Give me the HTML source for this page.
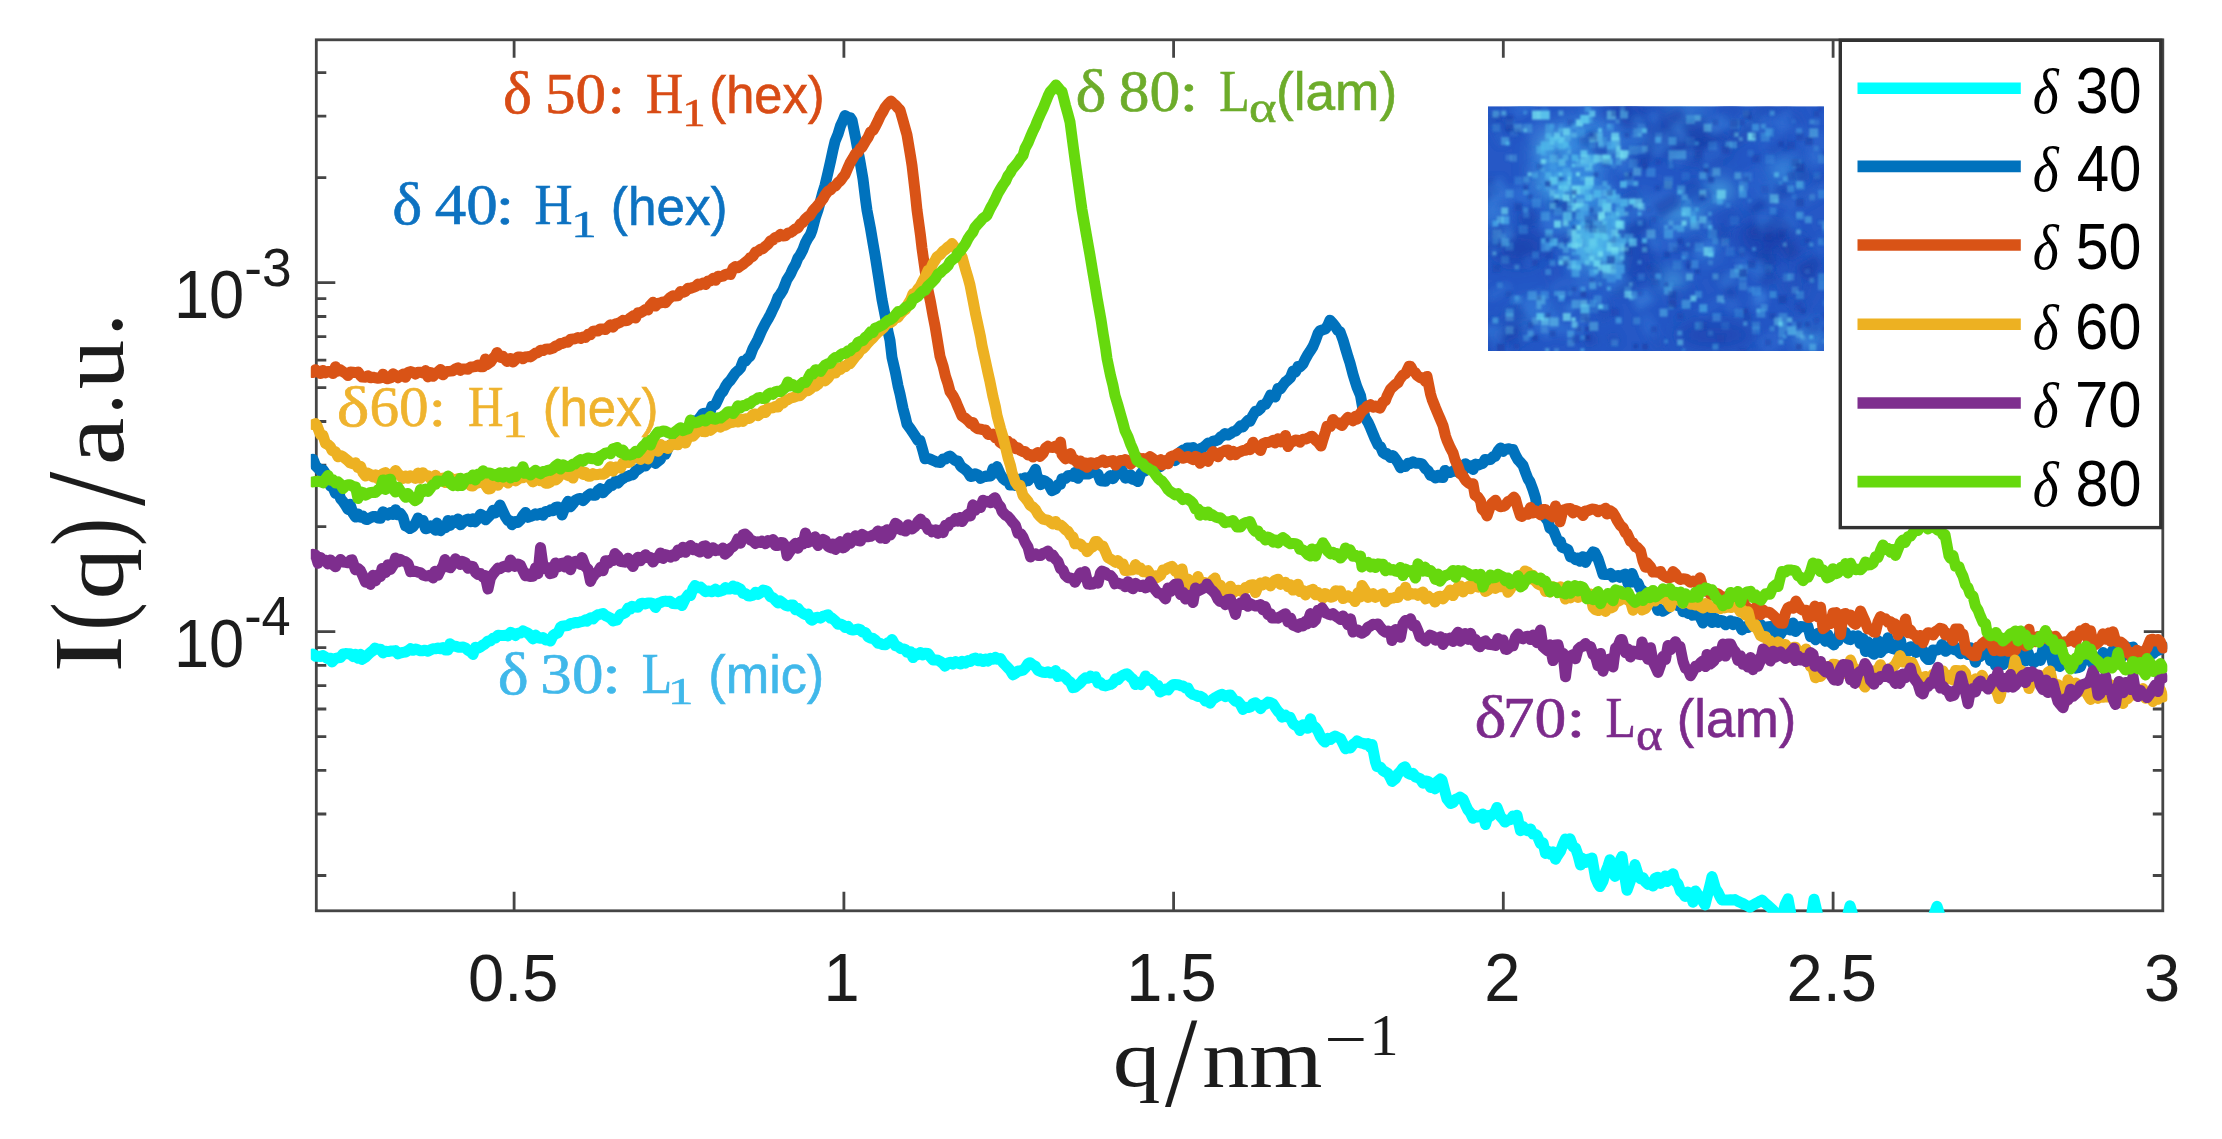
<!DOCTYPE html>
<html lang="en"><head><meta charset="utf-8"><title>SAXS I(q) plot</title>
<style>html,body{margin:0;padding:0;background:#fff;}body{width:2222px;height:1139px;overflow:hidden;}svg{display:block;}.sans{font-family:"Liberation Sans",sans-serif;}.serif{font-family:"Liberation Serif",serif;}</style>
</head><body>
<svg width="2222" height="1139" viewBox="0 0 2222 1139">
<defs>
<clipPath id="axclip"><rect x="310.8" y="38.8" width="1856.5000000000002" height="874.0"/></clipPath>
<filter id="soft" x="-2%" y="-2%" width="104%" height="104%"><feGaussianBlur stdDeviation="0.7"/></filter>
<filter id="blob" x="-50%" y="-50%" width="200%" height="200%"><feGaussianBlur stdDeviation="9"/></filter>
<filter id="spk" x="-5%" y="-5%" width="110%" height="110%"><feGaussianBlur stdDeviation="1.3"/></filter>
<filter id="mot" x="-5%" y="-5%" width="110%" height="110%"><feGaussianBlur stdDeviation="3"/></filter>
<clipPath id="insclip"><rect x="1488" y="106.2" width="336" height="244.8"/></clipPath>
</defs>
<rect width="2222" height="1139" fill="#fff"/>
<g id="all" filter="url(#soft)">
<g stroke="#454545" stroke-width="2.8" fill="none">
<rect x="316.3" y="39.8" width="1846.5000000000002" height="871.0"/>
<path d="M514.1,910.8 v-19 M514.1,39.8 v18 M843.9,910.8 v-19 M843.9,39.8 v18 M1173.6,910.8 v-19 M1173.6,39.8 v18 M1503.3,910.8 v-19 M1503.3,39.8 v18 M1833.1,910.8 v-19 M1833.1,39.8 v18 M316.3,875.5 h10 M2162.8,875.5 h-10 M316.3,814.0 h10 M2162.8,814.0 h-10 M316.3,770.4 h10 M2162.8,770.4 h-10 M316.3,736.6 h10 M2162.8,736.6 h-10 M316.3,709.0 h10 M2162.8,709.0 h-10 M316.3,685.6 h10 M2162.8,685.6 h-10 M316.3,665.4 h10 M2162.8,665.4 h-10 M316.3,647.6 h10 M2162.8,647.6 h-10 M316.3,631.6 h19 M2162.8,631.6 h-19 M316.3,526.6 h10 M2162.8,526.6 h-10 M316.3,465.1 h10 M2162.8,465.1 h-10 M316.3,421.5 h10 M2162.8,421.5 h-10 M316.3,387.7 h10 M2162.8,387.7 h-10 M316.3,360.1 h10 M2162.8,360.1 h-10 M316.3,336.7 h10 M2162.8,336.7 h-10 M316.3,316.5 h10 M2162.8,316.5 h-10 M316.3,298.7 h10 M2162.8,298.7 h-10 M316.3,282.7 h19 M2162.8,282.7 h-19 M316.3,177.7 h10 M2162.8,177.7 h-10 M316.3,116.2 h10 M2162.8,116.2 h-10 M316.3,72.6 h10 M2162.8,72.6 h-10"/>
</g>
<g clip-path="url(#axclip)" fill="none" stroke-linejoin="round" stroke-linecap="round">
<path d="M313.0,653.9 L315.5,656.3 L318.0,656.2 L320.5,656.4 L323.0,655.6 L325.5,657.2 L328.0,658.7 L330.5,658.2 L332.0,662.0 L335.5,658.3 L338.0,657.8 L340.5,657.5 L343.0,654.0 L345.5,653.6 L348.0,653.8 L350.0,653.7 L353.0,656.4 L355.5,654.2 L358.0,658.3 L360.5,654.3 L362.0,659.4 L365.5,657.2 L368.0,654.6 L370.5,652.4 L373.0,650.5 L375.0,648.1 L378.0,649.3 L380.5,649.2 L383.0,652.9 L385.5,651.2 L388.0,651.6 L390.5,651.1 L393.0,650.9 L395.5,650.6 L398.0,653.8 L400.0,653.0 L403.0,652.4 L405.5,652.0 L408.0,650.7 L410.5,648.7 L413.0,650.3 L415.5,649.0 L418.0,649.8 L420.5,650.8 L423.0,650.7 L425.0,650.2 L428.0,651.3 L430.5,649.9 L433.0,648.8 L435.5,648.7 L438.0,647.9 L440.5,648.7 L443.0,647.5 L445.5,650.1 L448.0,649.9 L450.0,643.7 L453.0,646.1 L455.5,646.2 L458.0,647.2 L460.5,647.2 L463.0,647.1 L465.5,647.9 L468.0,650.4 L470.0,651.0 L473.0,654.5 L475.5,647.3 L478.0,648.3 L480.5,646.9 L483.0,645.0 L485.0,644.0 L488.0,640.9 L490.5,640.9 L493.0,638.3 L495.5,638.0 L498.0,635.2 L500.0,635.5 L503.0,635.4 L505.5,635.3 L508.0,635.9 L510.5,632.3 L513.0,633.5 L515.5,635.5 L518.0,633.2 L520.5,633.0 L523.0,630.9 L525.0,632.0 L528.0,633.1 L530.5,636.0 L533.0,638.9 L535.5,635.1 L538.0,637.8 L540.5,638.2 L543.0,637.5 L545.5,639.9 L547.0,639.2 L550.5,641.0 L553.0,635.6 L555.5,633.9 L558.0,632.9 L560.5,627.1 L562.0,626.2 L565.5,625.8 L568.0,625.5 L570.5,623.4 L573.0,623.2 L575.5,622.4 L578.0,622.7 L580.5,621.8 L583.0,621.4 L585.5,619.8 L587.0,621.1 L590.5,617.9 L593.0,618.9 L595.5,616.2 L598.0,614.7 L600.0,614.3 L603.0,613.5 L605.5,615.7 L608.0,616.8 L610.5,618.1 L613.0,621.0 L615.5,620.3 L617.0,620.1 L620.5,614.4 L623.0,613.8 L625.5,612.6 L628.0,608.1 L630.5,608.9 L632.0,606.3 L635.5,607.1 L638.0,607.2 L640.5,603.7 L643.0,603.2 L645.5,603.9 L648.0,602.9 L650.0,602.9 L653.0,603.6 L655.5,607.5 L658.0,603.3 L660.5,602.7 L663.0,601.4 L665.5,601.1 L668.0,601.5 L670.0,601.2 L673.0,603.6 L675.5,603.8 L678.0,603.7 L680.5,601.0 L682.0,605.5 L685.5,598.4 L688.0,594.9 L690.5,595.6 L693.0,588.5 L695.0,585.5 L698.0,587.7 L700.5,587.1 L703.0,589.4 L705.5,591.7 L708.0,591.1 L710.5,591.2 L712.0,591.8 L715.5,589.2 L718.0,591.7 L720.5,591.1 L723.0,590.3 L725.5,587.6 L728.0,589.0 L730.5,588.9 L733.0,586.1 L735.5,589.3 L737.0,587.3 L740.5,589.2 L743.0,593.5 L745.5,593.4 L748.0,595.8 L750.0,596.1 L753.0,595.2 L755.5,592.3 L758.0,594.4 L760.5,592.9 L763.0,590.1 L765.5,590.7 L767.0,591.2 L770.5,596.9 L773.0,597.5 L775.5,600.4 L778.0,603.0 L780.0,600.9 L783.0,603.2 L785.5,605.2 L788.0,606.0 L790.5,605.1 L793.0,604.9 L795.5,609.7 L798.0,608.3 L800.0,611.2 L803.0,613.3 L805.5,614.6 L808.0,614.1 L810.5,619.2 L812.0,620.2 L815.5,617.7 L818.0,617.3 L820.5,618.2 L823.0,616.3 L825.5,615.6 L828.0,614.8 L830.5,618.3 L832.0,618.1 L835.5,621.1 L838.0,624.2 L840.5,624.0 L843.0,625.2 L845.0,627.5 L848.0,626.4 L850.5,629.6 L853.0,630.0 L855.5,629.6 L858.0,629.0 L860.5,629.8 L862.0,631.8 L865.5,632.6 L868.0,636.8 L870.5,638.0 L873.0,638.5 L875.5,640.3 L878.0,643.3 L880.5,643.5 L882.0,644.5 L885.5,644.8 L888.0,642.7 L890.5,642.2 L892.0,639.5 L895.5,645.8 L898.0,646.5 L900.5,648.5 L903.0,648.9 L905.5,649.6 L907.0,652.3 L910.5,651.7 L913.0,657.6 L915.5,653.9 L918.0,654.6 L920.5,652.5 L923.0,655.0 L925.0,653.2 L928.0,653.5 L930.5,657.0 L933.0,660.0 L935.5,659.9 L938.0,660.3 L940.5,661.6 L943.0,663.6 L945.0,666.2 L948.0,663.0 L950.5,662.2 L953.0,664.1 L955.5,661.6 L958.0,663.3 L960.5,664.0 L962.0,661.2 L965.5,663.1 L968.0,660.6 L970.5,661.5 L973.0,658.8 L975.5,658.1 L978.0,660.7 L980.0,659.0 L983.0,661.5 L985.5,659.0 L988.0,661.2 L990.5,658.3 L993.0,659.3 L995.5,657.3 L997.0,659.3 L1000.5,658.5 L1003.0,662.7 L1005.5,665.3 L1008.0,667.9 L1010.0,670.0 L1013.0,674.9 L1015.5,673.4 L1018.0,671.0 L1020.0,670.9 L1023.0,670.2 L1025.5,667.6 L1028.0,663.5 L1030.0,662.7 L1033.0,665.0 L1035.5,666.4 L1038.0,670.4 L1040.5,671.4 L1043.0,672.2 L1045.5,672.5 L1048.0,671.8 L1050.0,672.9 L1053.0,673.0 L1055.5,670.6 L1058.0,676.5 L1060.5,675.9 L1062.0,674.9 L1065.5,677.4 L1068.0,680.4 L1070.5,682.2 L1073.0,687.6 L1075.0,687.3 L1078.0,684.8 L1080.5,682.9 L1083.0,679.8 L1085.5,677.8 L1088.0,678.3 L1090.5,676.1 L1092.0,677.6 L1095.5,676.9 L1098.0,683.0 L1100.5,682.5 L1103.0,685.4 L1105.5,685.9 L1107.0,685.3 L1110.5,684.5 L1113.0,683.0 L1115.5,678.9 L1118.0,679.7 L1120.5,676.7 L1123.0,675.3 L1125.5,674.1 L1127.0,673.7 L1130.5,677.2 L1133.0,679.2 L1135.5,684.6 L1137.0,682.0 L1140.5,684.7 L1143.0,681.6 L1145.5,675.9 L1148.0,680.2 L1150.0,679.4 L1153.0,682.0 L1155.5,685.7 L1158.0,685.5 L1160.0,692.0 L1163.0,690.6 L1165.5,689.0 L1168.0,690.0 L1170.5,686.8 L1173.0,684.8 L1175.0,684.5 L1178.0,684.7 L1180.5,685.7 L1183.0,686.0 L1185.5,688.1 L1188.0,688.1 L1190.0,692.1 L1193.0,694.5 L1195.5,695.1 L1198.0,696.5 L1200.5,696.3 L1203.0,697.9 L1205.5,701.1 L1208.0,701.4 L1210.0,703.2 L1213.0,699.1 L1215.5,697.5 L1218.0,696.1 L1220.5,694.7 L1222.0,694.3 L1225.5,696.6 L1228.0,695.3 L1230.5,695.1 L1233.0,698.7 L1235.5,701.3 L1238.0,701.4 L1240.5,704.5 L1243.0,709.4 L1245.0,707.2 L1248.0,707.6 L1250.5,707.0 L1253.0,703.6 L1255.5,702.7 L1258.0,704.7 L1260.5,708.7 L1263.0,705.3 L1265.5,704.2 L1268.0,702.1 L1270.0,702.4 L1273.0,703.9 L1275.5,707.8 L1278.0,711.4 L1280.5,713.7 L1282.0,717.2 L1285.5,715.2 L1288.0,717.2 L1290.0,717.2 L1293.0,723.5 L1295.5,725.4 L1298.0,726.6 L1300.0,730.5 L1303.0,724.8 L1305.5,727.7 L1308.0,728.3 L1310.5,718.7 L1312.0,724.5 L1315.5,727.4 L1318.0,731.1 L1320.5,736.6 L1323.0,740.2 L1325.0,742.1 L1328.0,738.3 L1330.5,739.5 L1333.0,737.1 L1335.0,736.1 L1338.0,737.5 L1340.5,738.5 L1343.0,743.5 L1345.5,748.7 L1347.0,747.3 L1350.5,748.0 L1353.0,744.3 L1355.5,742.7 L1357.0,740.9 L1360.5,742.8 L1363.0,743.3 L1365.5,744.3 L1368.0,743.6 L1370.5,747.5 L1372.0,744.4 L1375.5,762.1 L1377.0,766.6 L1380.5,767.1 L1383.0,770.7 L1385.5,772.0 L1388.0,773.5 L1390.5,778.2 L1392.0,781.4 L1395.5,778.6 L1398.0,773.8 L1400.5,771.2 L1403.0,767.8 L1405.0,766.7 L1408.0,773.1 L1410.5,774.5 L1413.0,773.4 L1415.5,777.0 L1418.0,777.8 L1420.0,778.6 L1423.0,783.2 L1425.5,780.9 L1428.0,781.4 L1430.5,787.5 L1433.0,783.3 L1435.0,788.9 L1438.0,781.0 L1440.5,778.9 L1442.0,780.2 L1445.5,793.6 L1447.0,798.9 L1450.5,803.5 L1453.0,802.6 L1455.5,799.3 L1458.0,798.3 L1460.0,797.0 L1463.0,799.0 L1465.5,804.8 L1468.0,810.1 L1470.5,813.1 L1473.0,818.3 L1475.0,815.4 L1478.0,817.0 L1480.5,815.9 L1483.0,813.9 L1485.5,824.6 L1488.0,815.4 L1490.0,816.4 L1493.0,814.0 L1495.5,811.1 L1497.0,807.4 L1500.5,816.5 L1503.0,819.2 L1505.0,822.1 L1508.0,820.1 L1510.5,819.6 L1513.0,816.0 L1515.5,816.7 L1517.0,815.3 L1520.5,830.7 L1523.0,826.4 L1525.0,829.6 L1528.0,830.8 L1530.5,828.9 L1533.0,834.1 L1535.5,834.4 L1537.0,835.4 L1540.5,843.7 L1543.0,842.7 L1545.5,853.4 L1547.0,850.8 L1550.5,854.2 L1553.0,851.7 L1555.5,859.2 L1557.0,856.3 L1560.5,851.2 L1563.0,844.4 L1565.5,838.9 L1568.0,843.2 L1570.0,838.7 L1573.0,846.7 L1575.5,847.9 L1578.0,855.1 L1580.5,865.0 L1582.0,858.1 L1585.5,862.6 L1588.0,859.2 L1590.5,861.1 L1592.0,858.0 L1595.5,877.8 L1598.0,883.6 L1600.0,886.6 L1603.0,881.1 L1605.5,872.2 L1608.0,866.0 L1610.0,859.7 L1613.0,870.5 L1615.0,876.4 L1618.0,873.3 L1620.5,859.7 L1622.0,856.5 L1625.5,881.2 L1627.0,890.3 L1630.5,880.6 L1633.0,874.2 L1635.0,864.6 L1638.0,874.2 L1640.5,878.8 L1643.0,877.6 L1645.0,881.5 L1648.0,884.3 L1650.5,882.6 L1653.0,886.1 L1655.0,878.4 L1658.0,877.2 L1660.5,883.4 L1663.0,879.9 L1665.5,875.9 L1667.0,881.6 L1670.5,875.8 L1673.0,873.8 L1675.0,880.9 L1678.0,884.0 L1680.5,891.2 L1683.0,893.5 L1685.0,896.4 L1688.0,892.2 L1690.5,893.4 L1693.0,902.3 L1695.5,890.9 L1697.0,893.5 L1700.5,897.7 L1703.0,901.7 L1705.0,904.9 L1708.0,893.1 L1710.5,883.1 L1712.0,876.6 L1715.5,888.6 L1718.0,892.3 L1720.5,897.6 L1722.0,899.9 L1725.5,900.1 L1728.0,899.9 L1730.5,899.8 L1733.0,900.1 L1735.0,899.6 L1738.0,901.4 L1740.5,902.5 L1743.0,903.6 L1745.5,905.0 L1748.0,906.0 L1750.0,907.2 L1753.0,905.2 L1755.5,903.6 L1758.0,902.3 L1760.5,901.0 L1762.0,900.1 L1765.5,903.4 L1768.0,905.5 L1770.5,907.8 L1773.0,910.1 L1775.0,912.1 L1778.0,919.9 L1780.0,925.2 L1783.0,912.9 L1785.0,905.0 L1788.0,898.8 L1790.5,912.0 L1793.0,925.0 L1795.5,925.3 L1798.0,925.0 L1800.5,924.9 L1803.0,925.1 L1805.5,925.4 L1808.0,925.0 L1810.0,924.9 L1814.0,899.2 L1815.5,905.5 L1818.0,916.3 L1820.0,925.1 L1823.0,925.0 L1825.5,925.2 L1828.0,925.0 L1830.5,925.0 L1833.0,924.9 L1835.5,925.1 L1838.0,924.8 L1840.5,925.0 L1843.0,925.0 L1845.0,925.3 L1848.0,913.7 L1850.0,905.8 L1853.0,915.6 L1856.0,925.0 L1858.0,924.9 L1860.5,925.1 L1863.0,925.1 L1865.5,925.1 L1868.0,924.6 L1870.5,925.1 L1873.0,924.9 L1875.5,925.2 L1878.0,925.0 L1880.5,924.7 L1883.0,924.9 L1885.5,924.8 L1888.0,925.0 L1890.5,924.9 L1893.0,925.0 L1895.5,925.0 L1898.0,925.1 L1900.5,924.9 L1903.0,924.9 L1905.5,924.9 L1908.0,924.7 L1910.5,925.1 L1913.0,925.0 L1915.5,925.0 L1918.0,925.0 L1920.5,925.0 L1923.0,924.8 L1925.5,924.9 L1928.0,924.9 L1930.0,925.1 L1933.0,916.8 L1935.5,910.1 L1937.0,906.3 L1940.5,917.0 L1943.0,924.9" stroke="#00ffff" stroke-width="11.0"/>
<path d="M313.0,459.2 L315.5,465.6 L319.0,469.3 L320.5,470.9 L323.0,469.8 L325.5,473.6 L328.0,479.9 L330.5,486.1 L332.0,484.8 L335.5,493.3 L338.0,489.8 L340.5,498.6 L343.0,501.5 L345.5,505.3 L348.0,509.5 L350.0,504.2 L353.0,513.2 L355.5,517.1 L358.0,513.9 L360.5,517.1 L363.0,516.2 L365.5,519.3 L367.0,519.5 L370.5,517.7 L373.0,516.6 L375.5,516.5 L378.0,518.0 L380.5,518.3 L383.0,511.8 L385.5,513.6 L388.0,515.0 L390.5,512.4 L393.0,514.5 L395.5,509.7 L397.0,514.7 L400.5,513.4 L403.0,517.2 L405.5,526.0 L408.0,527.0 L410.0,528.5 L413.0,526.7 L415.5,523.3 L418.0,518.0 L420.0,520.7 L423.0,520.4 L425.5,528.8 L428.0,528.2 L430.5,526.0 L433.0,527.6 L435.5,530.2 L437.0,523.1 L440.5,530.7 L443.0,527.2 L445.5,527.8 L448.0,520.5 L450.0,525.5 L453.0,520.7 L455.5,522.4 L458.0,518.9 L460.5,524.8 L463.0,522.3 L465.5,520.1 L468.0,519.1 L470.5,521.7 L473.0,518.8 L475.0,521.9 L478.0,518.6 L480.5,514.3 L483.0,515.8 L485.5,519.8 L488.0,517.3 L490.5,514.9 L493.0,510.3 L495.5,512.9 L498.0,508.7 L500.0,505.1 L503.0,511.6 L505.5,516.9 L508.0,520.5 L510.5,521.0 L512.0,524.8 L515.5,521.6 L518.0,522.4 L520.5,519.9 L523.0,515.4 L525.5,512.4 L528.0,517.3 L530.5,516.4 L533.0,515.6 L535.5,513.8 L537.0,515.1 L540.5,513.3 L543.0,515.3 L545.5,511.4 L548.0,511.7 L550.5,509.9 L553.0,510.7 L555.5,507.5 L558.0,507.0 L560.5,509.0 L562.0,515.0 L565.5,505.9 L568.0,501.3 L570.5,506.8 L573.0,503.8 L575.5,500.2 L578.0,499.0 L580.5,498.5 L583.0,500.8 L585.5,498.2 L587.0,496.3 L590.5,493.8 L593.0,495.3 L595.5,495.2 L598.0,490.5 L600.5,488.6 L603.0,492.8 L605.5,490.1 L608.0,487.9 L610.5,484.1 L612.0,485.6 L615.5,481.0 L618.0,482.9 L620.5,480.2 L623.0,478.5 L625.5,476.9 L628.0,476.2 L630.5,475.1 L633.0,474.7 L635.5,471.0 L637.0,470.1 L640.5,467.5 L643.0,464.8 L645.5,465.9 L648.0,462.5 L650.5,460.8 L653.0,459.2 L655.5,463.4 L658.0,461.3 L660.5,459.2 L662.0,454.9 L665.5,454.3 L668.0,448.0 L670.5,444.7 L673.0,444.0 L675.5,443.5 L678.0,440.0 L680.5,434.8 L683.0,435.5 L685.5,431.4 L687.0,429.7 L690.5,426.1 L693.0,420.7 L695.5,423.4 L698.0,420.0 L700.5,416.7 L703.0,413.4 L705.5,413.2 L708.0,414.9 L710.5,410.9 L712.0,406.1 L715.5,404.6 L718.0,399.3 L720.5,394.0 L723.0,391.4 L725.5,386.4 L728.0,382.7 L730.0,380.8 L733.0,376.5 L735.5,372.8 L738.0,370.6 L740.5,368.0 L743.0,361.3 L745.5,361.0 L748.0,357.8 L750.0,356.3 L753.0,348.4 L755.5,344.0 L758.0,339.2 L760.5,333.3 L762.0,330.0 L765.5,323.3 L768.0,319.0 L770.5,314.4 L773.0,309.0 L775.0,305.1 L778.0,297.3 L780.5,293.9 L783.0,289.8 L785.5,283.4 L787.0,279.6 L790.5,274.1 L793.0,268.5 L795.5,264.2 L798.0,257.9 L800.0,255.3 L803.0,249.4 L805.5,242.8 L808.0,238.2 L810.5,234.4 L812.0,230.3 L815.5,217.2 L818.0,209.9 L820.5,201.1 L823.0,191.8 L825.0,185.3 L828.0,172.5 L830.5,161.6 L833.0,149.9 L835.0,141.4 L838.0,134.2 L840.5,125.9 L843.0,120.5 L845.0,115.5 L848.0,117.2 L850.5,117.9 L852.0,120.2 L855.5,137.3 L858.0,151.1 L860.0,161.3 L863.0,179.0 L865.5,199.3 L867.0,210.3 L870.5,228.5 L873.0,243.3 L875.0,254.8 L878.0,273.9 L880.5,289.8 L882.0,299.6 L885.5,317.5 L888.0,331.6 L890.0,340.4 L892.0,357.6 L895.5,372.7 L898.0,385.8 L900.0,393.8 L903.0,408.4 L905.5,417.7 L907.0,424.2 L910.5,429.0 L913.0,432.8 L915.5,436.6 L918.0,440.5 L920.0,440.4 L923.0,451.0 L925.0,458.7 L928.0,458.3 L930.5,459.2 L933.0,460.4 L935.5,461.3 L937.0,462.1 L940.5,462.5 L943.0,459.1 L945.5,459.0 L948.0,456.8 L950.0,456.0 L953.0,458.8 L955.5,460.8 L958.0,460.9 L960.5,465.8 L962.0,467.3 L965.5,469.8 L968.0,472.2 L970.5,476.5 L973.0,476.0 L975.0,473.7 L978.0,474.8 L980.5,478.4 L983.0,477.1 L985.5,476.1 L987.0,476.4 L990.5,476.0 L993.0,468.7 L995.5,473.1 L997.0,466.6 L1000.5,474.7 L1003.0,478.4 L1005.5,480.4 L1008.0,479.9 L1010.0,485.1 L1013.0,484.8 L1015.5,485.6 L1018.0,484.2 L1020.5,478.8 L1023.0,482.8 L1025.0,477.7 L1028.0,480.8 L1030.5,477.1 L1033.0,473.9 L1035.5,469.3 L1037.0,475.9 L1040.5,484.7 L1043.0,480.3 L1045.5,481.4 L1048.0,483.2 L1050.5,487.8 L1052.0,490.7 L1055.5,488.8 L1058.0,484.7 L1060.5,484.3 L1062.0,478.8 L1065.5,478.5 L1068.0,475.8 L1070.5,475.4 L1073.0,476.5 L1075.0,472.4 L1078.0,478.3 L1080.5,469.7 L1083.0,474.1 L1085.5,473.8 L1088.0,474.1 L1090.5,473.0 L1093.0,469.1 L1095.0,472.2 L1098.0,474.3 L1100.5,480.8 L1103.0,481.1 L1105.5,481.3 L1107.0,478.9 L1110.5,475.4 L1113.0,478.7 L1115.5,475.3 L1118.0,470.4 L1120.5,468.1 L1122.0,470.3 L1125.5,478.2 L1128.0,476.8 L1130.5,474.7 L1132.0,479.2 L1135.5,480.0 L1138.0,481.6 L1140.5,474.0 L1143.0,471.1 L1145.5,470.9 L1148.0,468.5 L1150.0,468.0 L1153.0,463.8 L1155.5,467.7 L1158.0,464.6 L1160.5,466.7 L1163.0,463.9 L1165.5,461.5 L1168.0,462.0 L1170.5,459.7 L1173.0,458.4 L1175.0,460.7 L1178.0,456.0 L1180.5,451.8 L1183.0,450.1 L1185.5,450.0 L1187.0,448.0 L1190.5,448.1 L1193.0,447.5 L1195.5,452.5 L1198.0,450.6 L1200.5,448.6 L1203.0,447.5 L1205.0,446.1 L1208.0,443.1 L1210.5,444.7 L1213.0,441.2 L1215.5,440.8 L1218.0,439.9 L1220.5,437.0 L1223.0,435.5 L1225.0,433.6 L1228.0,435.0 L1230.5,433.7 L1233.0,431.6 L1235.5,431.1 L1238.0,428.8 L1240.5,425.9 L1243.0,426.8 L1245.5,423.2 L1248.0,420.4 L1250.0,421.3 L1253.0,415.3 L1255.5,411.2 L1258.0,410.9 L1260.5,408.5 L1262.0,405.1 L1265.5,404.4 L1268.0,400.2 L1270.5,395.2 L1273.0,395.9 L1275.0,397.1 L1278.0,388.5 L1280.5,388.9 L1283.0,385.2 L1285.5,381.9 L1287.0,380.9 L1290.5,377.5 L1293.0,370.9 L1295.5,372.0 L1298.0,366.5 L1300.0,367.0 L1303.0,363.9 L1305.5,358.7 L1308.0,354.3 L1310.0,351.3 L1313.0,346.5 L1315.5,340.5 L1318.0,333.5 L1320.0,330.7 L1323.0,329.7 L1325.5,329.0 L1328.0,324.9 L1330.0,320.2 L1333.0,323.4 L1335.5,326.8 L1338.0,330.7 L1340.0,331.7 L1343.0,339.8 L1345.5,348.4 L1348.0,356.8 L1350.0,362.9 L1353.0,374.4 L1355.5,382.5 L1357.0,387.1 L1360.5,395.5 L1363.0,409.7 L1365.0,417.4 L1368.0,422.3 L1370.5,427.8 L1373.0,433.8 L1375.0,438.7 L1378.0,444.9 L1380.5,446.7 L1383.0,452.6 L1385.5,454.4 L1387.0,453.6 L1390.5,457.5 L1393.0,455.6 L1395.5,458.9 L1398.0,462.6 L1400.5,467.7 L1402.0,466.2 L1405.5,466.6 L1408.0,463.2 L1410.0,463.6 L1413.0,461.9 L1415.5,463.3 L1418.0,463.2 L1420.5,463.4 L1422.0,463.9 L1425.5,468.8 L1428.0,470.6 L1430.5,475.4 L1432.0,475.1 L1435.5,477.9 L1438.0,475.2 L1440.0,477.3 L1443.0,477.6 L1445.0,470.4 L1448.0,472.5 L1450.5,472.4 L1453.0,471.2 L1455.0,469.8 L1458.0,472.1 L1460.5,473.3 L1463.0,471.6 L1465.5,463.7 L1468.0,467.1 L1470.0,466.0 L1473.0,469.6 L1475.5,464.1 L1478.0,465.2 L1480.5,464.2 L1483.0,463.3 L1485.0,459.5 L1488.0,459.7 L1490.5,459.5 L1493.0,456.8 L1495.0,456.6 L1498.0,451.0 L1500.5,447.9 L1503.0,451.4 L1505.5,449.3 L1509.0,448.7 L1510.5,449.6 L1513.0,449.6 L1515.5,455.3 L1518.0,459.7 L1520.0,461.9 L1523.0,465.4 L1525.5,472.4 L1528.0,478.9 L1530.0,481.9 L1533.0,489.9 L1535.5,497.8 L1537.0,507.7 L1540.5,511.8 L1543.0,511.5 L1545.5,517.7 L1548.0,521.2 L1550.0,528.5 L1553.0,529.4 L1555.5,535.4 L1558.0,541.6 L1560.5,541.7 L1562.0,547.3 L1565.5,548.5 L1568.0,549.7 L1570.5,556.9 L1573.0,557.1 L1575.5,559.6 L1578.0,558.0 L1580.0,561.3 L1583.0,556.7 L1585.5,562.4 L1588.0,557.1 L1590.5,556.3 L1593.0,551.9 L1595.0,552.7 L1598.0,558.7 L1600.5,566.4 L1603.0,574.3 L1605.0,574.5 L1608.0,574.6 L1610.5,573.4 L1613.0,577.1 L1615.5,576.2 L1618.0,575.6 L1620.0,577.3 L1623.0,574.9 L1625.5,574.1 L1628.0,583.5 L1630.5,575.2 L1632.0,573.4 L1635.5,582.5 L1638.0,583.1 L1640.0,588.3 L1643.0,590.9 L1645.5,595.5 L1648.0,594.4 L1650.5,596.8 L1653.0,602.0 L1655.5,604.2 L1658.0,610.5 L1660.0,609.4 L1663.0,611.2 L1665.5,609.6 L1668.0,608.1 L1670.5,604.4 L1673.0,600.4 L1675.0,603.5 L1678.0,605.7 L1680.5,602.7 L1683.0,611.7 L1685.5,610.6 L1688.0,613.5 L1690.0,605.9 L1693.0,615.2 L1695.5,614.7 L1698.0,615.5 L1700.0,616.9 L1703.0,623.0 L1705.5,614.8 L1708.0,615.0 L1710.5,612.9 L1712.0,622.5 L1715.5,618.6 L1718.0,622.4 L1720.5,620.5 L1723.0,621.0 L1725.5,624.8 L1728.0,622.8 L1730.5,620.7 L1733.0,624.7 L1735.0,621.9 L1738.0,622.8 L1740.5,626.8 L1742.0,629.9 L1745.5,626.8 L1748.0,627.5 L1750.5,621.5 L1754.0,617.5 L1755.5,624.0 L1758.0,622.7 L1760.5,624.3 L1763.0,627.4 L1765.5,628.8 L1768.0,626.7 L1770.5,626.6 L1773.0,626.2 L1775.5,633.3 L1778.0,632.9 L1780.5,634.4 L1782.0,631.7 L1785.5,628.6 L1788.0,629.2 L1790.5,630.1 L1793.0,622.9 L1795.5,631.5 L1799.0,627.7 L1800.5,626.5 L1803.0,626.7 L1805.5,626.9 L1808.0,626.8 L1810.5,636.7 L1813.0,634.4 L1815.5,639.7 L1818.0,633.2 L1820.5,637.1 L1822.0,635.5 L1825.5,641.3 L1828.0,634.7 L1830.5,642.1 L1834.0,644.9 L1835.5,639.2 L1838.0,640.9 L1840.5,628.9 L1843.0,631.6 L1845.5,632.5 L1848.0,639.1 L1850.5,639.6 L1853.0,635.8 L1855.5,638.1 L1858.0,635.7 L1860.0,643.5 L1863.0,638.4 L1865.5,651.5 L1868.0,641.9 L1870.5,651.7 L1874.0,654.2 L1875.5,646.6 L1878.0,640.6 L1880.5,652.5 L1883.0,649.3 L1885.5,648.4 L1888.0,637.8 L1890.5,647.6 L1893.0,648.7 L1895.5,649.3 L1898.0,643.6 L1900.5,640.3 L1902.0,648.3 L1905.5,651.7 L1908.0,651.4 L1910.5,646.7 L1913.0,647.2 L1916.0,652.4 L1918.0,644.9 L1920.5,647.6 L1923.0,650.2 L1925.5,657.0 L1928.0,659.5 L1930.0,659.4 L1933.0,650.1 L1935.5,650.2 L1938.0,649.8 L1940.5,648.6 L1942.0,644.5 L1945.5,651.3 L1948.0,649.7 L1950.5,645.8 L1954.0,649.7 L1955.5,647.2 L1958.0,651.1 L1960.5,653.7 L1963.0,648.6 L1966.0,649.9 L1968.0,654.6 L1970.5,647.7 L1973.0,653.4 L1975.5,662.2 L1978.0,648.7 L1980.5,656.4 L1983.0,648.9 L1985.5,649.4 L1989.0,652.8 L1990.5,660.7 L1993.0,656.2 L1995.5,665.6 L1998.0,660.9 L2000.5,659.0 L2003.0,664.7 L2005.5,659.1 L2008.0,652.8 L2010.5,658.7 L2013.0,665.6 L2015.5,656.9 L2017.0,657.2 L2020.5,651.3 L2023.0,655.4 L2025.5,661.0 L2028.0,652.5 L2030.5,660.0 L2034.0,662.5 L2035.5,661.6 L2038.0,657.7 L2040.5,660.4 L2043.0,648.7 L2045.5,645.6 L2048.0,654.2 L2050.5,653.8 L2053.0,663.4 L2055.5,665.4 L2058.0,654.0 L2060.0,666.5 L2063.0,662.1 L2065.5,660.2 L2068.0,664.6 L2071.0,667.2 L2073.0,663.9 L2075.5,668.2 L2078.0,667.7 L2080.5,666.6 L2083.0,659.8 L2086.0,659.9 L2088.0,649.9 L2090.5,660.0 L2093.0,664.2 L2095.5,659.1 L2098.0,657.2 L2100.0,663.6 L2103.0,652.6 L2105.5,655.3 L2108.0,657.5 L2110.5,654.1 L2113.0,650.0 L2115.5,662.1 L2119.0,657.5 L2120.5,655.8 L2123.0,655.9 L2125.5,646.1 L2128.0,647.9 L2130.5,647.6 L2133.0,647.1 L2135.5,653.4 L2138.0,653.0 L2140.5,652.0 L2142.0,654.8 L2145.5,652.4 L2148.0,655.4 L2150.5,648.0 L2153.0,653.8 L2155.5,651.5 L2158.0,650.5 L2160.5,649.5 L2163.0,646.1" stroke="#0072bd" stroke-width="11.0"/>
<path d="M313.0,372.6 L315.5,369.7 L318.0,371.5 L320.5,373.6 L323.0,370.6 L325.5,372.8 L328.0,371.6 L330.5,371.4 L333.0,373.6 L335.5,366.7 L337.0,371.3 L340.5,369.9 L343.0,371.7 L345.5,373.1 L348.0,375.6 L350.5,372.0 L353.0,372.2 L355.5,372.6 L358.0,372.0 L360.5,375.6 L362.0,377.1 L365.5,377.3 L368.0,375.9 L370.5,377.8 L373.0,377.2 L375.5,377.8 L378.0,378.2 L380.5,378.1 L383.0,374.2 L385.5,377.9 L387.0,378.8 L390.5,378.0 L393.0,373.7 L395.5,375.5 L398.0,377.7 L400.5,375.7 L403.0,374.2 L405.5,377.3 L408.0,372.5 L410.5,371.6 L412.0,372.0 L415.5,374.1 L418.0,372.3 L420.5,372.3 L423.0,373.0 L425.5,370.6 L428.0,376.9 L430.5,372.4 L433.0,376.3 L435.5,373.8 L437.0,372.6 L440.5,369.5 L443.0,374.8 L445.5,371.9 L448.0,371.4 L450.5,371.1 L453.0,370.7 L455.5,368.8 L458.0,367.8 L460.5,370.4 L462.0,368.9 L465.5,369.1 L468.0,369.2 L470.5,367.1 L473.0,366.9 L475.5,366.5 L478.0,365.0 L480.5,366.8 L483.0,366.8 L485.5,359.0 L487.0,364.6 L490.5,362.1 L493.0,358.4 L495.5,355.8 L497.0,352.6 L500.5,357.3 L503.0,356.4 L505.5,359.7 L507.0,361.5 L510.5,358.5 L513.0,362.0 L515.5,359.5 L518.0,357.0 L520.5,356.9 L523.0,358.7 L525.0,357.0 L528.0,356.6 L530.5,356.9 L533.0,355.0 L535.5,353.2 L538.0,352.6 L540.5,350.2 L543.0,350.6 L545.5,349.2 L548.0,348.9 L550.0,349.2 L553.0,348.1 L555.5,346.1 L558.0,345.4 L560.5,343.5 L563.0,343.4 L565.5,341.9 L568.0,342.2 L570.5,339.2 L573.0,339.1 L575.0,338.8 L578.0,337.5 L580.5,338.5 L583.0,336.9 L585.5,337.5 L588.0,334.2 L590.5,334.7 L593.0,331.3 L595.5,331.0 L598.0,331.0 L600.0,329.1 L603.0,329.0 L605.5,329.5 L608.0,327.1 L610.5,324.7 L613.0,327.2 L615.5,323.9 L618.0,323.3 L620.5,322.2 L623.0,320.3 L625.0,320.7 L628.0,320.2 L630.5,317.7 L633.0,316.0 L635.5,318.0 L638.0,312.8 L640.5,312.8 L643.0,311.3 L645.5,309.5 L648.0,309.9 L650.0,305.7 L653.0,302.3 L655.5,306.1 L658.0,303.4 L660.5,302.9 L663.0,301.9 L665.5,302.7 L668.0,299.6 L670.5,297.2 L673.0,295.8 L675.0,295.9 L678.0,295.7 L680.5,291.5 L683.0,292.3 L685.5,291.3 L688.0,288.2 L690.5,288.4 L693.0,287.4 L695.5,286.6 L698.0,284.1 L700.0,285.0 L703.0,283.0 L705.5,284.5 L708.0,280.9 L710.5,280.9 L713.0,278.4 L715.5,280.3 L718.0,276.2 L720.5,276.7 L723.0,276.2 L725.0,274.6 L728.0,273.9 L730.5,274.5 L733.0,268.3 L735.5,266.5 L738.0,267.7 L740.5,265.9 L743.0,264.2 L745.5,262.1 L748.0,260.3 L750.0,257.9 L753.0,256.2 L755.5,252.0 L758.0,251.2 L760.5,249.1 L763.0,248.7 L765.5,246.2 L768.0,244.2 L770.5,240.9 L773.0,239.9 L775.0,237.6 L778.0,236.9 L780.5,234.3 L783.0,235.9 L785.5,235.7 L788.0,233.1 L790.5,232.5 L792.0,231.6 L795.5,228.8 L798.0,227.8 L800.5,223.9 L803.0,222.3 L805.5,218.8 L808.0,216.5 L810.0,215.5 L813.0,210.5 L815.5,207.9 L818.0,204.9 L820.5,202.0 L823.0,198.9 L825.0,195.1 L828.0,191.2 L830.5,189.9 L833.0,187.0 L835.5,185.9 L838.0,182.6 L840.5,180.6 L843.0,177.0 L845.0,174.7 L848.0,167.7 L850.0,163.1 L853.0,158.1 L855.5,153.7 L858.0,152.4 L860.5,148.1 L862.0,147.3 L865.5,141.2 L868.0,137.5 L870.5,131.9 L873.0,130.4 L875.0,127.0 L878.0,121.0 L880.5,115.5 L883.0,111.6 L885.0,107.6 L888.0,103.9 L891.0,101.0 L893.0,103.1 L895.5,105.2 L898.0,108.0 L900.0,109.9 L903.0,120.5 L905.5,129.5 L907.0,134.9 L910.5,155.9 L912.0,165.4 L915.5,195.4 L917.0,210.0 L920.5,235.5 L922.0,248.5 L925.5,273.2 L927.0,285.2 L930.5,301.9 L933.0,315.9 L935.0,325.9 L938.0,344.2 L940.0,356.4 L943.0,365.8 L945.5,376.2 L948.0,383.8 L950.0,391.5 L953.0,395.8 L955.5,400.7 L958.0,406.8 L960.5,412.5 L962.0,416.0 L965.5,418.4 L968.0,420.6 L970.5,423.6 L973.0,422.6 L975.0,426.9 L978.0,428.8 L980.5,429.1 L983.0,429.8 L985.5,430.0 L988.0,434.4 L990.0,434.5 L993.0,434.1 L995.5,438.0 L998.0,438.1 L1000.0,442.4 L1003.0,444.2 L1005.5,441.1 L1008.0,441.3 L1010.5,444.5 L1012.0,443.8 L1015.5,448.6 L1018.0,447.7 L1020.5,450.4 L1023.0,451.7 L1025.0,451.5 L1028.0,454.9 L1030.5,454.6 L1033.0,457.1 L1035.5,454.0 L1038.0,452.5 L1040.0,456.4 L1043.0,453.4 L1045.5,448.0 L1048.0,446.2 L1050.0,447.3 L1053.0,447.4 L1055.5,446.1 L1058.0,448.7 L1060.5,442.1 L1062.0,454.5 L1065.5,458.8 L1068.0,457.6 L1070.5,453.6 L1073.0,459.6 L1075.0,459.8 L1078.0,463.3 L1080.5,461.1 L1083.0,465.2 L1085.5,463.1 L1087.0,467.3 L1090.5,462.7 L1093.0,463.1 L1095.5,464.4 L1098.0,462.4 L1100.0,462.2 L1103.0,459.9 L1105.5,462.7 L1108.0,461.7 L1110.5,461.2 L1113.0,460.6 L1115.5,465.1 L1118.0,462.3 L1120.5,460.4 L1123.0,460.6 L1125.0,459.6 L1128.0,460.5 L1130.5,464.2 L1133.0,461.8 L1135.5,458.6 L1138.0,457.5 L1140.5,460.0 L1143.0,458.6 L1145.5,460.3 L1148.0,458.1 L1150.0,456.7 L1153.0,458.6 L1155.5,462.1 L1158.0,462.9 L1160.5,459.6 L1162.0,465.0 L1165.5,460.5 L1168.0,463.8 L1170.5,456.8 L1173.0,455.8 L1175.0,455.4 L1178.0,453.5 L1180.5,455.8 L1183.0,458.2 L1185.5,457.4 L1188.0,456.5 L1190.5,458.3 L1193.0,459.5 L1195.5,456.4 L1198.0,457.4 L1200.0,463.3 L1203.0,459.5 L1205.5,457.4 L1208.0,461.4 L1210.5,455.6 L1213.0,451.5 L1215.5,454.9 L1218.0,456.7 L1220.5,452.5 L1223.0,451.8 L1225.0,450.4 L1228.0,450.0 L1230.5,454.9 L1233.0,451.3 L1235.5,454.7 L1238.0,452.6 L1240.5,451.6 L1243.0,450.5 L1245.5,450.3 L1248.0,448.4 L1250.0,449.7 L1253.0,442.2 L1255.5,447.0 L1258.0,447.8 L1260.5,450.6 L1263.0,443.8 L1265.5,442.6 L1268.0,442.5 L1270.5,441.8 L1273.0,440.5 L1275.0,442.9 L1278.0,438.7 L1280.5,441.9 L1283.0,440.3 L1285.5,435.5 L1288.0,446.6 L1290.5,441.9 L1293.0,441.5 L1295.5,440.1 L1298.0,440.2 L1300.0,442.3 L1303.0,439.2 L1305.5,439.1 L1308.0,438.1 L1310.5,436.6 L1312.0,436.2 L1315.5,440.2 L1318.0,442.2 L1321.0,446.1 L1323.0,439.4 L1325.5,431.6 L1327.0,426.3 L1330.5,426.3 L1333.0,419.5 L1335.5,422.2 L1338.0,422.9 L1340.5,424.5 L1342.0,425.6 L1345.5,420.0 L1348.0,417.4 L1350.5,418.7 L1353.0,420.9 L1355.5,416.2 L1357.0,419.2 L1360.5,413.2 L1363.0,410.0 L1365.5,408.4 L1367.0,406.3 L1370.5,404.7 L1373.0,407.1 L1375.5,406.0 L1378.0,407.4 L1380.0,408.2 L1383.0,402.0 L1385.5,400.5 L1387.0,396.2 L1390.5,389.1 L1393.0,386.7 L1395.5,384.4 L1398.0,382.7 L1400.0,378.8 L1403.0,375.0 L1405.5,373.6 L1409.0,366.3 L1410.5,366.3 L1413.0,370.9 L1415.5,372.9 L1417.0,375.3 L1420.5,377.9 L1423.0,377.7 L1425.5,381.7 L1427.0,376.4 L1430.5,393.9 L1432.0,399.1 L1435.5,407.9 L1438.0,413.8 L1440.0,418.5 L1443.0,425.6 L1445.5,435.9 L1447.0,440.3 L1450.5,448.2 L1453.0,452.8 L1455.0,459.7 L1458.0,466.5 L1460.5,474.0 L1462.0,474.5 L1465.5,480.2 L1468.0,482.6 L1470.5,484.2 L1473.0,483.8 L1475.0,495.2 L1478.0,497.2 L1480.5,500.8 L1482.0,508.8 L1485.5,512.3 L1487.0,515.9 L1490.5,505.7 L1492.0,503.2 L1495.5,500.3 L1498.0,505.2 L1500.5,506.7 L1503.0,506.4 L1505.0,505.5 L1508.0,501.5 L1510.5,500.7 L1514.0,497.1 L1515.5,499.2 L1518.0,508.4 L1520.5,516.0 L1522.0,516.4 L1525.5,512.7 L1528.0,514.3 L1530.5,507.5 L1533.0,513.1 L1535.0,510.6 L1538.0,512.1 L1540.5,514.9 L1543.0,509.5 L1545.5,509.5 L1548.0,513.8 L1550.0,514.8 L1553.0,516.9 L1555.5,505.9 L1558.0,515.7 L1560.0,521.8 L1563.0,510.0 L1565.5,509.4 L1567.0,508.7 L1570.5,508.6 L1573.0,512.9 L1575.0,510.3 L1578.0,511.6 L1580.5,512.5 L1583.0,515.5 L1585.5,511.0 L1588.0,510.7 L1590.5,509.7 L1592.0,509.1 L1595.5,509.4 L1598.0,511.7 L1600.5,510.2 L1603.0,509.9 L1605.5,508.2 L1607.0,514.0 L1610.5,511.0 L1613.0,512.8 L1615.5,516.9 L1617.0,520.0 L1620.5,525.7 L1623.0,527.6 L1625.5,533.0 L1627.0,533.5 L1630.5,541.3 L1633.0,542.8 L1635.5,546.9 L1637.0,547.2 L1640.5,550.8 L1643.0,561.2 L1645.5,567.3 L1647.0,562.8 L1650.5,566.8 L1653.0,572.1 L1655.5,572.0 L1658.0,572.3 L1660.5,571.4 L1662.0,574.6 L1665.5,576.8 L1668.0,577.9 L1670.5,577.6 L1673.0,571.5 L1675.5,573.8 L1678.0,577.7 L1680.5,579.5 L1683.0,578.8 L1685.5,578.9 L1687.0,579.7 L1690.5,582.3 L1693.0,581.1 L1695.5,581.9 L1698.0,584.6 L1700.0,577.7 L1703.0,588.6 L1705.5,591.0 L1708.0,589.2 L1710.5,594.6 L1713.0,595.1 L1715.5,593.2 L1718.0,593.8 L1720.5,595.8 L1723.0,602.6 L1725.5,596.8 L1728.0,600.5 L1730.5,594.7 L1733.0,598.8 L1735.5,603.8 L1738.0,605.6 L1740.5,598.0 L1743.0,599.7 L1745.5,607.5 L1747.0,607.6 L1750.5,610.5 L1754.0,616.0 L1755.5,607.6 L1758.0,610.8 L1760.5,614.7 L1763.0,609.8 L1765.5,612.2 L1768.0,612.2 L1770.0,612.7 L1773.0,615.2 L1775.5,617.6 L1778.0,621.3 L1780.0,623.0 L1783.0,623.2 L1785.5,612.8 L1788.0,607.7 L1790.5,606.6 L1793.0,608.3 L1796.0,601.1 L1798.0,604.8 L1800.5,608.7 L1803.0,610.2 L1806.0,610.3 L1808.0,617.5 L1810.5,617.0 L1813.0,611.2 L1815.0,606.1 L1818.0,617.0 L1820.5,607.2 L1823.0,628.7 L1825.0,627.2 L1828.0,622.7 L1830.5,623.5 L1833.0,612.9 L1836.0,612.6 L1838.0,618.4 L1840.5,634.5 L1843.0,614.4 L1845.5,613.4 L1848.0,619.1 L1850.5,614.9 L1853.0,622.6 L1855.5,624.4 L1858.0,621.4 L1860.5,611.0 L1863.0,616.7 L1865.0,621.1 L1868.0,629.1 L1870.5,628.9 L1874.0,632.1 L1875.5,632.2 L1878.0,621.8 L1880.5,616.6 L1883.0,619.5 L1885.5,618.8 L1888.0,622.3 L1890.5,621.9 L1893.0,628.7 L1895.0,623.8 L1898.0,635.0 L1900.5,626.5 L1903.0,629.2 L1905.5,619.1 L1908.0,632.8 L1910.5,630.0 L1912.0,633.5 L1915.5,635.3 L1918.0,639.3 L1920.5,635.4 L1923.0,642.7 L1925.5,635.9 L1928.0,632.7 L1930.5,633.2 L1933.0,635.1 L1935.5,631.5 L1938.0,630.1 L1940.0,628.3 L1943.0,629.1 L1945.5,635.0 L1949.0,633.7 L1950.5,637.0 L1953.0,640.6 L1955.5,628.9 L1959.0,629.1 L1960.5,633.1 L1963.0,634.1 L1966.0,650.4 L1968.0,650.8 L1970.5,653.2 L1973.0,655.7 L1976.0,655.8 L1978.0,646.9 L1980.5,646.5 L1982.0,643.8 L1985.5,641.1 L1988.0,643.0 L1990.5,642.4 L1994.0,650.6 L1995.5,646.4 L1998.0,642.6 L2000.5,650.9 L2003.0,650.7 L2005.5,644.7 L2008.0,651.3 L2010.5,643.5 L2013.0,652.2 L2015.5,649.9 L2017.0,643.4 L2020.5,642.3 L2023.0,642.3 L2025.5,646.0 L2029.0,629.3 L2030.5,641.5 L2033.0,639.7 L2035.5,641.8 L2038.0,636.5 L2040.5,638.3 L2043.0,635.3 L2046.0,638.8 L2048.0,634.6 L2050.5,638.4 L2053.0,638.1 L2055.5,636.3 L2058.0,640.2 L2060.0,647.8 L2063.0,642.2 L2065.5,641.8 L2069.0,641.0 L2070.5,639.1 L2073.0,636.0 L2075.5,642.5 L2078.0,635.9 L2080.5,630.7 L2083.0,633.8 L2085.5,628.3 L2088.0,639.5 L2090.5,630.7 L2093.0,643.5 L2095.0,644.9 L2098.0,642.7 L2100.5,640.2 L2103.0,633.8 L2105.5,639.2 L2109.0,632.9 L2110.5,641.3 L2113.0,631.8 L2115.5,640.8 L2118.0,642.3 L2120.5,641.9 L2123.0,643.8 L2125.5,647.4 L2128.0,653.0 L2130.5,652.3 L2133.0,661.8 L2135.5,652.3 L2137.0,650.2 L2140.5,653.5 L2143.0,657.7 L2145.5,650.1 L2147.0,648.2 L2150.5,639.7 L2153.0,639.2 L2156.0,641.0 L2158.0,639.4 L2160.5,642.1 L2163.0,648.1" stroke="#d95319" stroke-width="11.0"/>
<path d="M313.0,424.6 L315.5,423.7 L317.0,425.7 L320.5,434.7 L323.0,435.4 L325.5,443.4 L328.0,444.7 L330.5,446.9 L332.0,450.4 L335.5,451.9 L338.0,456.7 L340.5,455.5 L343.0,456.7 L345.5,458.7 L348.0,460.7 L350.0,462.9 L353.0,463.9 L355.5,462.8 L358.0,467.6 L360.5,466.2 L363.0,472.7 L365.5,476.1 L368.0,473.2 L370.0,474.3 L373.0,477.1 L375.5,474.7 L378.0,478.8 L380.5,475.8 L383.0,473.5 L385.5,472.5 L388.0,475.1 L390.5,474.8 L393.0,474.8 L395.5,470.5 L398.0,473.7 L400.0,475.6 L403.0,478.5 L405.5,475.9 L408.0,478.0 L410.5,475.8 L413.0,477.3 L415.5,478.4 L418.0,473.1 L420.5,478.2 L423.0,472.7 L425.0,475.4 L428.0,475.7 L430.5,478.5 L433.0,477.9 L435.5,475.3 L438.0,480.7 L440.5,478.6 L443.0,478.1 L445.5,482.6 L448.0,479.3 L450.0,477.3 L453.0,480.3 L455.5,479.6 L458.0,478.7 L460.5,480.8 L463.0,481.2 L465.5,478.9 L468.0,481.7 L470.5,485.7 L473.0,486.0 L475.0,483.7 L478.0,482.9 L480.5,482.4 L483.0,480.4 L485.5,485.1 L488.0,488.9 L490.5,488.7 L493.0,481.6 L495.5,481.7 L498.0,485.3 L500.0,479.6 L503.0,481.3 L505.5,477.6 L508.0,483.0 L510.5,478.3 L513.0,478.8 L515.5,480.9 L518.0,479.2 L520.5,477.2 L523.0,477.7 L525.0,476.1 L528.0,476.6 L530.5,478.5 L533.0,481.9 L535.5,478.5 L538.0,476.4 L540.5,480.6 L543.0,479.9 L545.5,483.2 L548.0,483.3 L550.0,482.2 L553.0,477.0 L555.5,480.1 L558.0,478.2 L560.5,474.2 L563.0,472.4 L565.5,474.1 L568.0,475.6 L570.5,474.4 L573.0,478.1 L575.0,470.3 L578.0,471.3 L580.5,470.8 L583.0,474.4 L585.5,472.5 L588.0,476.3 L590.5,476.2 L593.0,473.7 L595.5,474.8 L598.0,474.5 L600.0,474.0 L603.0,474.3 L605.5,473.0 L608.0,470.1 L610.5,466.7 L613.0,471.2 L615.5,467.1 L618.0,467.3 L620.5,468.2 L623.0,462.9 L625.0,461.8 L628.0,462.6 L630.5,461.5 L633.0,457.9 L635.5,457.5 L638.0,455.7 L640.5,459.4 L643.0,454.5 L645.5,455.2 L648.0,458.9 L650.0,452.5 L653.0,449.9 L655.5,449.4 L658.0,451.2 L660.5,444.4 L663.0,447.7 L665.5,446.4 L668.0,448.6 L670.5,444.7 L673.0,443.6 L675.0,444.4 L678.0,444.8 L680.5,440.8 L683.0,438.9 L685.5,443.1 L688.0,437.1 L690.5,436.0 L693.0,436.3 L695.5,433.6 L698.0,430.5 L700.0,430.1 L703.0,431.6 L705.5,431.8 L708.0,428.3 L710.5,430.3 L713.0,428.3 L715.5,425.6 L718.0,424.2 L720.5,427.1 L723.0,425.6 L725.0,425.4 L728.0,423.5 L730.5,422.6 L733.0,422.2 L735.5,418.9 L738.0,422.0 L740.5,418.9 L743.0,421.4 L745.5,418.7 L748.0,418.6 L750.0,418.1 L753.0,414.6 L755.5,413.9 L758.0,415.6 L760.5,413.7 L763.0,410.6 L765.5,412.5 L768.0,408.0 L770.5,408.0 L773.0,407.7 L775.0,406.6 L778.0,407.0 L780.5,403.0 L783.0,403.3 L785.5,400.6 L788.0,399.6 L790.5,398.1 L793.0,397.5 L795.5,396.6 L798.0,395.6 L800.0,395.7 L803.0,392.6 L805.5,388.9 L808.0,390.7 L810.5,389.0 L813.0,384.7 L815.5,386.2 L818.0,384.4 L820.5,380.1 L823.0,380.1 L825.0,380.9 L828.0,378.2 L830.5,374.5 L833.0,373.0 L835.5,373.0 L838.0,368.0 L840.5,369.4 L843.0,366.5 L845.5,366.7 L848.0,363.8 L850.0,363.8 L853.0,359.8 L855.5,356.5 L858.0,353.9 L860.5,349.8 L863.0,348.6 L865.5,345.9 L868.0,342.8 L870.5,340.0 L873.0,337.8 L875.0,335.3 L878.0,332.3 L880.5,330.4 L883.0,328.2 L885.5,325.1 L888.0,321.3 L890.5,322.7 L893.0,320.8 L895.5,316.6 L898.0,317.4 L900.0,314.5 L903.0,311.2 L905.5,309.5 L908.0,303.9 L910.5,300.1 L913.0,293.6 L915.5,293.1 L918.0,288.9 L920.0,286.6 L923.0,280.6 L925.5,276.2 L928.0,270.5 L930.5,269.2 L933.0,263.5 L935.5,259.7 L937.0,256.9 L940.5,254.3 L943.0,251.3 L945.5,249.5 L948.0,247.0 L950.5,245.3 L952.0,243.6 L955.5,248.4 L958.0,251.6 L960.5,256.1 L962.0,256.7 L965.5,269.4 L968.0,277.6 L970.0,285.0 L973.0,300.4 L975.5,313.5 L977.0,320.5 L980.5,336.7 L982.0,345.5 L985.5,361.4 L988.0,373.0 L990.0,381.8 L993.0,396.8 L995.5,407.1 L997.0,415.5 L1000.5,428.5 L1003.0,436.9 L1005.0,445.0 L1008.0,457.6 L1010.5,465.6 L1012.0,472.7 L1015.5,482.3 L1018.0,485.8 L1020.0,485.3 L1023.0,495.5 L1025.5,498.3 L1028.0,501.5 L1030.0,505.1 L1033.0,507.1 L1035.5,509.6 L1038.0,514.1 L1040.0,516.4 L1043.0,519.1 L1045.5,519.7 L1048.0,520.1 L1050.0,521.8 L1053.0,524.1 L1055.5,521.4 L1058.0,525.0 L1060.5,525.0 L1062.0,526.1 L1065.5,529.7 L1068.0,531.4 L1070.5,535.4 L1073.0,537.1 L1075.0,543.8 L1078.0,543.3 L1080.5,544.2 L1083.0,547.1 L1085.5,548.0 L1087.0,551.7 L1090.5,547.9 L1093.0,546.7 L1095.5,541.4 L1097.0,541.5 L1100.5,545.6 L1103.0,546.2 L1105.5,551.7 L1108.0,557.7 L1110.0,558.8 L1113.0,560.6 L1115.5,562.4 L1118.0,560.6 L1120.5,564.1 L1123.0,563.9 L1125.0,570.5 L1128.0,570.4 L1130.5,570.1 L1133.0,569.8 L1135.5,564.6 L1138.0,569.1 L1140.5,568.1 L1143.0,571.7 L1145.0,571.9 L1148.0,570.7 L1150.5,575.0 L1153.0,577.1 L1155.5,575.9 L1157.0,577.5 L1160.5,575.4 L1163.0,570.0 L1165.5,569.9 L1168.0,567.8 L1170.5,566.9 L1172.0,566.3 L1175.5,571.4 L1178.0,572.0 L1180.5,578.8 L1182.0,569.0 L1185.5,589.1 L1188.0,579.0 L1190.5,581.6 L1193.0,585.5 L1195.5,585.0 L1198.0,576.6 L1200.0,583.4 L1203.0,582.3 L1205.5,582.6 L1208.0,585.2 L1210.5,582.9 L1213.0,579.8 L1215.0,578.1 L1218.0,587.2 L1220.5,585.3 L1223.0,596.0 L1225.0,592.8 L1228.0,593.7 L1230.5,586.3 L1233.0,592.8 L1235.5,591.2 L1238.0,590.2 L1240.5,590.6 L1243.0,592.3 L1245.5,587.4 L1248.0,587.7 L1250.0,585.2 L1253.0,584.7 L1255.5,592.6 L1258.0,586.4 L1260.5,583.0 L1263.0,584.7 L1265.5,581.8 L1268.0,583.2 L1270.5,585.9 L1273.0,582.4 L1275.0,580.3 L1278.0,579.2 L1280.5,584.4 L1283.0,583.1 L1285.5,582.4 L1288.0,586.7 L1290.5,584.8 L1293.0,590.0 L1295.5,589.5 L1298.0,584.3 L1300.0,591.6 L1303.0,590.6 L1305.5,594.9 L1308.0,591.5 L1310.5,590.3 L1313.0,589.3 L1315.5,594.8 L1318.0,592.6 L1320.5,595.5 L1323.0,598.0 L1325.0,593.5 L1328.0,595.0 L1330.5,597.2 L1333.0,596.9 L1335.5,590.7 L1337.0,591.3 L1340.5,590.9 L1343.0,598.6 L1345.5,597.2 L1348.0,595.8 L1350.5,597.7 L1353.0,597.5 L1355.0,601.6 L1358.0,592.6 L1360.5,597.0 L1362.0,585.4 L1365.5,591.0 L1368.0,597.4 L1370.5,594.5 L1373.0,593.6 L1375.5,597.4 L1378.0,595.9 L1380.5,595.0 L1383.0,593.7 L1385.5,601.8 L1387.0,600.2 L1390.5,598.3 L1393.0,598.1 L1395.5,597.2 L1398.0,597.4 L1400.5,591.6 L1403.0,592.6 L1405.5,587.2 L1408.0,595.3 L1410.5,593.2 L1412.0,593.9 L1415.5,593.8 L1418.0,595.3 L1420.5,593.5 L1423.0,592.0 L1425.5,598.9 L1428.0,596.0 L1430.5,598.3 L1433.0,598.4 L1435.0,602.0 L1438.0,596.7 L1440.5,596.3 L1443.0,598.9 L1445.5,595.6 L1448.0,593.3 L1450.0,590.1 L1453.0,595.6 L1455.5,590.4 L1458.0,587.1 L1460.5,586.0 L1463.0,592.0 L1465.5,588.1 L1468.0,586.7 L1470.5,588.7 L1473.0,583.9 L1475.0,586.1 L1478.0,587.1 L1480.5,582.3 L1483.0,586.9 L1485.5,591.5 L1488.0,590.0 L1490.5,587.9 L1493.0,585.2 L1495.5,588.2 L1498.0,586.7 L1500.0,586.8 L1503.0,586.8 L1505.5,584.0 L1508.0,592.3 L1510.5,588.9 L1512.0,586.2 L1515.5,583.9 L1518.0,576.2 L1520.5,575.0 L1523.0,575.6 L1525.0,570.9 L1528.0,572.3 L1530.5,578.9 L1533.0,575.2 L1535.0,580.7 L1538.0,583.9 L1540.5,585.3 L1543.0,583.2 L1545.5,591.5 L1548.0,590.9 L1550.0,592.1 L1553.0,586.8 L1555.5,589.6 L1558.0,589.1 L1560.5,586.7 L1563.0,591.0 L1565.5,599.1 L1568.0,591.5 L1570.5,597.9 L1573.0,593.5 L1575.0,590.2 L1578.0,597.4 L1580.5,595.4 L1583.0,594.4 L1585.5,597.4 L1588.0,595.9 L1590.5,594.0 L1593.0,607.3 L1595.5,609.7 L1598.0,610.4 L1600.0,605.9 L1603.0,609.3 L1605.5,611.4 L1608.0,601.1 L1610.5,608.1 L1613.0,607.0 L1615.5,601.1 L1618.0,601.2 L1620.5,600.0 L1623.0,593.5 L1625.0,598.1 L1628.0,600.2 L1630.5,601.5 L1633.0,610.2 L1635.5,604.5 L1638.0,605.9 L1640.5,607.2 L1642.0,609.9 L1645.5,608.4 L1648.0,604.3 L1650.5,600.6 L1653.0,598.9 L1655.0,601.0 L1658.0,593.8 L1660.5,598.4 L1663.0,594.6 L1665.5,599.5 L1668.0,602.6 L1670.5,606.8 L1673.0,596.5 L1675.0,598.2 L1678.0,598.8 L1680.5,601.1 L1683.0,603.2 L1685.5,600.6 L1688.0,601.7 L1690.5,604.3 L1693.0,604.3 L1695.5,605.1 L1698.0,603.6 L1700.0,606.3 L1703.0,608.0 L1705.5,603.6 L1708.0,604.7 L1710.5,607.4 L1713.0,607.2 L1715.5,607.5 L1718.0,604.0 L1720.5,608.7 L1723.0,604.3 L1725.0,607.8 L1728.0,606.9 L1730.5,607.5 L1733.0,601.7 L1735.5,607.1 L1738.0,608.1 L1740.5,612.0 L1743.0,610.1 L1745.0,615.0 L1748.0,611.7 L1750.5,621.7 L1754.0,626.9 L1755.5,624.8 L1758.0,630.3 L1760.5,635.6 L1763.0,636.9 L1765.5,636.6 L1768.0,641.1 L1770.0,640.8 L1773.0,644.3 L1775.5,644.1 L1778.0,641.9 L1780.5,644.2 L1783.0,644.8 L1785.5,644.5 L1788.0,649.1 L1790.5,657.2 L1794.0,647.3 L1795.5,647.3 L1798.0,652.3 L1800.5,653.4 L1803.0,654.5 L1806.0,648.9 L1808.0,658.2 L1810.5,666.6 L1813.0,668.1 L1815.5,677.8 L1817.0,676.1 L1820.5,676.5 L1823.0,673.8 L1825.5,670.8 L1827.0,666.5 L1830.5,673.3 L1833.0,664.2 L1835.5,664.5 L1839.0,674.4 L1840.5,667.9 L1843.0,673.8 L1845.5,670.6 L1848.0,672.6 L1850.5,660.0 L1853.0,667.1 L1855.5,669.0 L1858.0,677.7 L1860.5,680.8 L1863.0,683.9 L1865.0,687.1 L1868.0,681.0 L1870.5,682.2 L1873.0,670.9 L1875.5,674.4 L1879.0,667.5 L1880.5,664.7 L1883.0,669.5 L1885.5,673.5 L1888.0,671.0 L1890.0,669.5 L1893.0,666.8 L1895.5,664.6 L1898.0,659.7 L1900.0,655.6 L1903.0,661.9 L1905.5,661.3 L1908.0,661.4 L1910.5,667.7 L1912.0,662.4 L1915.5,670.0 L1918.0,678.7 L1921.0,691.4 L1923.0,689.3 L1925.5,676.4 L1928.0,684.3 L1930.5,682.6 L1933.0,674.5 L1935.5,674.6 L1937.0,670.1 L1940.5,671.6 L1943.0,671.1 L1945.5,677.4 L1947.0,679.1 L1950.5,675.1 L1953.0,680.0 L1955.5,670.4 L1959.0,670.8 L1960.5,671.3 L1963.0,670.4 L1965.5,673.2 L1968.0,688.2 L1970.0,682.3 L1973.0,684.8 L1975.5,678.8 L1978.0,684.3 L1980.5,680.5 L1982.0,675.2 L1985.5,681.8 L1988.0,688.3 L1990.5,685.0 L1993.0,688.8 L1995.5,686.9 L1999.0,698.6 L2000.5,695.1 L2003.0,680.0 L2005.5,681.8 L2008.0,684.6 L2010.5,675.2 L2013.0,671.1 L2015.0,660.1 L2018.0,670.5 L2020.5,670.0 L2023.0,672.6 L2025.5,674.7 L2029.0,688.6 L2030.5,682.9 L2033.0,677.3 L2035.5,674.5 L2038.0,680.6 L2040.5,675.7 L2043.0,676.2 L2045.5,677.6 L2048.0,672.3 L2050.0,670.9 L2053.0,684.2 L2055.5,684.9 L2058.0,684.8 L2060.5,693.2 L2062.0,694.5 L2065.5,702.0 L2068.0,679.7 L2070.5,684.4 L2073.0,695.6 L2076.0,683.0 L2078.0,685.7 L2080.5,691.3 L2083.0,687.8 L2085.5,685.2 L2088.0,695.4 L2090.5,699.5 L2093.0,680.6 L2095.5,692.1 L2098.0,698.5 L2100.0,688.0 L2103.0,697.3 L2105.5,696.9 L2108.0,696.9 L2110.5,684.7 L2112.0,685.4 L2115.5,695.2 L2118.0,693.2 L2120.5,699.8 L2123.0,703.5 L2125.5,691.7 L2128.0,698.5 L2130.5,691.2 L2133.0,695.1 L2135.0,689.5 L2138.0,689.4 L2140.5,694.7 L2143.0,688.6 L2145.5,698.2 L2147.0,693.5 L2150.5,694.7 L2153.0,701.6 L2155.5,692.1 L2158.0,699.2 L2160.5,689.9 L2163.0,697.0" stroke="#edb120" stroke-width="11.0"/>
<path d="M313.0,554.3 L315.5,554.8 L318.0,563.3 L320.5,557.6 L323.0,560.3 L325.0,560.1 L328.0,564.0 L330.5,559.9 L333.0,564.6 L335.5,566.8 L337.0,563.6 L340.5,559.4 L343.0,562.1 L345.5,562.4 L348.0,562.8 L350.5,560.2 L352.0,559.9 L355.5,569.8 L358.0,568.5 L360.5,570.7 L363.0,576.1 L365.5,582.3 L367.0,579.3 L370.5,584.4 L373.0,575.3 L375.5,580.8 L378.0,574.8 L380.5,576.6 L382.0,568.5 L385.5,572.6 L388.0,564.7 L390.5,569.4 L393.0,565.6 L395.5,557.9 L398.0,562.0 L400.0,559.4 L403.0,561.1 L405.5,561.6 L408.0,563.7 L410.5,571.7 L412.0,571.4 L415.5,571.2 L418.0,572.3 L420.5,572.6 L423.0,575.0 L425.5,575.9 L428.0,575.8 L430.5,575.1 L433.0,578.0 L435.0,571.3 L438.0,575.3 L440.5,569.9 L443.0,566.1 L445.0,559.6 L448.0,567.0 L450.5,567.7 L453.0,563.6 L455.5,558.8 L458.0,562.1 L460.5,564.5 L462.0,561.2 L465.5,562.8 L468.0,568.3 L470.5,566.1 L473.0,566.7 L475.5,572.4 L478.0,574.4 L480.5,573.6 L483.0,577.2 L485.0,575.4 L488.0,589.0 L490.5,577.9 L493.0,574.1 L495.5,571.0 L498.0,568.1 L500.0,568.8 L503.0,566.7 L505.5,565.9 L508.0,567.0 L510.5,559.9 L513.0,563.9 L515.0,566.5 L518.0,564.0 L520.5,565.2 L523.0,570.8 L525.5,575.8 L528.0,573.9 L530.0,576.6 L533.0,576.3 L535.5,567.8 L538.0,573.7 L540.5,547.6 L543.0,565.5 L545.5,568.7 L548.0,567.4 L550.0,573.7 L553.0,573.0 L555.5,562.9 L558.0,567.1 L560.5,563.6 L563.0,563.0 L565.0,567.1 L568.0,560.8 L570.5,569.8 L573.0,562.4 L575.5,561.3 L578.0,561.4 L580.5,564.4 L582.0,557.5 L585.5,566.9 L588.0,569.1 L590.5,581.4 L592.0,578.0 L595.5,573.4 L598.0,571.8 L600.5,567.4 L603.0,570.8 L605.5,560.7 L608.0,563.5 L610.5,560.0 L613.0,560.4 L615.0,553.6 L618.0,556.5 L620.5,561.6 L623.0,561.8 L625.0,562.2 L628.0,558.2 L630.5,563.4 L633.0,566.5 L635.5,560.0 L638.0,557.3 L640.5,560.7 L643.0,557.9 L645.5,554.7 L648.0,557.7 L650.0,557.2 L653.0,562.1 L655.5,558.1 L658.0,557.9 L660.5,552.9 L663.0,558.4 L665.5,554.6 L668.0,555.5 L670.5,557.1 L673.0,554.9 L675.0,555.9 L678.0,550.1 L680.5,552.4 L683.0,547.3 L685.5,552.3 L688.0,548.3 L690.5,545.6 L693.0,549.7 L695.5,548.3 L698.0,551.1 L700.0,552.1 L703.0,546.4 L705.5,545.8 L708.0,553.2 L710.5,549.9 L713.0,547.7 L715.5,550.6 L718.0,550.0 L720.5,550.4 L723.0,548.1 L725.0,554.2 L728.0,551.8 L730.5,548.2 L733.0,546.8 L735.5,544.1 L738.0,538.7 L740.5,543.2 L743.0,534.7 L745.0,534.0 L748.0,536.6 L750.5,540.1 L753.0,541.0 L755.5,543.5 L758.0,541.8 L760.5,542.5 L762.0,541.2 L765.5,543.6 L768.0,540.7 L770.5,541.9 L773.0,539.5 L775.5,545.4 L778.0,545.6 L780.5,542.5 L783.0,542.8 L785.5,546.5 L787.0,555.7 L790.5,550.4 L793.0,545.8 L795.5,543.2 L798.0,548.2 L800.5,542.1 L803.0,544.1 L805.5,533.0 L808.0,542.5 L810.5,539.5 L812.0,541.2 L815.0,536.8 L818.0,545.5 L820.5,542.0 L823.0,539.4 L825.5,540.7 L828.0,546.4 L830.5,547.7 L833.0,543.9 L835.5,549.4 L837.0,544.4 L840.5,541.6 L843.0,548.0 L845.5,546.5 L848.0,538.1 L850.5,543.3 L853.0,539.1 L855.5,535.8 L858.0,540.6 L860.5,541.0 L862.0,534.3 L865.5,536.5 L868.0,536.7 L870.5,536.4 L873.0,535.0 L875.5,534.2 L878.0,531.0 L880.5,538.1 L883.0,531.5 L885.5,538.6 L887.0,529.7 L890.5,534.9 L893.0,529.0 L895.5,523.2 L898.0,525.0 L900.5,529.8 L903.0,530.1 L905.5,531.1 L908.0,524.7 L910.5,527.0 L912.0,529.1 L915.5,526.2 L918.0,521.6 L920.5,519.0 L923.0,524.0 L925.0,522.8 L928.0,529.4 L930.5,529.5 L932.0,531.8 L935.5,530.0 L938.0,533.4 L940.5,529.9 L943.0,532.7 L945.5,525.2 L948.0,526.2 L950.0,522.3 L953.0,521.8 L955.5,518.5 L958.0,521.2 L960.5,517.4 L962.0,521.6 L965.5,516.4 L968.0,514.2 L970.5,515.9 L973.0,504.8 L975.0,510.4 L978.0,506.3 L980.5,507.5 L983.0,500.3 L985.5,502.0 L987.0,501.3 L990.5,502.7 L993.0,499.2 L995.0,497.7 L998.0,504.1 L1000.5,506.7 L1002.0,511.4 L1005.5,515.1 L1008.0,516.5 L1010.5,519.4 L1012.0,521.5 L1015.5,525.4 L1018.0,533.3 L1020.5,533.4 L1023.0,537.1 L1025.0,542.0 L1028.0,547.1 L1030.5,556.9 L1032.0,555.1 L1035.5,553.8 L1038.0,555.6 L1040.5,555.6 L1043.0,553.3 L1045.0,552.8 L1048.0,551.1 L1050.5,556.1 L1053.0,555.2 L1055.0,558.6 L1058.0,561.6 L1060.5,568.6 L1063.0,570.0 L1065.0,575.0 L1068.0,577.8 L1070.5,578.0 L1073.0,578.7 L1075.0,582.2 L1078.0,577.1 L1080.5,572.7 L1083.0,576.6 L1085.0,571.6 L1088.0,584.1 L1090.0,584.4 L1093.0,584.0 L1095.5,581.6 L1098.0,583.2 L1100.5,572.9 L1102.0,571.1 L1105.5,572.6 L1108.0,575.4 L1110.5,575.6 L1113.0,578.6 L1115.0,583.8 L1118.0,583.0 L1120.5,584.0 L1123.0,584.3 L1125.0,586.7 L1128.0,581.7 L1130.5,587.0 L1133.0,588.8 L1135.5,583.3 L1138.0,585.0 L1140.5,586.5 L1143.0,585.1 L1145.5,587.9 L1148.0,586.9 L1150.0,581.5 L1153.0,586.4 L1155.5,590.2 L1158.0,593.1 L1160.5,593.5 L1162.0,594.8 L1165.5,598.9 L1168.0,588.0 L1170.5,591.5 L1173.0,586.3 L1175.0,584.2 L1178.0,583.9 L1180.5,594.5 L1183.0,592.2 L1185.5,599.1 L1187.0,597.7 L1190.5,595.1 L1193.0,602.6 L1195.5,587.9 L1198.0,590.9 L1200.5,589.8 L1203.0,588.4 L1205.5,587.2 L1207.0,584.0 L1210.5,589.3 L1213.0,591.3 L1215.5,594.1 L1218.0,599.3 L1220.0,601.5 L1223.0,601.4 L1225.5,604.7 L1228.0,599.4 L1230.5,599.3 L1233.0,606.4 L1235.5,614.5 L1237.0,606.3 L1240.5,602.9 L1243.0,604.5 L1245.5,598.6 L1248.0,606.3 L1250.0,603.5 L1253.0,605.1 L1255.5,606.0 L1258.0,605.5 L1260.5,604.5 L1263.0,609.8 L1265.0,606.4 L1268.0,614.5 L1270.5,613.7 L1272.0,618.0 L1275.5,617.7 L1278.0,618.2 L1280.5,616.5 L1282.0,615.6 L1285.5,613.7 L1288.0,622.0 L1290.5,617.9 L1293.0,625.1 L1295.0,625.9 L1298.0,627.4 L1300.5,623.5 L1303.0,625.9 L1305.5,621.3 L1307.0,623.9 L1310.5,613.6 L1313.0,622.5 L1315.5,620.1 L1318.0,610.3 L1320.5,610.3 L1322.0,607.8 L1325.5,613.0 L1328.0,614.0 L1330.5,614.9 L1333.0,613.6 L1335.0,615.6 L1338.0,617.5 L1340.5,619.5 L1343.0,616.0 L1345.0,618.6 L1348.0,624.9 L1350.5,618.8 L1353.0,632.1 L1355.0,630.4 L1358.0,630.0 L1360.5,632.6 L1362.0,633.3 L1365.5,630.9 L1368.0,627.2 L1370.5,626.0 L1373.0,624.3 L1375.0,624.6 L1378.0,624.0 L1380.5,627.4 L1383.0,630.5 L1385.5,632.2 L1388.0,631.1 L1390.5,631.9 L1392.0,640.5 L1395.5,629.6 L1398.0,632.4 L1400.5,637.3 L1403.0,623.7 L1405.5,620.4 L1407.0,621.4 L1410.5,618.8 L1413.0,625.7 L1415.5,625.3 L1418.0,630.9 L1420.0,637.2 L1423.0,638.1 L1425.5,641.0 L1428.0,637.7 L1430.0,635.2 L1433.0,636.4 L1435.5,640.2 L1438.0,638.1 L1440.5,636.7 L1443.0,644.4 L1445.5,638.6 L1448.0,640.4 L1450.0,637.9 L1453.0,641.5 L1455.5,635.8 L1458.0,632.3 L1460.5,641.2 L1463.0,634.3 L1465.0,633.4 L1468.0,639.4 L1470.5,633.3 L1473.0,640.2 L1475.5,639.6 L1478.0,645.8 L1480.0,646.7 L1483.0,642.1 L1485.5,640.9 L1488.0,644.3 L1490.5,644.5 L1493.0,644.9 L1495.5,645.5 L1498.0,638.4 L1500.0,641.1 L1503.0,639.9 L1505.5,649.2 L1507.0,649.5 L1510.5,646.3 L1513.0,645.9 L1515.5,637.3 L1518.0,633.9 L1520.0,637.9 L1523.0,638.9 L1525.5,636.7 L1528.0,636.3 L1530.5,639.5 L1533.0,635.1 L1535.5,637.9 L1537.0,642.7 L1540.5,630.0 L1543.0,646.9 L1545.5,649.0 L1548.0,651.1 L1550.0,644.8 L1553.0,660.6 L1555.5,644.9 L1558.0,644.8 L1560.5,655.1 L1563.0,653.2 L1565.5,676.8 L1568.0,657.0 L1570.0,656.1 L1573.0,654.6 L1575.5,658.8 L1578.0,649.4 L1580.5,647.1 L1583.0,646.3 L1585.5,643.6 L1587.0,645.7 L1590.5,646.5 L1593.0,654.5 L1595.5,656.6 L1598.0,665.7 L1600.5,653.4 L1603.0,671.2 L1605.0,664.5 L1608.0,659.6 L1610.5,658.9 L1613.0,666.9 L1615.5,648.1 L1618.0,646.2 L1620.5,639.7 L1622.0,639.4 L1625.5,652.7 L1628.0,649.0 L1630.5,657.0 L1632.0,651.0 L1635.5,651.5 L1638.0,654.1 L1640.5,654.7 L1642.0,642.0 L1645.5,654.8 L1648.0,659.2 L1650.5,647.7 L1653.0,661.7 L1655.0,665.7 L1658.0,672.4 L1660.5,665.2 L1663.0,656.3 L1665.5,659.6 L1668.0,645.5 L1670.5,649.8 L1672.0,646.8 L1675.5,641.7 L1678.0,647.5 L1680.0,646.5 L1683.0,661.5 L1685.5,668.3 L1688.0,669.3 L1690.5,675.8 L1692.0,673.2 L1695.5,666.4 L1698.0,667.0 L1700.5,662.9 L1703.0,660.9 L1705.5,666.6 L1707.0,654.4 L1710.5,664.0 L1714.0,660.9 L1715.5,651.7 L1718.0,656.9 L1720.5,653.4 L1723.0,644.0 L1725.5,656.1 L1728.0,644.0 L1730.5,643.9 L1733.0,649.1 L1735.5,652.0 L1738.0,660.5 L1740.5,655.7 L1743.0,664.3 L1745.5,664.0 L1748.0,667.1 L1750.5,657.5 L1753.0,669.7 L1756.0,660.0 L1758.0,666.3 L1760.5,660.5 L1763.0,649.0 L1765.5,651.4 L1768.0,657.1 L1770.5,661.0 L1773.0,651.2 L1775.0,657.2 L1778.0,655.8 L1780.5,651.8 L1783.0,656.4 L1785.5,658.3 L1788.0,656.5 L1790.5,652.5 L1794.0,648.2 L1795.5,660.6 L1798.0,655.9 L1800.5,659.9 L1803.0,658.5 L1806.0,661.7 L1808.0,658.4 L1810.5,652.5 L1813.0,654.2 L1815.0,666.3 L1818.0,664.2 L1820.5,661.4 L1822.0,668.3 L1825.5,671.9 L1828.0,666.6 L1830.5,674.4 L1834.0,679.9 L1835.5,677.7 L1838.0,680.5 L1840.5,668.9 L1843.0,664.5 L1846.0,664.8 L1848.0,665.0 L1850.5,679.7 L1853.0,675.4 L1855.0,683.4 L1858.0,673.4 L1860.5,671.1 L1863.0,669.6 L1865.0,663.5 L1868.0,668.8 L1870.5,680.5 L1874.0,684.3 L1875.5,678.2 L1878.0,680.1 L1880.5,676.5 L1883.0,676.6 L1885.5,676.6 L1888.0,669.1 L1890.5,678.0 L1893.0,679.2 L1895.5,683.4 L1898.0,675.8 L1900.0,683.4 L1903.0,674.0 L1905.5,677.7 L1908.0,673.4 L1910.5,668.0 L1912.0,675.2 L1915.5,680.4 L1918.0,683.9 L1920.5,692.2 L1923.0,693.9 L1925.5,687.0 L1928.0,686.5 L1930.5,682.1 L1933.0,683.3 L1935.0,675.6 L1938.0,667.3 L1940.5,688.1 L1943.0,686.3 L1945.5,689.8 L1948.0,690.8 L1950.5,696.3 L1954.0,695.2 L1955.5,690.2 L1958.0,689.5 L1961.0,675.9 L1963.0,683.5 L1965.5,692.0 L1968.0,703.7 L1970.5,690.8 L1973.0,688.5 L1975.5,691.9 L1978.0,683.4 L1980.5,680.9 L1982.0,685.8 L1985.5,685.3 L1988.0,689.1 L1990.5,684.8 L1993.0,679.0 L1995.5,679.5 L1998.0,672.0 L2000.5,683.2 L2003.0,686.8 L2005.5,678.3 L2008.0,687.0 L2010.5,674.5 L2013.0,687.2 L2015.0,685.7 L2018.0,681.7 L2020.5,678.0 L2023.0,674.9 L2025.5,682.6 L2028.0,672.3 L2030.5,676.9 L2032.0,671.8 L2035.5,674.9 L2038.0,674.9 L2040.5,685.8 L2043.0,689.7 L2046.0,680.0 L2048.0,692.6 L2050.5,688.4 L2053.0,683.2 L2055.5,693.0 L2058.0,701.6 L2060.5,704.8 L2063.0,707.8 L2065.5,698.4 L2068.0,699.8 L2070.5,689.2 L2073.0,696.4 L2076.0,693.7 L2078.0,691.0 L2080.5,685.7 L2083.0,684.5 L2086.0,683.6 L2088.0,682.9 L2090.5,678.9 L2093.0,670.5 L2095.5,678.8 L2098.0,695.3 L2100.0,694.0 L2103.0,683.2 L2105.5,675.8 L2108.0,690.1 L2110.5,688.5 L2113.0,698.9 L2115.5,704.5 L2119.0,681.4 L2120.5,689.7 L2123.0,692.8 L2125.5,682.4 L2128.0,686.0 L2130.5,689.5 L2133.0,676.4 L2135.0,688.4 L2138.0,696.5 L2140.5,690.4 L2143.0,695.1 L2145.5,694.9 L2147.0,697.6 L2150.5,693.0 L2153.0,688.7 L2155.5,684.8 L2158.0,691.5 L2160.5,673.0 L2163.0,678.0" stroke="#7e2f8e" stroke-width="11.0"/>
<path d="M313.0,481.9 L315.5,481.5 L318.0,481.3 L320.5,481.7 L323.0,482.8 L325.0,479.5 L328.0,475.4 L330.5,480.1 L333.0,479.7 L335.5,483.0 L338.0,481.9 L340.5,484.1 L343.0,488.6 L345.5,485.9 L348.0,484.8 L350.0,484.7 L353.0,486.5 L355.5,486.9 L358.0,498.5 L360.5,491.9 L363.0,492.5 L365.5,495.1 L367.0,494.3 L370.5,492.4 L373.0,492.3 L375.5,492.5 L378.0,489.9 L380.5,488.8 L383.0,479.9 L385.5,489.5 L387.0,480.0 L390.5,479.2 L393.0,488.9 L395.5,492.0 L398.0,487.2 L400.5,491.1 L403.0,493.5 L405.5,497.3 L408.0,493.5 L410.5,497.0 L413.0,498.4 L415.0,500.8 L418.0,498.7 L420.5,489.5 L423.0,491.5 L425.5,489.0 L428.0,491.4 L430.5,488.1 L433.0,484.7 L435.5,484.3 L437.0,481.1 L440.5,481.2 L443.0,481.3 L445.5,479.9 L448.0,476.1 L450.5,483.5 L453.0,485.7 L455.5,482.2 L458.0,485.8 L460.5,478.2 L462.0,485.6 L465.5,479.5 L468.0,478.0 L470.5,478.7 L473.0,475.0 L475.5,479.9 L478.0,474.1 L480.0,475.8 L483.0,470.8 L485.5,472.9 L488.0,473.0 L490.5,473.2 L493.0,475.4 L495.5,474.5 L498.0,476.8 L500.0,472.8 L503.0,477.2 L505.5,472.6 L508.0,473.5 L510.5,477.9 L513.0,471.8 L515.5,476.6 L518.0,471.8 L520.5,472.2 L523.0,466.7 L525.0,473.3 L528.0,473.0 L530.5,475.1 L533.0,472.4 L535.5,470.4 L538.0,472.4 L540.5,473.8 L543.0,471.6 L545.5,471.4 L548.0,470.2 L550.0,470.4 L553.0,468.7 L555.5,465.9 L558.0,464.1 L560.5,469.1 L563.0,464.7 L565.5,466.1 L568.0,466.5 L570.5,466.3 L573.0,463.9 L575.0,464.1 L578.0,461.1 L580.5,459.6 L583.0,461.2 L585.5,458.8 L588.0,457.9 L590.5,458.5 L593.0,458.8 L595.5,458.3 L598.0,460.5 L600.0,456.4 L603.0,454.8 L605.5,453.1 L608.0,452.6 L610.5,453.8 L613.0,448.6 L615.5,448.3 L617.0,447.4 L620.5,452.7 L623.0,450.1 L625.5,455.0 L628.0,454.5 L630.0,455.0 L633.0,454.2 L635.5,451.4 L638.0,452.6 L640.5,449.8 L643.0,446.3 L645.5,444.0 L648.0,440.5 L650.5,445.1 L653.0,438.7 L655.5,435.3 L658.0,431.9 L660.0,432.0 L663.0,431.1 L665.5,431.3 L668.0,432.6 L670.5,433.5 L673.0,433.6 L675.0,431.8 L678.0,429.5 L680.5,427.7 L683.0,430.6 L685.5,429.7 L688.0,428.8 L690.5,420.0 L693.0,422.9 L695.5,422.8 L698.0,422.1 L700.0,421.0 L703.0,419.8 L705.5,421.0 L708.0,418.8 L710.5,416.3 L713.0,418.9 L715.5,419.3 L718.0,417.8 L720.5,418.1 L723.0,416.1 L725.0,414.7 L728.0,411.7 L730.5,411.7 L733.0,413.5 L735.5,410.3 L738.0,405.7 L740.5,407.9 L743.0,405.4 L745.5,405.8 L748.0,403.4 L750.0,403.7 L753.0,400.8 L755.5,399.7 L758.0,397.9 L760.5,397.5 L763.0,398.6 L765.5,398.1 L768.0,394.5 L770.5,393.0 L773.0,394.3 L775.0,391.9 L778.0,391.2 L780.5,391.7 L783.0,389.5 L785.5,387.3 L788.0,381.9 L790.5,385.8 L793.0,384.7 L795.5,387.1 L798.0,387.7 L800.0,385.0 L803.0,382.3 L805.5,382.6 L808.0,378.5 L810.5,373.7 L813.0,374.2 L815.5,369.7 L818.0,370.2 L820.5,371.4 L823.0,367.6 L825.0,365.2 L828.0,363.7 L830.5,363.3 L833.0,359.4 L835.5,357.5 L838.0,357.3 L840.5,354.8 L843.0,353.4 L845.5,353.5 L848.0,350.8 L850.0,350.9 L853.0,347.3 L855.5,346.8 L858.0,342.3 L860.5,341.3 L863.0,340.5 L865.5,337.1 L868.0,335.3 L870.5,331.9 L873.0,332.4 L875.0,328.3 L878.0,327.3 L880.5,325.9 L883.0,324.8 L885.5,322.4 L888.0,320.5 L890.5,319.6 L893.0,317.7 L895.5,314.7 L898.0,311.6 L900.0,311.7 L903.0,309.9 L905.5,307.3 L908.0,306.2 L910.5,304.3 L913.0,299.0 L915.5,297.9 L918.0,296.3 L920.5,293.2 L923.0,291.0 L925.0,290.3 L928.0,285.9 L930.5,283.8 L933.0,281.2 L935.5,278.5 L938.0,274.2 L940.5,272.6 L943.0,269.8 L945.5,268.2 L948.0,265.7 L950.0,261.8 L953.0,259.1 L955.5,257.5 L958.0,252.9 L960.5,251.1 L962.0,248.7 L965.5,243.8 L968.0,238.8 L970.5,234.9 L973.0,231.9 L975.0,227.3 L978.0,223.9 L980.5,221.3 L983.0,218.3 L985.5,216.6 L987.0,215.4 L990.5,208.0 L993.0,203.6 L995.5,198.8 L998.0,193.3 L1000.0,189.9 L1003.0,184.9 L1005.5,181.4 L1008.0,175.8 L1010.5,172.5 L1012.0,169.3 L1015.5,165.3 L1018.0,162.4 L1020.5,158.4 L1023.0,155.5 L1025.0,148.4 L1028.0,142.9 L1030.5,136.7 L1033.0,131.0 L1035.5,126.0 L1037.0,121.9 L1040.5,113.9 L1043.0,108.7 L1045.5,102.5 L1048.0,96.2 L1050.0,92.0 L1053.0,88.7 L1056.0,85.0 L1058.0,87.3 L1060.5,90.6 L1062.0,91.5 L1065.5,105.4 L1068.0,114.4 L1070.0,122.0 L1073.0,144.9 L1075.0,159.8 L1078.0,181.1 L1080.5,199.1 L1082.0,209.6 L1085.5,229.7 L1088.0,244.0 L1090.0,255.3 L1093.0,273.3 L1095.5,287.9 L1097.0,297.3 L1101.0,319.7 L1103.0,332.8 L1105.5,347.6 L1107.0,358.5 L1110.5,375.4 L1113.0,385.4 L1115.0,395.5 L1118.0,405.4 L1120.5,414.2 L1123.0,423.1 L1125.0,430.6 L1128.0,436.8 L1130.5,443.9 L1133.0,449.5 L1135.5,456.5 L1137.0,460.5 L1140.5,462.8 L1143.0,463.9 L1145.5,467.0 L1148.0,468.2 L1150.0,469.7 L1153.0,471.1 L1155.5,474.7 L1158.0,478.1 L1160.5,480.4 L1162.0,481.1 L1165.5,485.6 L1168.0,489.6 L1170.5,491.7 L1173.0,493.2 L1175.0,494.9 L1178.0,493.7 L1180.5,496.8 L1183.0,499.6 L1185.5,498.8 L1187.0,498.4 L1190.5,500.9 L1193.0,503.4 L1195.5,509.0 L1198.0,509.0 L1200.0,515.2 L1203.0,512.1 L1205.5,515.0 L1208.0,512.0 L1210.5,515.6 L1212.0,514.7 L1215.5,517.0 L1218.0,517.8 L1220.5,517.8 L1223.0,520.3 L1225.0,522.7 L1228.0,521.8 L1230.5,522.0 L1233.0,520.5 L1235.5,524.4 L1237.0,527.1 L1240.5,527.1 L1243.0,523.9 L1245.5,522.7 L1248.0,522.2 L1250.0,521.5 L1253.0,528.7 L1255.5,531.4 L1258.0,531.0 L1260.5,535.9 L1262.0,535.1 L1265.5,540.0 L1268.0,537.1 L1270.5,538.2 L1273.0,542.2 L1275.0,540.1 L1278.0,542.9 L1280.5,539.3 L1283.0,537.6 L1285.5,539.4 L1287.0,541.6 L1290.5,543.8 L1293.0,543.4 L1295.5,543.7 L1298.0,545.0 L1300.0,549.4 L1303.0,549.9 L1305.5,552.0 L1308.0,554.8 L1310.5,556.0 L1312.0,548.9 L1315.5,556.1 L1318.0,548.9 L1320.5,548.0 L1323.0,542.8 L1325.0,546.0 L1328.0,551.5 L1330.5,553.8 L1333.0,552.3 L1335.5,555.0 L1337.0,553.5 L1340.5,558.1 L1343.0,555.3 L1345.5,547.9 L1348.0,552.7 L1350.0,549.8 L1353.0,556.2 L1355.5,555.4 L1358.0,557.6 L1360.5,556.0 L1362.0,567.0 L1365.5,563.3 L1368.0,562.4 L1370.5,566.9 L1373.0,564.1 L1375.5,567.5 L1378.0,563.7 L1380.5,564.4 L1383.0,564.2 L1385.5,570.8 L1387.0,567.4 L1390.5,570.1 L1393.0,569.5 L1395.5,571.1 L1398.0,571.5 L1400.5,567.4 L1403.0,575.6 L1405.5,569.1 L1408.0,570.5 L1410.5,571.6 L1412.0,570.5 L1415.5,578.1 L1418.0,563.8 L1420.5,568.6 L1423.0,571.3 L1425.0,567.1 L1428.0,571.5 L1430.5,570.5 L1433.0,573.6 L1435.5,579.5 L1438.0,574.1 L1440.0,581.3 L1443.0,577.3 L1445.5,575.6 L1448.0,574.8 L1450.5,573.2 L1453.0,570.4 L1455.5,577.3 L1458.0,570.4 L1460.5,571.8 L1463.0,570.8 L1465.0,572.2 L1468.0,573.3 L1470.5,575.6 L1473.0,575.8 L1475.5,574.4 L1478.0,578.5 L1480.5,574.3 L1483.0,587.1 L1485.5,579.5 L1487.0,580.3 L1490.5,574.9 L1493.0,577.9 L1495.5,577.6 L1498.0,574.2 L1500.0,575.6 L1503.0,577.0 L1505.5,580.8 L1508.0,578.0 L1510.5,584.0 L1512.0,583.1 L1515.5,579.9 L1518.0,575.9 L1520.5,586.9 L1523.0,585.2 L1525.5,580.2 L1528.0,578.9 L1530.0,576.5 L1533.0,575.9 L1535.5,578.6 L1538.0,579.8 L1540.5,577.9 L1543.0,582.0 L1545.5,581.1 L1548.0,586.8 L1550.0,591.9 L1553.0,587.0 L1555.5,587.8 L1558.0,592.7 L1560.5,591.8 L1562.0,592.4 L1565.5,594.0 L1568.0,586.0 L1570.5,593.3 L1573.0,586.9 L1575.0,585.6 L1578.0,591.0 L1580.5,586.4 L1583.0,587.4 L1585.5,592.0 L1587.0,598.8 L1590.5,596.1 L1593.0,599.7 L1595.5,595.0 L1598.0,591.6 L1600.5,603.7 L1603.0,597.9 L1605.0,597.2 L1608.0,593.6 L1610.5,597.7 L1613.0,600.7 L1615.5,589.8 L1618.0,591.0 L1620.0,590.9 L1623.0,594.3 L1625.5,594.6 L1628.0,592.5 L1630.5,597.6 L1633.0,600.4 L1635.0,602.4 L1638.0,600.4 L1640.5,596.9 L1643.0,600.5 L1645.5,594.9 L1648.0,592.5 L1650.0,597.7 L1653.0,590.4 L1655.5,596.9 L1658.0,594.9 L1660.5,593.4 L1663.0,588.8 L1665.5,591.3 L1668.0,591.6 L1670.0,588.5 L1673.0,595.3 L1675.5,592.3 L1678.0,595.8 L1680.5,592.1 L1683.0,602.9 L1685.5,593.8 L1688.0,596.4 L1690.0,597.2 L1693.0,597.2 L1695.5,592.2 L1698.0,597.2 L1700.0,589.7 L1703.0,591.2 L1705.5,587.9 L1708.0,588.7 L1710.5,590.7 L1712.0,589.7 L1715.5,596.7 L1718.0,599.5 L1720.5,601.3 L1723.0,605.8 L1725.5,599.5 L1728.0,603.7 L1730.5,592.4 L1733.0,593.8 L1735.0,596.6 L1738.0,591.4 L1740.5,602.3 L1743.0,594.6 L1745.5,593.9 L1747.0,591.9 L1750.5,591.3 L1753.0,597.6 L1755.5,594.8 L1758.0,598.5 L1761.0,600.1 L1763.0,597.1 L1765.5,593.8 L1768.0,594.2 L1770.0,594.2 L1773.0,587.0 L1775.5,584.9 L1778.0,586.6 L1780.5,576.4 L1782.0,571.6 L1785.5,571.9 L1788.0,569.9 L1790.5,569.9 L1794.0,570.6 L1795.5,570.7 L1798.0,575.9 L1800.5,577.1 L1803.0,580.7 L1805.5,577.8 L1808.0,577.2 L1810.5,571.5 L1813.0,563.1 L1815.0,565.0 L1818.0,563.9 L1820.5,571.6 L1823.0,569.6 L1825.5,574.5 L1827.0,577.9 L1830.5,576.4 L1833.0,568.7 L1835.5,573.8 L1838.0,572.8 L1841.0,567.4 L1843.0,570.2 L1845.5,563.6 L1848.0,572.9 L1850.5,563.2 L1853.0,568.7 L1855.5,569.7 L1858.0,569.3 L1860.5,569.8 L1863.0,567.3 L1865.5,562.0 L1869.0,564.9 L1870.5,564.7 L1873.0,563.3 L1875.5,556.9 L1878.0,557.3 L1880.5,550.6 L1883.0,545.0 L1885.5,549.6 L1888.0,548.3 L1890.5,552.3 L1893.0,549.5 L1895.5,555.5 L1898.0,549.3 L1900.5,542.7 L1903.0,539.9 L1905.0,542.4 L1908.0,536.7 L1910.5,536.2 L1912.0,534.1 L1915.5,529.1 L1918.0,530.4 L1920.5,525.7 L1923.0,526.6 L1925.5,524.3 L1928.0,529.0 L1930.5,525.2 L1933.0,527.0 L1935.5,528.4 L1938.0,530.2 L1940.5,529.6 L1943.0,534.8 L1945.0,534.6 L1949.0,555.9 L1950.5,558.3 L1953.0,555.5 L1955.5,566.3 L1959.0,566.8 L1960.5,571.2 L1963.0,576.2 L1965.5,584.6 L1968.0,587.7 L1970.0,593.6 L1973.0,596.2 L1975.5,606.1 L1978.0,609.9 L1980.0,615.3 L1983.0,622.2 L1985.5,623.4 L1987.0,632.3 L1990.5,635.8 L1993.0,635.2 L1996.0,632.4 L1998.0,636.8 L2000.5,637.5 L2003.0,641.0 L2005.5,639.0 L2008.0,636.7 L2010.5,633.7 L2013.0,632.9 L2015.5,631.0 L2018.0,640.9 L2020.5,630.9 L2023.0,638.0 L2025.5,635.1 L2029.0,644.8 L2030.5,639.7 L2033.0,640.6 L2035.5,640.1 L2039.0,642.2 L2040.5,636.3 L2043.0,636.1 L2045.5,630.5 L2048.0,637.5 L2050.5,641.0 L2053.0,639.8 L2055.5,649.3 L2057.0,648.6 L2060.5,644.4 L2063.0,653.3 L2065.5,660.4 L2067.0,659.0 L2070.5,669.0 L2073.0,665.3 L2076.0,657.7 L2078.0,659.6 L2080.5,649.1 L2083.0,654.6 L2086.0,646.1 L2088.0,654.2 L2090.5,649.0 L2093.0,656.8 L2095.5,659.2 L2098.0,661.1 L2100.0,663.2 L2103.0,668.2 L2105.5,667.6 L2108.0,662.0 L2110.5,664.8 L2112.0,668.0 L2115.5,663.3 L2118.0,652.6 L2120.5,664.3 L2123.0,666.5 L2125.5,669.9 L2128.0,668.2 L2130.5,668.9 L2133.0,661.4 L2135.0,662.1 L2138.0,668.9 L2140.5,662.4 L2143.0,670.5 L2145.5,674.9 L2147.0,658.6 L2150.5,662.9 L2153.0,671.5 L2155.5,668.4 L2158.0,669.3 L2160.5,663.6 L2163.0,668.2" stroke="#66d90d" stroke-width="11.0"/>
</g>
<g clip-path="url(#insclip)">
<rect x="1488.0" y="106.2" width="336.0" height="244.8" fill="#2558c6"/>
<g filter="url(#blob)">
<ellipse cx="1575" cy="150" rx="45" ry="30" fill="#3f95e4" opacity="0.75" transform="rotate(-20 1575 150)"/>
<ellipse cx="1585" cy="215" rx="32" ry="70" fill="#3a8fe2" opacity="0.8" transform="rotate(-25 1585 215)"/>
<ellipse cx="1600" cy="242" rx="16" ry="24" fill="#62d6ee" opacity="0.9" transform="rotate(-10 1600 242)"/>
<ellipse cx="1548" cy="141" rx="10" ry="8" fill="#6ad8f0" opacity="0.8" transform="rotate(0 1548 141)"/>
<ellipse cx="1545" cy="185" rx="16" ry="9" fill="#4fb4ea" opacity="0.7" transform="rotate(0 1545 185)"/>
<ellipse cx="1683" cy="214" rx="22" ry="12" fill="#4db6ea" opacity="0.75" transform="rotate(-20 1683 214)"/>
<ellipse cx="1719" cy="191" rx="14" ry="9" fill="#56c8ee" opacity="0.8" transform="rotate(0 1719 191)"/>
<ellipse cx="1673" cy="281" rx="10" ry="9" fill="#56c8ee" opacity="0.8" transform="rotate(0 1673 281)"/>
<ellipse cx="1784" cy="170" rx="18" ry="12" fill="#3f9ce6" opacity="0.7" transform="rotate(0 1784 170)"/>
<ellipse cx="1752" cy="125" rx="10" ry="7" fill="#4aa8e8" opacity="0.7" transform="rotate(0 1752 125)"/>
<ellipse cx="1687" cy="110" rx="25" ry="5" fill="#4aa8e8" opacity="0.7" transform="rotate(0 1687 110)"/>
<ellipse cx="1810" cy="338" rx="14" ry="10" fill="#4ab0ea" opacity="0.7" transform="rotate(0 1810 338)"/>
<ellipse cx="1636" cy="143" rx="12" ry="10" fill="#3f95e4" opacity="0.6" transform="rotate(0 1636 143)"/>
<ellipse cx="1640" cy="206" rx="14" ry="10" fill="#3f95e4" opacity="0.6" transform="rotate(0 1640 206)"/>
<ellipse cx="1496" cy="218" rx="8" ry="22" fill="#3f95e4" opacity="0.6" transform="rotate(0 1496 218)"/>
<ellipse cx="1535" cy="312" rx="22" ry="12" fill="#3a8ce0" opacity="0.6" transform="rotate(0 1535 312)"/>
<ellipse cx="1706" cy="250" rx="10" ry="10" fill="#3f95e4" opacity="0.6" transform="rotate(0 1706 250)"/>
<ellipse cx="1690" cy="142" rx="40" ry="18" fill="#1b3fa8" opacity="0.85" transform="rotate(10 1690 142)"/>
<ellipse cx="1520" cy="248" rx="26" ry="16" fill="#1b40aa" opacity="0.8" transform="rotate(-10 1520 248)"/>
<ellipse cx="1633" cy="258" rx="22" ry="28" fill="#1d45b0" opacity="0.7" transform="rotate(-20 1633 258)"/>
<ellipse cx="1765" cy="240" rx="30" ry="20" fill="#1c42ad" opacity="0.75" transform="rotate(10 1765 240)"/>
<ellipse cx="1640" cy="115" rx="35" ry="8" fill="#1d44ae" opacity="0.7" transform="rotate(0 1640 115)"/>
<ellipse cx="1715" cy="335" rx="40" ry="14" fill="#1d44ae" opacity="0.7" transform="rotate(0 1715 335)"/>
<ellipse cx="1505" cy="335" rx="20" ry="14" fill="#1f48b2" opacity="0.6" transform="rotate(0 1505 335)"/>
<ellipse cx="1800" cy="280" rx="18" ry="30" fill="#2150bd" opacity="0.5" transform="rotate(0 1800 280)"/>
</g>
<g filter="url(#mot)">
<rect x="1749.4" y="298.3" width="18.2" height="11.4" fill="#2e68d0" opacity="0.43" transform="rotate(-30 1758.5 304.0)"/>
<rect x="1619.9" y="107.3" width="10.8" height="20.0" fill="#1d44b0" opacity="0.53" transform="rotate(-30 1625.2 117.3)"/>
<rect x="1554.0" y="203.3" width="25.6" height="18.8" fill="#1a3ea8" opacity="0.44" transform="rotate(-30 1566.8 212.7)"/>
<rect x="1648.2" y="264.5" width="11.0" height="14.7" fill="#2e68d0" opacity="0.40" transform="rotate(-30 1653.7 271.9)"/>
<rect x="1773.1" y="112.7" width="20.9" height="18.4" fill="#3272d6" opacity="0.61" transform="rotate(-30 1783.6 121.9)"/>
<rect x="1770.4" y="106.7" width="21.3" height="8.0" fill="#2150bd" opacity="0.48" transform="rotate(-30 1781.1 110.7)"/>
<rect x="1627.1" y="147.1" width="15.2" height="17.7" fill="#1d44b0" opacity="0.35" transform="rotate(-30 1634.7 156.0)"/>
<rect x="1711.3" y="210.6" width="22.8" height="10.8" fill="#2150bd" opacity="0.41" transform="rotate(-30 1722.7 216.0)"/>
<rect x="1747.7" y="224.9" width="18.1" height="10.8" fill="#1a3ea8" opacity="0.63" transform="rotate(-30 1756.8 230.3)"/>
<rect x="1508.9" y="303.3" width="15.9" height="19.4" fill="#1d44b0" opacity="0.44" transform="rotate(-30 1516.8 313.0)"/>
<rect x="1795.7" y="233.9" width="13.8" height="16.9" fill="#2150bd" opacity="0.54" transform="rotate(-30 1802.6 242.3)"/>
<rect x="1633.7" y="155.9" width="20.3" height="9.3" fill="#1a3ea8" opacity="0.54" transform="rotate(-30 1643.8 160.5)"/>
<rect x="1690.1" y="193.2" width="22.8" height="10.3" fill="#2150bd" opacity="0.58" transform="rotate(-30 1701.5 198.4)"/>
<rect x="1605.9" y="271.2" width="19.8" height="19.3" fill="#3272d6" opacity="0.65" transform="rotate(-30 1615.8 280.8)"/>
<rect x="1724.9" y="295.9" width="12.4" height="16.6" fill="#3272d6" opacity="0.44" transform="rotate(-30 1731.2 304.2)"/>
<rect x="1661.2" y="217.7" width="25.3" height="11.8" fill="#2e68d0" opacity="0.44" transform="rotate(-30 1673.9 223.6)"/>
<rect x="1478.3" y="199.5" width="20.1" height="19.2" fill="#3a84de" opacity="0.41" transform="rotate(-30 1488.3 209.1)"/>
<rect x="1808.7" y="147.2" width="23.2" height="9.9" fill="#2e68d0" opacity="0.44" transform="rotate(-30 1820.3 152.1)"/>
<rect x="1501.1" y="311.4" width="23.3" height="9.7" fill="#2150bd" opacity="0.39" transform="rotate(-30 1512.7 316.2)"/>
<rect x="1647.4" y="232.4" width="11.7" height="18.4" fill="#3a84de" opacity="0.40" transform="rotate(-30 1653.2 241.6)"/>
<rect x="1633.2" y="115.0" width="10.0" height="10.3" fill="#3a84de" opacity="0.62" transform="rotate(-30 1638.2 120.2)"/>
<rect x="1778.3" y="215.8" width="17.3" height="16.0" fill="#3272d6" opacity="0.60" transform="rotate(-30 1786.9 223.8)"/>
<rect x="1593.1" y="292.9" width="16.4" height="15.1" fill="#2e68d0" opacity="0.48" transform="rotate(-30 1601.3 300.5)"/>
<rect x="1715.1" y="272.7" width="10.1" height="8.5" fill="#1a3ea8" opacity="0.35" transform="rotate(-30 1720.1 276.9)"/>
<rect x="1554.4" y="150.6" width="10.8" height="10.6" fill="#2150bd" opacity="0.61" transform="rotate(-30 1559.8 155.9)"/>
<rect x="1597.1" y="187.8" width="16.7" height="16.2" fill="#3a84de" opacity="0.57" transform="rotate(-30 1605.4 195.9)"/>
<rect x="1793.5" y="192.1" width="21.3" height="12.1" fill="#1d44b0" opacity="0.38" transform="rotate(-30 1804.2 198.2)"/>
<rect x="1769.9" y="222.6" width="21.6" height="14.4" fill="#1a3ea8" opacity="0.41" transform="rotate(-30 1780.7 229.8)"/>
<rect x="1648.7" y="111.4" width="10.7" height="14.4" fill="#3272d6" opacity="0.59" transform="rotate(-30 1654.1 118.6)"/>
<rect x="1485.8" y="234.9" width="17.9" height="15.2" fill="#3272d6" opacity="0.56" transform="rotate(-30 1494.8 242.5)"/>
<rect x="1655.4" y="236.3" width="17.9" height="15.4" fill="#2e68d0" opacity="0.49" transform="rotate(-30 1664.3 244.0)"/>
<rect x="1701.0" y="144.5" width="25.8" height="17.0" fill="#2150bd" opacity="0.63" transform="rotate(-30 1713.9 153.0)"/>
<rect x="1579.7" y="210.5" width="14.2" height="8.6" fill="#2e68d0" opacity="0.39" transform="rotate(-30 1586.8 214.8)"/>
<rect x="1766.9" y="140.8" width="21.0" height="11.0" fill="#1d44b0" opacity="0.32" transform="rotate(-30 1777.4 146.3)"/>
<rect x="1543.7" y="264.9" width="18.0" height="14.6" fill="#2150bd" opacity="0.40" transform="rotate(-30 1552.7 272.2)"/>
<rect x="1645.5" y="323.6" width="13.2" height="16.8" fill="#3272d6" opacity="0.39" transform="rotate(-30 1652.1 332.0)"/>
<rect x="1547.2" y="175.9" width="11.5" height="19.2" fill="#3272d6" opacity="0.36" transform="rotate(-30 1553.0 185.5)"/>
<rect x="1481.3" y="114.5" width="13.4" height="13.0" fill="#3272d6" opacity="0.51" transform="rotate(-30 1488.0 121.0)"/>
<rect x="1810.7" y="316.5" width="13.9" height="15.3" fill="#2e68d0" opacity="0.34" transform="rotate(-30 1817.6 324.2)"/>
<rect x="1763.7" y="197.2" width="22.5" height="11.9" fill="#2e68d0" opacity="0.52" transform="rotate(-30 1775.0 203.2)"/>
<rect x="1647.3" y="122.8" width="22.2" height="17.9" fill="#1a3ea8" opacity="0.44" transform="rotate(-30 1658.4 131.8)"/>
<rect x="1794.3" y="191.3" width="24.1" height="13.0" fill="#3272d6" opacity="0.43" transform="rotate(-30 1806.4 197.8)"/>
<rect x="1602.2" y="115.5" width="14.4" height="10.8" fill="#3272d6" opacity="0.49" transform="rotate(-30 1609.4 120.9)"/>
<rect x="1630.3" y="102.8" width="12.5" height="19.0" fill="#1d44b0" opacity="0.35" transform="rotate(-30 1636.6 112.3)"/>
<rect x="1607.5" y="332.5" width="11.8" height="12.9" fill="#1d44b0" opacity="0.31" transform="rotate(-30 1613.4 339.0)"/>
<rect x="1500.3" y="328.3" width="20.9" height="11.1" fill="#1a3ea8" opacity="0.47" transform="rotate(-30 1510.8 333.8)"/>
<rect x="1559.0" y="320.2" width="25.2" height="8.9" fill="#2e68d0" opacity="0.36" transform="rotate(-30 1571.6 324.7)"/>
<rect x="1613.2" y="282.5" width="21.4" height="10.3" fill="#3a84de" opacity="0.42" transform="rotate(-30 1623.9 287.6)"/>
<rect x="1620.4" y="192.0" width="20.9" height="17.5" fill="#1d44b0" opacity="0.45" transform="rotate(-30 1630.9 200.8)"/>
<rect x="1498.0" y="189.0" width="25.2" height="14.0" fill="#3272d6" opacity="0.50" transform="rotate(-30 1510.6 196.0)"/>
<rect x="1680.2" y="239.5" width="22.9" height="11.1" fill="#1d44b0" opacity="0.61" transform="rotate(-30 1691.7 245.0)"/>
<rect x="1649.9" y="332.5" width="12.2" height="17.4" fill="#2150bd" opacity="0.47" transform="rotate(-30 1656.0 341.2)"/>
<rect x="1641.2" y="314.8" width="12.1" height="14.2" fill="#3272d6" opacity="0.42" transform="rotate(-30 1647.2 321.9)"/>
<rect x="1751.3" y="199.6" width="22.6" height="8.2" fill="#2150bd" opacity="0.65" transform="rotate(-30 1762.6 203.7)"/>
<rect x="1802.4" y="264.4" width="13.1" height="15.9" fill="#1a3ea8" opacity="0.43" transform="rotate(-30 1809.0 272.3)"/>
<rect x="1493.5" y="118.3" width="12.5" height="10.2" fill="#2150bd" opacity="0.59" transform="rotate(-30 1499.8 123.4)"/>
<rect x="1565.0" y="303.9" width="10.1" height="8.7" fill="#3a84de" opacity="0.63" transform="rotate(-30 1570.0 308.3)"/>
<rect x="1750.1" y="104.7" width="24.9" height="10.7" fill="#1d44b0" opacity="0.39" transform="rotate(-30 1762.6 110.0)"/>
<rect x="1671.6" y="150.1" width="25.6" height="12.4" fill="#3272d6" opacity="0.50" transform="rotate(-30 1684.4 156.3)"/>
<rect x="1569.7" y="278.5" width="25.9" height="15.1" fill="#3a84de" opacity="0.33" transform="rotate(-30 1582.6 286.0)"/>
<rect x="1750.6" y="261.5" width="17.8" height="15.9" fill="#3a84de" opacity="0.41" transform="rotate(-30 1759.5 269.4)"/>
<rect x="1651.4" y="117.9" width="19.4" height="10.2" fill="#2150bd" opacity="0.39" transform="rotate(-30 1661.1 122.9)"/>
<rect x="1783.4" y="241.9" width="13.9" height="16.4" fill="#1a3ea8" opacity="0.61" transform="rotate(-30 1790.4 250.1)"/>
<rect x="1746.7" y="180.1" width="19.3" height="15.0" fill="#2e68d0" opacity="0.33" transform="rotate(-30 1756.4 187.6)"/>
<rect x="1711.6" y="225.3" width="18.4" height="16.8" fill="#1a3ea8" opacity="0.37" transform="rotate(-30 1720.7 233.8)"/>
<rect x="1812.9" y="175.1" width="14.1" height="8.9" fill="#1d44b0" opacity="0.41" transform="rotate(-30 1819.9 179.6)"/>
<rect x="1669.0" y="110.2" width="14.6" height="11.1" fill="#1d44b0" opacity="0.58" transform="rotate(-30 1676.3 115.8)"/>
<rect x="1802.8" y="325.9" width="17.1" height="8.8" fill="#1d44b0" opacity="0.42" transform="rotate(-30 1811.3 330.3)"/>
<rect x="1653.4" y="190.8" width="21.7" height="16.9" fill="#3272d6" opacity="0.46" transform="rotate(-30 1664.2 199.3)"/>
<rect x="1556.0" y="324.5" width="24.1" height="9.5" fill="#2e68d0" opacity="0.37" transform="rotate(-30 1568.1 329.2)"/>
<rect x="1697.1" y="303.0" width="25.4" height="8.3" fill="#2e68d0" opacity="0.45" transform="rotate(-30 1709.8 307.1)"/>
<rect x="1663.6" y="289.6" width="18.9" height="14.2" fill="#2150bd" opacity="0.38" transform="rotate(-30 1673.1 296.8)"/>
<rect x="1693.9" y="243.6" width="25.1" height="10.3" fill="#3a84de" opacity="0.42" transform="rotate(-30 1706.4 248.8)"/>
<rect x="1591.0" y="208.9" width="12.7" height="16.5" fill="#1d44b0" opacity="0.59" transform="rotate(-30 1597.4 217.1)"/>
<rect x="1484.4" y="323.2" width="11.4" height="11.7" fill="#3272d6" opacity="0.45" transform="rotate(-30 1490.1 329.0)"/>
<rect x="1548.6" y="279.4" width="23.4" height="10.7" fill="#3272d6" opacity="0.36" transform="rotate(-30 1560.4 284.7)"/>
<rect x="1649.9" y="133.5" width="25.0" height="18.2" fill="#3a84de" opacity="0.44" transform="rotate(-30 1662.4 142.6)"/>
<rect x="1743.7" y="197.5" width="17.3" height="9.3" fill="#2e68d0" opacity="0.31" transform="rotate(-30 1752.4 202.1)"/>
<rect x="1700.6" y="146.1" width="25.3" height="14.8" fill="#2e68d0" opacity="0.61" transform="rotate(-30 1713.3 153.5)"/>
<rect x="1581.2" y="102.1" width="13.5" height="13.5" fill="#3a84de" opacity="0.35" transform="rotate(-30 1588.0 108.8)"/>
<rect x="1574.3" y="280.7" width="16.0" height="12.1" fill="#2e68d0" opacity="0.49" transform="rotate(-30 1582.3 286.8)"/>
<rect x="1810.7" y="138.9" width="23.5" height="17.3" fill="#2150bd" opacity="0.51" transform="rotate(-30 1822.5 147.6)"/>
<rect x="1664.6" y="226.1" width="11.6" height="14.8" fill="#3272d6" opacity="0.56" transform="rotate(-30 1670.4 233.5)"/>
<rect x="1632.8" y="210.6" width="23.9" height="8.1" fill="#2e68d0" opacity="0.37" transform="rotate(-30 1644.8 214.6)"/>
<rect x="1798.1" y="259.0" width="23.2" height="14.4" fill="#1a3ea8" opacity="0.49" transform="rotate(-30 1809.7 266.2)"/>
<rect x="1690.8" y="118.2" width="17.7" height="19.3" fill="#1d44b0" opacity="0.32" transform="rotate(-30 1699.6 127.8)"/>
<rect x="1493.0" y="122.1" width="20.9" height="18.7" fill="#2150bd" opacity="0.60" transform="rotate(-30 1503.5 131.4)"/>
<rect x="1551.5" y="233.3" width="22.2" height="9.4" fill="#1d44b0" opacity="0.47" transform="rotate(-30 1562.6 238.0)"/>
<rect x="1767.8" y="186.4" width="22.8" height="13.5" fill="#1a3ea8" opacity="0.44" transform="rotate(-30 1779.2 193.1)"/>
<rect x="1756.7" y="119.8" width="15.4" height="9.7" fill="#2e68d0" opacity="0.44" transform="rotate(-30 1764.4 124.7)"/>
<rect x="1615.8" y="157.0" width="16.7" height="16.2" fill="#3a84de" opacity="0.39" transform="rotate(-30 1624.2 165.1)"/>
<rect x="1718.6" y="273.0" width="16.7" height="13.5" fill="#3a84de" opacity="0.36" transform="rotate(-30 1727.0 279.7)"/>
<rect x="1761.1" y="183.9" width="14.7" height="19.1" fill="#3a84de" opacity="0.37" transform="rotate(-30 1768.5 193.5)"/>
<rect x="1606.6" y="226.0" width="19.8" height="12.8" fill="#2150bd" opacity="0.54" transform="rotate(-30 1616.5 232.4)"/>
<rect x="1487.0" y="326.3" width="17.4" height="13.4" fill="#3a84de" opacity="0.40" transform="rotate(-30 1495.7 333.0)"/>
<rect x="1756.0" y="211.0" width="11.5" height="12.2" fill="#3272d6" opacity="0.47" transform="rotate(-30 1761.8 217.1)"/>
<rect x="1596.7" y="126.4" width="24.2" height="9.8" fill="#2e68d0" opacity="0.45" transform="rotate(-30 1608.8 131.3)"/>
<rect x="1649.3" y="265.0" width="10.3" height="13.9" fill="#1a3ea8" opacity="0.46" transform="rotate(-30 1654.5 272.0)"/>
<rect x="1627.0" y="99.5" width="10.2" height="13.9" fill="#2150bd" opacity="0.42" transform="rotate(-30 1632.1 106.5)"/>
<rect x="1516.7" y="186.4" width="20.8" height="17.8" fill="#3272d6" opacity="0.57" transform="rotate(-30 1527.1 195.3)"/>
<rect x="1479.7" y="180.2" width="17.8" height="17.8" fill="#1a3ea8" opacity="0.58" transform="rotate(-30 1488.6 189.1)"/>
<rect x="1706.7" y="116.6" width="25.7" height="14.7" fill="#3a84de" opacity="0.51" transform="rotate(-30 1719.6 123.9)"/>
<rect x="1562.1" y="321.2" width="26.0" height="12.1" fill="#3272d6" opacity="0.32" transform="rotate(-30 1575.1 327.3)"/>
<rect x="1737.6" y="254.7" width="13.7" height="18.0" fill="#3272d6" opacity="0.49" transform="rotate(-30 1744.5 263.7)"/>
<rect x="1794.3" y="301.6" width="11.6" height="10.8" fill="#1d44b0" opacity="0.31" transform="rotate(-30 1800.1 307.0)"/>
<rect x="1520.3" y="325.8" width="23.0" height="11.1" fill="#2e68d0" opacity="0.42" transform="rotate(-30 1531.8 331.3)"/>
<rect x="1495.7" y="129.7" width="10.2" height="15.0" fill="#3272d6" opacity="0.35" transform="rotate(-30 1500.8 137.2)"/>
<rect x="1758.2" y="217.6" width="19.6" height="15.9" fill="#3a84de" opacity="0.37" transform="rotate(-30 1768.0 225.5)"/>
<rect x="1749.1" y="202.0" width="18.0" height="9.5" fill="#1a3ea8" opacity="0.46" transform="rotate(-30 1758.0 206.8)"/>
<rect x="1721.9" y="209.7" width="19.0" height="17.1" fill="#2150bd" opacity="0.44" transform="rotate(-30 1731.4 218.2)"/>
<rect x="1480.8" y="239.4" width="25.1" height="8.5" fill="#1a3ea8" opacity="0.53" transform="rotate(-30 1493.3 243.7)"/>
<rect x="1643.2" y="127.1" width="18.2" height="9.0" fill="#3272d6" opacity="0.32" transform="rotate(-30 1652.3 131.5)"/>
<rect x="1592.6" y="139.9" width="18.1" height="19.3" fill="#1d44b0" opacity="0.65" transform="rotate(-30 1601.6 149.6)"/>
<rect x="1596.2" y="302.1" width="18.4" height="17.4" fill="#2150bd" opacity="0.60" transform="rotate(-30 1605.4 310.8)"/>
<rect x="1758.7" y="137.6" width="24.3" height="9.4" fill="#2e68d0" opacity="0.32" transform="rotate(-30 1770.9 142.3)"/>
<rect x="1578.9" y="132.6" width="19.9" height="11.8" fill="#1a3ea8" opacity="0.50" transform="rotate(-30 1588.9 138.5)"/>
<rect x="1549.2" y="196.3" width="24.4" height="15.2" fill="#1a3ea8" opacity="0.55" transform="rotate(-30 1561.4 203.9)"/>
<rect x="1815.6" y="182.5" width="11.8" height="10.9" fill="#3272d6" opacity="0.35" transform="rotate(-30 1821.5 187.9)"/>
<rect x="1613.1" y="283.2" width="22.3" height="9.3" fill="#1a3ea8" opacity="0.43" transform="rotate(-30 1624.2 287.9)"/>
<rect x="1762.4" y="218.9" width="18.6" height="11.5" fill="#1d44b0" opacity="0.49" transform="rotate(-30 1771.7 224.6)"/>
<rect x="1681.5" y="180.0" width="19.6" height="17.0" fill="#1d44b0" opacity="0.46" transform="rotate(-30 1691.3 188.5)"/>
<rect x="1526.5" y="165.4" width="10.7" height="8.7" fill="#3272d6" opacity="0.33" transform="rotate(-30 1531.8 169.7)"/>
<rect x="1779.9" y="276.7" width="19.4" height="17.6" fill="#2150bd" opacity="0.42" transform="rotate(-30 1789.6 285.5)"/>
<rect x="1674.2" y="310.8" width="18.6" height="9.5" fill="#2150bd" opacity="0.32" transform="rotate(-30 1683.5 315.5)"/>
<rect x="1487.6" y="286.4" width="24.3" height="9.7" fill="#3a84de" opacity="0.31" transform="rotate(-30 1499.8 291.3)"/>
<rect x="1759.8" y="271.3" width="17.6" height="13.7" fill="#1a3ea8" opacity="0.38" transform="rotate(-30 1768.6 278.1)"/>
<rect x="1793.6" y="164.2" width="14.2" height="17.3" fill="#1a3ea8" opacity="0.48" transform="rotate(-30 1800.7 172.8)"/>
<rect x="1674.0" y="123.4" width="11.7" height="19.7" fill="#3a84de" opacity="0.55" transform="rotate(-30 1679.8 133.2)"/>
<rect x="1687.6" y="238.5" width="13.8" height="9.9" fill="#2e68d0" opacity="0.30" transform="rotate(-30 1694.5 243.5)"/>
<rect x="1487.6" y="180.6" width="19.4" height="19.2" fill="#3a84de" opacity="0.46" transform="rotate(-30 1497.3 190.2)"/>
<rect x="1583.3" y="333.0" width="14.8" height="13.8" fill="#1a3ea8" opacity="0.32" transform="rotate(-30 1590.7 339.9)"/>
<rect x="1512.2" y="101.9" width="22.7" height="12.6" fill="#3272d6" opacity="0.54" transform="rotate(-30 1523.6 108.2)"/>
<rect x="1626.0" y="221.1" width="23.8" height="12.7" fill="#1a3ea8" opacity="0.53" transform="rotate(-30 1637.9 227.5)"/>
<rect x="1490.0" y="225.8" width="15.9" height="13.1" fill="#1d44b0" opacity="0.55" transform="rotate(-30 1497.9 232.4)"/>
<rect x="1758.7" y="332.9" width="22.5" height="17.8" fill="#3272d6" opacity="0.43" transform="rotate(-30 1769.9 341.8)"/>
<rect x="1594.7" y="108.6" width="17.3" height="8.7" fill="#2e68d0" opacity="0.37" transform="rotate(-30 1603.3 113.0)"/>
<rect x="1615.6" y="200.2" width="22.2" height="13.6" fill="#3272d6" opacity="0.31" transform="rotate(-30 1626.7 207.0)"/>
<rect x="1725.2" y="286.5" width="10.2" height="12.2" fill="#1a3ea8" opacity="0.52" transform="rotate(-30 1730.3 292.6)"/>
<rect x="1521.4" y="294.8" width="25.6" height="17.4" fill="#3272d6" opacity="0.57" transform="rotate(-30 1534.2 303.5)"/>
<rect x="1795.7" y="332.2" width="15.3" height="15.8" fill="#3a84de" opacity="0.33" transform="rotate(-30 1803.3 340.1)"/>
<rect x="1788.2" y="113.0" width="14.6" height="14.9" fill="#2150bd" opacity="0.45" transform="rotate(-30 1795.5 120.4)"/>
<rect x="1596.7" y="260.4" width="18.3" height="18.0" fill="#2150bd" opacity="0.52" transform="rotate(-30 1605.8 269.4)"/>
<rect x="1719.8" y="100.7" width="20.8" height="18.9" fill="#2150bd" opacity="0.57" transform="rotate(-30 1730.2 110.2)"/>
<rect x="1741.7" y="120.8" width="19.8" height="11.7" fill="#1d44b0" opacity="0.43" transform="rotate(-30 1751.7 126.6)"/>
<rect x="1813.2" y="237.1" width="17.6" height="17.6" fill="#2e68d0" opacity="0.35" transform="rotate(-30 1822.0 245.9)"/>
<rect x="1805.2" y="135.8" width="24.4" height="19.7" fill="#3272d6" opacity="0.46" transform="rotate(-30 1817.4 145.7)"/>
<rect x="1519.1" y="210.2" width="18.7" height="17.4" fill="#1a3ea8" opacity="0.39" transform="rotate(-30 1528.4 218.9)"/>
<rect x="1494.5" y="336.7" width="10.0" height="19.6" fill="#2e68d0" opacity="0.61" transform="rotate(-30 1499.5 346.5)"/>
<rect x="1783.7" y="197.1" width="13.2" height="15.2" fill="#2e68d0" opacity="0.55" transform="rotate(-30 1790.3 204.7)"/>
<rect x="1540.2" y="213.8" width="24.6" height="15.1" fill="#3272d6" opacity="0.62" transform="rotate(-30 1552.5 221.3)"/>
<rect x="1730.0" y="134.0" width="20.3" height="10.2" fill="#1d44b0" opacity="0.51" transform="rotate(-30 1740.1 139.1)"/>
<rect x="1482.8" y="114.0" width="16.2" height="10.2" fill="#1d44b0" opacity="0.53" transform="rotate(-30 1491.0 119.1)"/>
<rect x="1572.0" y="158.3" width="18.8" height="14.3" fill="#3a84de" opacity="0.59" transform="rotate(-30 1581.4 165.4)"/>
<rect x="1796.3" y="124.9" width="10.9" height="17.0" fill="#2e68d0" opacity="0.44" transform="rotate(-30 1801.8 133.4)"/>
<rect x="1498.3" y="230.7" width="15.1" height="10.6" fill="#3a84de" opacity="0.56" transform="rotate(-30 1505.9 236.0)"/>
<rect x="1568.6" y="259.9" width="13.6" height="18.6" fill="#3a84de" opacity="0.44" transform="rotate(-30 1575.4 269.2)"/>
<rect x="1638.3" y="141.6" width="17.4" height="11.3" fill="#1a3ea8" opacity="0.35" transform="rotate(-30 1647.0 147.3)"/>
<rect x="1655.1" y="197.2" width="24.6" height="15.9" fill="#1a3ea8" opacity="0.50" transform="rotate(-30 1667.4 205.2)"/>
<rect x="1527.4" y="122.1" width="19.7" height="19.0" fill="#3272d6" opacity="0.45" transform="rotate(-30 1537.2 131.7)"/>
<rect x="1602.3" y="104.9" width="20.0" height="13.6" fill="#1d44b0" opacity="0.47" transform="rotate(-30 1612.3 111.7)"/>
<rect x="1759.9" y="248.9" width="13.8" height="19.5" fill="#1a3ea8" opacity="0.54" transform="rotate(-30 1766.9 258.7)"/>
<rect x="1524.1" y="255.5" width="10.0" height="11.4" fill="#2e68d0" opacity="0.45" transform="rotate(-30 1529.1 261.2)"/>
<rect x="1633.5" y="291.3" width="18.9" height="15.8" fill="#3a84de" opacity="0.56" transform="rotate(-30 1643.0 299.2)"/>
<rect x="1539.2" y="316.5" width="23.4" height="19.0" fill="#3272d6" opacity="0.63" transform="rotate(-30 1550.9 326.0)"/>
<rect x="1738.8" y="168.4" width="24.6" height="17.7" fill="#2e68d0" opacity="0.33" transform="rotate(-30 1751.1 177.3)"/>
<rect x="1809.1" y="151.2" width="12.8" height="14.7" fill="#3272d6" opacity="0.60" transform="rotate(-30 1815.5 158.5)"/>
<rect x="1567.4" y="149.9" width="22.6" height="14.8" fill="#2e68d0" opacity="0.51" transform="rotate(-30 1578.7 157.3)"/>
<rect x="1752.7" y="291.1" width="14.2" height="12.4" fill="#3a84de" opacity="0.65" transform="rotate(-30 1759.8 297.2)"/>
<rect x="1762.0" y="229.1" width="15.1" height="18.8" fill="#1a3ea8" opacity="0.46" transform="rotate(-30 1769.5 238.5)"/>
<rect x="1676.8" y="285.9" width="21.3" height="16.2" fill="#2150bd" opacity="0.37" transform="rotate(-30 1687.4 294.0)"/>
</g>
<g filter="url(#spk)">
<rect x="1738.8" y="247.0" width="6" height="6" fill="#4fb9ea" opacity="0.19"/>
<rect x="1633.2" y="181.0" width="5" height="5" fill="#5fcdee" opacity="0.62"/>
<rect x="1523.2" y="123.8" width="9" height="9" fill="#5fcdee" opacity="0.31"/>
<rect x="1593.6" y="260.2" width="7" height="7" fill="#5fcdee" opacity="0.71"/>
<rect x="1571.6" y="154.6" width="7" height="7" fill="#4fb9ea" opacity="0.79"/>
<rect x="1615.6" y="203.0" width="5" height="5" fill="#4fb9ea" opacity="0.33"/>
<rect x="1545.2" y="242.6" width="7" height="7" fill="#4fb9ea" opacity="0.38"/>
<rect x="1690.4" y="295.4" width="6" height="6" fill="#74e0f0" opacity="0.71"/>
<rect x="1633.2" y="317.4" width="7" height="7" fill="#5fcdee" opacity="0.27"/>
<rect x="1664.0" y="339.4" width="4" height="4" fill="#4fb9ea" opacity="0.35"/>
<rect x="1620.0" y="181.0" width="6" height="6" fill="#5fcdee" opacity="0.53"/>
<rect x="1545.2" y="181.0" width="8" height="8" fill="#46a4e6" opacity="0.31"/>
<rect x="1589.2" y="159.0" width="6" height="6" fill="#74e0f0" opacity="0.34"/>
<rect x="1567.2" y="330.6" width="7" height="7" fill="#5fcdee" opacity="0.45"/>
<rect x="1712.4" y="194.2" width="9" height="9" fill="#46a4e6" opacity="0.36"/>
<rect x="1721.2" y="238.2" width="8" height="8" fill="#74e0f0" opacity="0.19"/>
<rect x="1602.4" y="189.8" width="7" height="7" fill="#74e0f0" opacity="0.43"/>
<rect x="1782.8" y="273.4" width="8" height="8" fill="#5fcdee" opacity="0.23"/>
<rect x="1589.2" y="154.6" width="9" height="9" fill="#4fb9ea" opacity="0.69"/>
<rect x="1505.6" y="154.6" width="6" height="6" fill="#74e0f0" opacity="0.21"/>
<rect x="1514.4" y="264.6" width="5" height="5" fill="#5fcdee" opacity="0.35"/>
<rect x="1576.0" y="225.0" width="5" height="5" fill="#74e0f0" opacity="0.84"/>
<rect x="1589.2" y="304.2" width="9" height="9" fill="#4fb9ea" opacity="0.21"/>
<rect x="1606.8" y="242.6" width="5" height="5" fill="#4fb9ea" opacity="0.50"/>
<rect x="1752.0" y="123.8" width="7" height="7" fill="#46a4e6" opacity="0.65"/>
<rect x="1602.4" y="203.0" width="9" height="9" fill="#74e0f0" opacity="0.71"/>
<rect x="1576.0" y="203.0" width="7" height="7" fill="#5fcdee" opacity="0.25"/>
<rect x="1624.4" y="286.6" width="7" height="7" fill="#4fb9ea" opacity="0.35"/>
<rect x="1602.4" y="242.6" width="8" height="8" fill="#46a4e6" opacity="0.80"/>
<rect x="1721.2" y="198.6" width="4" height="4" fill="#46a4e6" opacity="0.29"/>
<rect x="1576.0" y="172.2" width="4" height="4" fill="#74e0f0" opacity="0.85"/>
<rect x="1567.2" y="207.4" width="4" height="4" fill="#74e0f0" opacity="0.34"/>
<rect x="1615.6" y="220.6" width="5" height="5" fill="#46a4e6" opacity="0.57"/>
<rect x="1708.0" y="260.2" width="5" height="5" fill="#74e0f0" opacity="0.22"/>
<rect x="1580.4" y="185.4" width="9" height="9" fill="#5fcdee" opacity="0.82"/>
<rect x="1558.4" y="172.2" width="4" height="4" fill="#5fcdee" opacity="0.89"/>
<rect x="1611.2" y="211.8" width="7" height="7" fill="#4fb9ea" opacity="0.50"/>
<rect x="1536.4" y="110.6" width="4" height="4" fill="#46a4e6" opacity="0.62"/>
<rect x="1545.2" y="123.8" width="8" height="8" fill="#4fb9ea" opacity="0.43"/>
<rect x="1523.2" y="211.8" width="6" height="6" fill="#46a4e6" opacity="0.35"/>
<rect x="1593.6" y="260.2" width="6" height="6" fill="#74e0f0" opacity="0.56"/>
<rect x="1580.4" y="203.0" width="8" height="8" fill="#5fcdee" opacity="0.49"/>
<rect x="1598.0" y="247.0" width="8" height="8" fill="#5fcdee" opacity="0.42"/>
<rect x="1549.6" y="145.8" width="4" height="4" fill="#4fb9ea" opacity="0.73"/>
<rect x="1606.8" y="251.4" width="4" height="4" fill="#4fb9ea" opacity="0.87"/>
<rect x="1571.6" y="203.0" width="6" height="6" fill="#74e0f0" opacity="0.79"/>
<rect x="1738.8" y="189.8" width="8" height="8" fill="#4fb9ea" opacity="0.52"/>
<rect x="1809.2" y="277.8" width="5" height="5" fill="#74e0f0" opacity="0.27"/>
<rect x="1549.6" y="203.0" width="6" height="6" fill="#74e0f0" opacity="0.45"/>
<rect x="1580.4" y="286.6" width="5" height="5" fill="#46a4e6" opacity="0.64"/>
<rect x="1668.4" y="159.0" width="4" height="4" fill="#5fcdee" opacity="0.27"/>
<rect x="1765.2" y="264.6" width="7" height="7" fill="#46a4e6" opacity="0.30"/>
<rect x="1602.4" y="216.2" width="6" height="6" fill="#46a4e6" opacity="0.82"/>
<rect x="1633.2" y="128.2" width="9" height="9" fill="#5fcdee" opacity="0.31"/>
<rect x="1514.4" y="295.4" width="8" height="8" fill="#46a4e6" opacity="0.26"/>
<rect x="1611.2" y="132.6" width="8" height="8" fill="#74e0f0" opacity="0.75"/>
<rect x="1760.8" y="132.6" width="9" height="9" fill="#4fb9ea" opacity="0.36"/>
<rect x="1598.0" y="247.0" width="6" height="6" fill="#4fb9ea" opacity="0.74"/>
<rect x="1668.4" y="137.0" width="8" height="8" fill="#4fb9ea" opacity="0.48"/>
<rect x="1602.4" y="273.4" width="5" height="5" fill="#5fcdee" opacity="0.36"/>
<rect x="1576.0" y="211.8" width="8" height="8" fill="#4fb9ea" opacity="0.58"/>
<rect x="1809.2" y="242.6" width="4" height="4" fill="#5fcdee" opacity="0.41"/>
<rect x="1593.6" y="251.4" width="4" height="4" fill="#46a4e6" opacity="0.53"/>
<rect x="1567.2" y="145.8" width="4" height="4" fill="#46a4e6" opacity="0.73"/>
<rect x="1558.4" y="150.2" width="9" height="9" fill="#46a4e6" opacity="0.37"/>
<rect x="1576.0" y="119.4" width="7" height="7" fill="#74e0f0" opacity="0.83"/>
<rect x="1571.6" y="233.8" width="9" height="9" fill="#74e0f0" opacity="0.72"/>
<rect x="1536.4" y="295.4" width="9" height="9" fill="#74e0f0" opacity="0.40"/>
<rect x="1791.6" y="286.6" width="7" height="7" fill="#5fcdee" opacity="0.29"/>
<rect x="1602.4" y="247.0" width="7" height="7" fill="#46a4e6" opacity="0.79"/>
<rect x="1576.0" y="326.2" width="7" height="7" fill="#46a4e6" opacity="0.25"/>
<rect x="1796.0" y="330.6" width="7" height="7" fill="#74e0f0" opacity="0.36"/>
<rect x="1580.4" y="299.8" width="7" height="7" fill="#74e0f0" opacity="0.52"/>
<rect x="1708.0" y="141.4" width="9" height="9" fill="#46a4e6" opacity="0.29"/>
<rect x="1818.0" y="154.6" width="9" height="9" fill="#5fcdee" opacity="0.22"/>
<rect x="1492.4" y="123.8" width="8" height="8" fill="#4fb9ea" opacity="0.28"/>
<rect x="1694.8" y="321.8" width="8" height="8" fill="#4fb9ea" opacity="0.36"/>
<rect x="1611.2" y="220.6" width="7" height="7" fill="#46a4e6" opacity="0.84"/>
<rect x="1690.4" y="220.6" width="6" height="6" fill="#4fb9ea" opacity="0.38"/>
<rect x="1615.6" y="255.8" width="7" height="7" fill="#5fcdee" opacity="0.33"/>
<rect x="1545.2" y="185.4" width="6" height="6" fill="#46a4e6" opacity="0.36"/>
<rect x="1558.4" y="128.2" width="4" height="4" fill="#5fcdee" opacity="0.53"/>
<rect x="1690.4" y="216.2" width="5" height="5" fill="#4fb9ea" opacity="0.21"/>
<rect x="1787.2" y="185.4" width="7" height="7" fill="#4fb9ea" opacity="0.45"/>
<rect x="1611.2" y="247.0" width="4" height="4" fill="#46a4e6" opacity="0.48"/>
<rect x="1611.2" y="216.2" width="9" height="9" fill="#4fb9ea" opacity="0.43"/>
<rect x="1628.8" y="291.0" width="8" height="8" fill="#5fcdee" opacity="0.32"/>
<rect x="1540.8" y="291.0" width="8" height="8" fill="#46a4e6" opacity="0.46"/>
<rect x="1576.0" y="203.0" width="6" height="6" fill="#4fb9ea" opacity="0.32"/>
<rect x="1567.2" y="172.2" width="5" height="5" fill="#4fb9ea" opacity="0.59"/>
<rect x="1615.6" y="145.8" width="5" height="5" fill="#74e0f0" opacity="0.79"/>
<rect x="1584.8" y="194.2" width="7" height="7" fill="#5fcdee" opacity="0.80"/>
<rect x="1589.2" y="194.2" width="6" height="6" fill="#74e0f0" opacity="0.31"/>
<rect x="1580.4" y="313.0" width="9" height="9" fill="#74e0f0" opacity="0.26"/>
<rect x="1637.6" y="273.4" width="7" height="7" fill="#46a4e6" opacity="0.33"/>
<rect x="1686.0" y="242.6" width="4" height="4" fill="#4fb9ea" opacity="0.35"/>
<rect x="1501.2" y="233.8" width="5" height="5" fill="#5fcdee" opacity="0.19"/>
<rect x="1606.8" y="242.6" width="6" height="6" fill="#74e0f0" opacity="0.31"/>
<rect x="1769.6" y="326.2" width="5" height="5" fill="#5fcdee" opacity="0.31"/>
<rect x="1782.8" y="176.6" width="5" height="5" fill="#5fcdee" opacity="0.41"/>
<rect x="1576.0" y="242.6" width="6" height="6" fill="#74e0f0" opacity="0.72"/>
<rect x="1580.4" y="159.0" width="7" height="7" fill="#4fb9ea" opacity="0.45"/>
<rect x="1540.8" y="313.0" width="8" height="8" fill="#46a4e6" opacity="0.54"/>
<rect x="1571.6" y="229.4" width="5" height="5" fill="#74e0f0" opacity="0.70"/>
<rect x="1615.6" y="317.4" width="6" height="6" fill="#46a4e6" opacity="0.70"/>
<rect x="1611.2" y="163.4" width="5" height="5" fill="#46a4e6" opacity="0.31"/>
<rect x="1611.2" y="269.0" width="6" height="6" fill="#5fcdee" opacity="0.38"/>
<rect x="1584.8" y="194.2" width="6" height="6" fill="#4fb9ea" opacity="0.76"/>
<rect x="1659.6" y="308.6" width="8" height="8" fill="#5fcdee" opacity="0.47"/>
<rect x="1743.2" y="110.6" width="6" height="6" fill="#74e0f0" opacity="0.32"/>
<rect x="1738.8" y="264.6" width="9" height="9" fill="#4fb9ea" opacity="0.25"/>
<rect x="1606.8" y="216.2" width="7" height="7" fill="#46a4e6" opacity="0.37"/>
<rect x="1584.8" y="163.4" width="6" height="6" fill="#5fcdee" opacity="0.70"/>
<rect x="1725.6" y="203.0" width="5" height="5" fill="#46a4e6" opacity="0.33"/>
<rect x="1628.8" y="145.8" width="9" height="9" fill="#4fb9ea" opacity="0.33"/>
<rect x="1598.0" y="282.2" width="4" height="4" fill="#4fb9ea" opacity="0.41"/>
<rect x="1584.8" y="163.4" width="4" height="4" fill="#5fcdee" opacity="0.75"/>
<rect x="1558.4" y="295.4" width="6" height="6" fill="#46a4e6" opacity="0.72"/>
<rect x="1796.0" y="211.8" width="8" height="8" fill="#4fb9ea" opacity="0.38"/>
<rect x="1602.4" y="264.6" width="7" height="7" fill="#5fcdee" opacity="0.82"/>
<rect x="1703.6" y="163.4" width="5" height="5" fill="#46a4e6" opacity="0.39"/>
<rect x="1620.0" y="154.6" width="6" height="6" fill="#74e0f0" opacity="0.48"/>
<rect x="1580.4" y="335.0" width="5" height="5" fill="#46a4e6" opacity="0.49"/>
<rect x="1642.0" y="247.0" width="5" height="5" fill="#5fcdee" opacity="0.89"/>
<rect x="1611.2" y="137.0" width="9" height="9" fill="#74e0f0" opacity="0.48"/>
<rect x="1558.4" y="159.0" width="7" height="7" fill="#74e0f0" opacity="0.50"/>
<rect x="1791.6" y="321.8" width="5" height="5" fill="#46a4e6" opacity="0.36"/>
<rect x="1620.0" y="203.0" width="4" height="4" fill="#4fb9ea" opacity="0.50"/>
<rect x="1576.0" y="189.8" width="8" height="8" fill="#46a4e6" opacity="0.36"/>
<rect x="1822.4" y="225.0" width="9" height="9" fill="#46a4e6" opacity="0.23"/>
<rect x="1571.6" y="185.4" width="9" height="9" fill="#74e0f0" opacity="0.82"/>
<rect x="1501.2" y="238.2" width="8" height="8" fill="#5fcdee" opacity="0.40"/>
<rect x="1593.6" y="132.6" width="9" height="9" fill="#74e0f0" opacity="0.61"/>
<rect x="1598.0" y="154.6" width="7" height="7" fill="#5fcdee" opacity="0.31"/>
<rect x="1716.8" y="295.4" width="7" height="7" fill="#74e0f0" opacity="0.41"/>
<rect x="1576.0" y="264.6" width="5" height="5" fill="#46a4e6" opacity="0.81"/>
<rect x="1664.0" y="181.0" width="8" height="8" fill="#74e0f0" opacity="0.49"/>
<rect x="1589.2" y="255.8" width="5" height="5" fill="#74e0f0" opacity="0.86"/>
<rect x="1637.6" y="203.0" width="7" height="7" fill="#74e0f0" opacity="0.55"/>
<rect x="1624.4" y="233.8" width="9" height="9" fill="#4fb9ea" opacity="0.45"/>
<rect x="1778.4" y="321.8" width="5" height="5" fill="#4fb9ea" opacity="0.60"/>
<rect x="1554.0" y="207.4" width="8" height="8" fill="#46a4e6" opacity="0.43"/>
<rect x="1615.6" y="273.4" width="6" height="6" fill="#46a4e6" opacity="0.79"/>
<rect x="1611.2" y="194.2" width="9" height="9" fill="#4fb9ea" opacity="0.74"/>
<rect x="1796.0" y="229.4" width="5" height="5" fill="#74e0f0" opacity="0.43"/>
<rect x="1523.2" y="189.8" width="5" height="5" fill="#4fb9ea" opacity="0.42"/>
<rect x="1611.2" y="339.4" width="7" height="7" fill="#5fcdee" opacity="0.26"/>
<rect x="1510.0" y="154.6" width="7" height="7" fill="#74e0f0" opacity="0.26"/>
<rect x="1686.0" y="137.0" width="9" height="9" fill="#46a4e6" opacity="0.20"/>
<rect x="1545.2" y="172.2" width="7" height="7" fill="#4fb9ea" opacity="0.42"/>
<rect x="1598.0" y="132.6" width="5" height="5" fill="#46a4e6" opacity="0.40"/>
<rect x="1593.6" y="154.6" width="4" height="4" fill="#46a4e6" opacity="0.57"/>
<rect x="1681.6" y="348.2" width="4" height="4" fill="#46a4e6" opacity="0.36"/>
<rect x="1620.0" y="198.6" width="8" height="8" fill="#4fb9ea" opacity="0.85"/>
<rect x="1611.2" y="251.4" width="6" height="6" fill="#46a4e6" opacity="0.81"/>
<rect x="1624.4" y="172.2" width="4" height="4" fill="#5fcdee" opacity="0.72"/>
<rect x="1571.6" y="260.2" width="9" height="9" fill="#4fb9ea" opacity="0.64"/>
<rect x="1576.0" y="203.0" width="5" height="5" fill="#74e0f0" opacity="0.59"/>
<rect x="1633.2" y="167.8" width="8" height="8" fill="#74e0f0" opacity="0.41"/>
<rect x="1615.6" y="233.8" width="5" height="5" fill="#4fb9ea" opacity="0.77"/>
<rect x="1752.0" y="286.6" width="9" height="9" fill="#46a4e6" opacity="0.42"/>
<rect x="1545.2" y="172.2" width="6" height="6" fill="#5fcdee" opacity="0.26"/>
<rect x="1602.4" y="159.0" width="5" height="5" fill="#5fcdee" opacity="0.48"/>
<rect x="1584.8" y="176.6" width="9" height="9" fill="#74e0f0" opacity="0.80"/>
<rect x="1571.6" y="264.6" width="4" height="4" fill="#74e0f0" opacity="0.37"/>
<rect x="1593.6" y="229.4" width="4" height="4" fill="#5fcdee" opacity="0.72"/>
<rect x="1778.4" y="313.0" width="9" height="9" fill="#5fcdee" opacity="0.34"/>
<rect x="1514.4" y="123.8" width="8" height="8" fill="#74e0f0" opacity="0.34"/>
<rect x="1540.8" y="106.2" width="7" height="7" fill="#46a4e6" opacity="0.21"/>
<rect x="1545.2" y="229.4" width="8" height="8" fill="#5fcdee" opacity="0.35"/>
<rect x="1562.8" y="211.8" width="9" height="9" fill="#5fcdee" opacity="0.69"/>
<rect x="1554.0" y="291.0" width="5" height="5" fill="#4fb9ea" opacity="0.49"/>
<rect x="1571.6" y="321.8" width="6" height="6" fill="#74e0f0" opacity="0.63"/>
<rect x="1677.2" y="225.0" width="7" height="7" fill="#4fb9ea" opacity="0.53"/>
<rect x="1628.8" y="295.4" width="5" height="5" fill="#5fcdee" opacity="0.38"/>
<rect x="1818.0" y="189.8" width="9" height="9" fill="#46a4e6" opacity="0.42"/>
<rect x="1593.6" y="189.8" width="8" height="8" fill="#4fb9ea" opacity="0.87"/>
<rect x="1765.2" y="128.2" width="7" height="7" fill="#46a4e6" opacity="0.47"/>
<rect x="1615.6" y="242.6" width="9" height="9" fill="#74e0f0" opacity="0.78"/>
<rect x="1554.0" y="172.2" width="4" height="4" fill="#4fb9ea" opacity="0.37"/>
<rect x="1593.6" y="238.2" width="6" height="6" fill="#4fb9ea" opacity="0.65"/>
<rect x="1549.6" y="260.2" width="6" height="6" fill="#4fb9ea" opacity="0.38"/>
<rect x="1549.6" y="137.0" width="8" height="8" fill="#5fcdee" opacity="0.76"/>
<rect x="1738.8" y="137.0" width="4" height="4" fill="#74e0f0" opacity="0.37"/>
<rect x="1787.2" y="273.4" width="7" height="7" fill="#4fb9ea" opacity="0.38"/>
<rect x="1549.6" y="238.2" width="8" height="8" fill="#4fb9ea" opacity="0.84"/>
<rect x="1523.2" y="176.6" width="6" height="6" fill="#5fcdee" opacity="0.34"/>
<rect x="1598.0" y="216.2" width="5" height="5" fill="#74e0f0" opacity="0.73"/>
<rect x="1554.0" y="137.0" width="6" height="6" fill="#4fb9ea" opacity="0.46"/>
<rect x="1818.0" y="220.6" width="4" height="4" fill="#4fb9ea" opacity="0.22"/>
<rect x="1637.6" y="123.8" width="8" height="8" fill="#46a4e6" opacity="0.32"/>
<rect x="1598.0" y="225.0" width="7" height="7" fill="#4fb9ea" opacity="0.51"/>
<rect x="1562.8" y="220.6" width="6" height="6" fill="#74e0f0" opacity="0.41"/>
<rect x="1615.6" y="198.6" width="7" height="7" fill="#46a4e6" opacity="0.48"/>
<rect x="1567.2" y="229.4" width="7" height="7" fill="#74e0f0" opacity="0.28"/>
<rect x="1549.6" y="163.4" width="7" height="7" fill="#46a4e6" opacity="0.42"/>
<rect x="1505.6" y="242.6" width="8" height="8" fill="#4fb9ea" opacity="0.27"/>
<rect x="1589.2" y="238.2" width="7" height="7" fill="#74e0f0" opacity="0.38"/>
<rect x="1584.8" y="185.4" width="8" height="8" fill="#46a4e6" opacity="0.54"/>
<rect x="1580.4" y="220.6" width="5" height="5" fill="#4fb9ea" opacity="0.53"/>
<rect x="1545.2" y="159.0" width="4" height="4" fill="#4fb9ea" opacity="0.37"/>
<rect x="1734.4" y="172.2" width="7" height="7" fill="#74e0f0" opacity="0.40"/>
<rect x="1584.8" y="154.6" width="6" height="6" fill="#4fb9ea" opacity="0.38"/>
<rect x="1708.0" y="225.0" width="5" height="5" fill="#5fcdee" opacity="0.35"/>
<rect x="1545.2" y="132.6" width="8" height="8" fill="#4fb9ea" opacity="0.28"/>
<rect x="1593.6" y="154.6" width="8" height="8" fill="#74e0f0" opacity="0.56"/>
<rect x="1686.0" y="115.0" width="9" height="9" fill="#5fcdee" opacity="0.34"/>
<rect x="1787.2" y="317.4" width="5" height="5" fill="#74e0f0" opacity="0.57"/>
<rect x="1606.8" y="225.0" width="8" height="8" fill="#46a4e6" opacity="0.60"/>
<rect x="1540.8" y="326.2" width="7" height="7" fill="#74e0f0" opacity="0.21"/>
<rect x="1584.8" y="247.0" width="6" height="6" fill="#5fcdee" opacity="0.51"/>
<rect x="1536.4" y="115.0" width="4" height="4" fill="#5fcdee" opacity="0.33"/>
<rect x="1637.6" y="211.8" width="4" height="4" fill="#4fb9ea" opacity="0.73"/>
<rect x="1545.2" y="176.6" width="9" height="9" fill="#46a4e6" opacity="0.41"/>
<rect x="1606.8" y="159.0" width="6" height="6" fill="#46a4e6" opacity="0.83"/>
<rect x="1567.2" y="150.2" width="4" height="4" fill="#74e0f0" opacity="0.35"/>
<rect x="1606.8" y="185.4" width="4" height="4" fill="#5fcdee" opacity="0.41"/>
<rect x="1633.2" y="198.6" width="9" height="9" fill="#74e0f0" opacity="0.64"/>
<rect x="1580.4" y="176.6" width="4" height="4" fill="#5fcdee" opacity="0.39"/>
<rect x="1584.8" y="163.4" width="8" height="8" fill="#74e0f0" opacity="0.40"/>
<rect x="1694.8" y="207.4" width="4" height="4" fill="#4fb9ea" opacity="0.53"/>
<rect x="1532.0" y="172.2" width="6" height="6" fill="#4fb9ea" opacity="0.51"/>
<rect x="1593.6" y="247.0" width="7" height="7" fill="#4fb9ea" opacity="0.82"/>
<rect x="1712.4" y="313.0" width="9" height="9" fill="#46a4e6" opacity="0.21"/>
<rect x="1549.6" y="194.2" width="6" height="6" fill="#5fcdee" opacity="0.25"/>
<rect x="1747.6" y="132.6" width="8" height="8" fill="#74e0f0" opacity="0.86"/>
<rect x="1598.0" y="137.0" width="9" height="9" fill="#46a4e6" opacity="0.52"/>
<rect x="1505.6" y="189.8" width="8" height="8" fill="#5fcdee" opacity="0.30"/>
<rect x="1571.6" y="154.6" width="6" height="6" fill="#46a4e6" opacity="0.23"/>
<rect x="1580.4" y="255.8" width="8" height="8" fill="#4fb9ea" opacity="0.54"/>
<rect x="1580.4" y="207.4" width="8" height="8" fill="#46a4e6" opacity="0.70"/>
<rect x="1598.0" y="264.6" width="6" height="6" fill="#74e0f0" opacity="0.66"/>
<rect x="1562.8" y="132.6" width="8" height="8" fill="#74e0f0" opacity="0.33"/>
<rect x="1562.8" y="167.8" width="8" height="8" fill="#5fcdee" opacity="0.30"/>
<rect x="1492.4" y="110.6" width="7" height="7" fill="#74e0f0" opacity="0.40"/>
<rect x="1606.8" y="233.8" width="6" height="6" fill="#46a4e6" opacity="0.89"/>
<rect x="1584.8" y="106.2" width="6" height="6" fill="#4fb9ea" opacity="0.44"/>
<rect x="1589.2" y="299.8" width="7" height="7" fill="#4fb9ea" opacity="0.38"/>
<rect x="1598.0" y="238.2" width="9" height="9" fill="#46a4e6" opacity="0.62"/>
<rect x="1818.0" y="238.2" width="7" height="7" fill="#4fb9ea" opacity="0.34"/>
<rect x="1532.0" y="198.6" width="9" height="9" fill="#46a4e6" opacity="0.40"/>
<rect x="1738.8" y="189.8" width="4" height="4" fill="#46a4e6" opacity="0.60"/>
<rect x="1606.8" y="123.8" width="4" height="4" fill="#4fb9ea" opacity="0.39"/>
<rect x="1606.8" y="242.6" width="8" height="8" fill="#74e0f0" opacity="0.52"/>
<rect x="1778.4" y="321.8" width="4" height="4" fill="#74e0f0" opacity="0.49"/>
<rect x="1611.2" y="229.4" width="5" height="5" fill="#46a4e6" opacity="0.49"/>
<rect x="1492.4" y="251.4" width="4" height="4" fill="#74e0f0" opacity="0.43"/>
<rect x="1747.6" y="286.6" width="6" height="6" fill="#46a4e6" opacity="0.40"/>
<rect x="1668.4" y="220.6" width="5" height="5" fill="#74e0f0" opacity="0.35"/>
<rect x="1580.4" y="150.2" width="7" height="7" fill="#5fcdee" opacity="0.84"/>
<rect x="1545.2" y="269.0" width="6" height="6" fill="#4fb9ea" opacity="0.42"/>
<rect x="1796.0" y="291.0" width="8" height="8" fill="#4fb9ea" opacity="0.36"/>
<rect x="1492.4" y="238.2" width="6" height="6" fill="#4fb9ea" opacity="0.29"/>
<rect x="1804.8" y="216.2" width="7" height="7" fill="#5fcdee" opacity="0.45"/>
<rect x="1492.4" y="229.4" width="9" height="9" fill="#74e0f0" opacity="0.22"/>
<rect x="1606.8" y="141.4" width="8" height="8" fill="#46a4e6" opacity="0.81"/>
<rect x="1615.6" y="251.4" width="9" height="9" fill="#46a4e6" opacity="0.68"/>
<rect x="1681.6" y="211.8" width="4" height="4" fill="#74e0f0" opacity="0.49"/>
<rect x="1615.6" y="247.0" width="6" height="6" fill="#46a4e6" opacity="0.45"/>
<rect x="1558.4" y="291.0" width="7" height="7" fill="#5fcdee" opacity="0.47"/>
<rect x="1562.8" y="255.8" width="7" height="7" fill="#74e0f0" opacity="0.39"/>
<rect x="1501.2" y="110.6" width="5" height="5" fill="#74e0f0" opacity="0.48"/>
<rect x="1677.2" y="150.2" width="9" height="9" fill="#5fcdee" opacity="0.44"/>
<rect x="1615.6" y="150.2" width="8" height="8" fill="#74e0f0" opacity="0.66"/>
<rect x="1769.6" y="291.0" width="7" height="7" fill="#4fb9ea" opacity="0.46"/>
<rect x="1708.0" y="251.4" width="6" height="6" fill="#4fb9ea" opacity="0.83"/>
<rect x="1593.6" y="220.6" width="7" height="7" fill="#46a4e6" opacity="0.56"/>
<rect x="1712.4" y="343.8" width="6" height="6" fill="#4fb9ea" opacity="0.42"/>
<rect x="1730.0" y="269.0" width="9" height="9" fill="#5fcdee" opacity="0.35"/>
<rect x="1796.0" y="128.2" width="6" height="6" fill="#46a4e6" opacity="0.48"/>
<rect x="1752.0" y="321.8" width="8" height="8" fill="#5fcdee" opacity="0.27"/>
<rect x="1598.0" y="211.8" width="4" height="4" fill="#46a4e6" opacity="0.77"/>
<rect x="1809.2" y="335.0" width="4" height="4" fill="#5fcdee" opacity="0.56"/>
<rect x="1681.6" y="194.2" width="6" height="6" fill="#5fcdee" opacity="0.43"/>
<rect x="1606.8" y="233.8" width="4" height="4" fill="#4fb9ea" opacity="0.59"/>
<rect x="1584.8" y="255.8" width="9" height="9" fill="#4fb9ea" opacity="0.32"/>
<rect x="1712.4" y="238.2" width="6" height="6" fill="#4fb9ea" opacity="0.34"/>
<rect x="1527.6" y="172.2" width="4" height="4" fill="#74e0f0" opacity="0.69"/>
<rect x="1615.6" y="159.0" width="6" height="6" fill="#5fcdee" opacity="0.39"/>
<rect x="1598.0" y="128.2" width="4" height="4" fill="#5fcdee" opacity="0.85"/>
<rect x="1694.8" y="115.0" width="6" height="6" fill="#74e0f0" opacity="0.45"/>
<rect x="1593.6" y="185.4" width="4" height="4" fill="#5fcdee" opacity="0.24"/>
<rect x="1734.4" y="308.6" width="9" height="9" fill="#4fb9ea" opacity="0.26"/>
<rect x="1571.6" y="269.0" width="8" height="8" fill="#4fb9ea" opacity="0.56"/>
<rect x="1580.4" y="251.4" width="4" height="4" fill="#46a4e6" opacity="0.40"/>
<rect x="1672.8" y="260.2" width="9" height="9" fill="#4fb9ea" opacity="0.22"/>
<rect x="1774.0" y="198.6" width="5" height="5" fill="#4fb9ea" opacity="0.31"/>
<rect x="1760.8" y="304.2" width="7" height="7" fill="#5fcdee" opacity="0.32"/>
<rect x="1540.8" y="150.2" width="6" height="6" fill="#46a4e6" opacity="0.68"/>
<rect x="1606.8" y="233.8" width="5" height="5" fill="#46a4e6" opacity="0.83"/>
<rect x="1558.4" y="123.8" width="5" height="5" fill="#46a4e6" opacity="0.33"/>
<rect x="1611.2" y="238.2" width="9" height="9" fill="#46a4e6" opacity="0.60"/>
<rect x="1602.4" y="185.4" width="7" height="7" fill="#46a4e6" opacity="0.47"/>
<rect x="1708.0" y="211.8" width="4" height="4" fill="#5fcdee" opacity="0.40"/>
<rect x="1589.2" y="242.6" width="6" height="6" fill="#5fcdee" opacity="0.60"/>
<rect x="1501.2" y="137.0" width="8" height="8" fill="#5fcdee" opacity="0.45"/>
<rect x="1642.0" y="128.2" width="5" height="5" fill="#5fcdee" opacity="0.71"/>
<rect x="1584.8" y="115.0" width="8" height="8" fill="#5fcdee" opacity="0.36"/>
<rect x="1628.8" y="282.2" width="4" height="4" fill="#74e0f0" opacity="0.37"/>
<rect x="1523.2" y="110.6" width="4" height="4" fill="#4fb9ea" opacity="0.40"/>
<rect x="1624.4" y="150.2" width="5" height="5" fill="#74e0f0" opacity="0.40"/>
<rect x="1514.4" y="295.4" width="5" height="5" fill="#4fb9ea" opacity="0.39"/>
<rect x="1703.6" y="247.0" width="9" height="9" fill="#74e0f0" opacity="0.72"/>
<rect x="1593.6" y="269.0" width="5" height="5" fill="#5fcdee" opacity="0.59"/>
<rect x="1558.4" y="110.6" width="5" height="5" fill="#74e0f0" opacity="0.43"/>
<rect x="1743.2" y="172.2" width="9" height="9" fill="#4fb9ea" opacity="0.24"/>
<rect x="1598.0" y="247.0" width="9" height="9" fill="#4fb9ea" opacity="0.46"/>
<rect x="1611.2" y="247.0" width="7" height="7" fill="#74e0f0" opacity="0.86"/>
<rect x="1699.2" y="216.2" width="7" height="7" fill="#74e0f0" opacity="0.48"/>
<rect x="1778.4" y="321.8" width="9" height="9" fill="#5fcdee" opacity="0.35"/>
<rect x="1598.0" y="198.6" width="8" height="8" fill="#74e0f0" opacity="0.36"/>
<rect x="1602.4" y="216.2" width="8" height="8" fill="#46a4e6" opacity="0.52"/>
<rect x="1602.4" y="255.8" width="9" height="9" fill="#46a4e6" opacity="0.45"/>
<rect x="1589.2" y="137.0" width="5" height="5" fill="#74e0f0" opacity="0.66"/>
<rect x="1602.4" y="220.6" width="4" height="4" fill="#5fcdee" opacity="0.58"/>
<rect x="1571.6" y="163.4" width="4" height="4" fill="#5fcdee" opacity="0.75"/>
<rect x="1505.6" y="308.6" width="8" height="8" fill="#4fb9ea" opacity="0.43"/>
<rect x="1602.4" y="181.0" width="5" height="5" fill="#5fcdee" opacity="0.47"/>
<rect x="1545.2" y="132.6" width="6" height="6" fill="#5fcdee" opacity="0.43"/>
<rect x="1606.8" y="286.6" width="4" height="4" fill="#4fb9ea" opacity="0.70"/>
<rect x="1501.2" y="207.4" width="7" height="7" fill="#74e0f0" opacity="0.63"/>
<rect x="1567.2" y="176.6" width="4" height="4" fill="#74e0f0" opacity="0.71"/>
<rect x="1615.6" y="260.2" width="7" height="7" fill="#46a4e6" opacity="0.36"/>
<rect x="1646.4" y="229.4" width="9" height="9" fill="#74e0f0" opacity="0.38"/>
<rect x="1518.8" y="225.0" width="9" height="9" fill="#46a4e6" opacity="0.35"/>
<rect x="1752.0" y="247.0" width="4" height="4" fill="#4fb9ea" opacity="0.46"/>
<rect x="1576.0" y="163.4" width="4" height="4" fill="#46a4e6" opacity="0.36"/>
<rect x="1505.6" y="141.4" width="4" height="4" fill="#4fb9ea" opacity="0.84"/>
<rect x="1584.8" y="229.4" width="8" height="8" fill="#46a4e6" opacity="0.54"/>
<rect x="1743.2" y="321.8" width="4" height="4" fill="#5fcdee" opacity="0.48"/>
<rect x="1532.0" y="110.6" width="9" height="9" fill="#74e0f0" opacity="0.82"/>
<rect x="1738.8" y="273.4" width="8" height="8" fill="#4fb9ea" opacity="0.31"/>
<rect x="1549.6" y="189.8" width="6" height="6" fill="#74e0f0" opacity="0.49"/>
<rect x="1725.6" y="247.0" width="9" height="9" fill="#46a4e6" opacity="0.25"/>
<rect x="1492.4" y="220.6" width="6" height="6" fill="#46a4e6" opacity="0.85"/>
<rect x="1558.4" y="242.6" width="6" height="6" fill="#5fcdee" opacity="0.47"/>
<rect x="1576.0" y="238.2" width="7" height="7" fill="#74e0f0" opacity="0.47"/>
<rect x="1796.0" y="211.8" width="6" height="6" fill="#74e0f0" opacity="0.20"/>
<rect x="1584.8" y="260.2" width="5" height="5" fill="#74e0f0" opacity="0.42"/>
<rect x="1536.4" y="304.2" width="5" height="5" fill="#74e0f0" opacity="0.36"/>
<rect x="1540.8" y="159.0" width="5" height="5" fill="#74e0f0" opacity="0.80"/>
<rect x="1584.8" y="181.0" width="8" height="8" fill="#5fcdee" opacity="0.61"/>
<rect x="1589.2" y="269.0" width="7" height="7" fill="#46a4e6" opacity="0.72"/>
<rect x="1549.6" y="242.6" width="4" height="4" fill="#46a4e6" opacity="0.84"/>
<rect x="1571.6" y="123.8" width="5" height="5" fill="#4fb9ea" opacity="0.40"/>
<rect x="1708.0" y="225.0" width="4" height="4" fill="#46a4e6" opacity="0.81"/>
<rect x="1545.2" y="229.4" width="7" height="7" fill="#4fb9ea" opacity="0.36"/>
<rect x="1562.8" y="128.2" width="9" height="9" fill="#46a4e6" opacity="0.59"/>
<rect x="1791.6" y="159.0" width="9" height="9" fill="#46a4e6" opacity="0.49"/>
<rect x="1813.6" y="145.8" width="5" height="5" fill="#46a4e6" opacity="0.34"/>
<rect x="1584.8" y="216.2" width="4" height="4" fill="#4fb9ea" opacity="0.49"/>
<rect x="1624.4" y="176.6" width="9" height="9" fill="#46a4e6" opacity="0.49"/>
<rect x="1554.0" y="189.8" width="9" height="9" fill="#46a4e6" opacity="0.77"/>
<rect x="1677.2" y="330.6" width="5" height="5" fill="#5fcdee" opacity="0.45"/>
<rect x="1703.6" y="216.2" width="4" height="4" fill="#5fcdee" opacity="0.27"/>
<rect x="1580.4" y="154.6" width="9" height="9" fill="#74e0f0" opacity="0.46"/>
<rect x="1589.2" y="233.8" width="5" height="5" fill="#46a4e6" opacity="0.63"/>
<rect x="1558.4" y="260.2" width="5" height="5" fill="#74e0f0" opacity="0.70"/>
<rect x="1540.8" y="211.8" width="9" height="9" fill="#4fb9ea" opacity="0.44"/>
<rect x="1562.8" y="154.6" width="6" height="6" fill="#5fcdee" opacity="0.44"/>
<rect x="1734.4" y="269.0" width="7" height="7" fill="#46a4e6" opacity="0.22"/>
<rect x="1620.0" y="255.8" width="4" height="4" fill="#74e0f0" opacity="0.36"/>
<rect x="1725.6" y="141.4" width="6" height="6" fill="#5fcdee" opacity="0.42"/>
<rect x="1549.6" y="317.4" width="9" height="9" fill="#74e0f0" opacity="0.46"/>
<rect x="1664.0" y="229.4" width="9" height="9" fill="#4fb9ea" opacity="0.49"/>
<rect x="1681.6" y="299.8" width="9" height="9" fill="#5fcdee" opacity="0.44"/>
<rect x="1606.8" y="211.8" width="7" height="7" fill="#4fb9ea" opacity="0.42"/>
<rect x="1554.0" y="220.6" width="7" height="7" fill="#5fcdee" opacity="0.57"/>
<rect x="1501.2" y="216.2" width="8" height="8" fill="#46a4e6" opacity="0.87"/>
<rect x="1606.8" y="264.6" width="9" height="9" fill="#74e0f0" opacity="0.46"/>
<rect x="1765.2" y="154.6" width="9" height="9" fill="#46a4e6" opacity="0.26"/>
<rect x="1708.0" y="352.6" width="4" height="4" fill="#74e0f0" opacity="0.50"/>
<rect x="1584.8" y="225.0" width="6" height="6" fill="#46a4e6" opacity="0.81"/>
<rect x="1571.6" y="299.8" width="8" height="8" fill="#74e0f0" opacity="0.21"/>
<rect x="1655.2" y="273.4" width="6" height="6" fill="#46a4e6" opacity="0.66"/>
<rect x="1681.6" y="255.8" width="4" height="4" fill="#4fb9ea" opacity="0.47"/>
<rect x="1580.4" y="251.4" width="5" height="5" fill="#4fb9ea" opacity="0.60"/>
<rect x="1496.8" y="282.2" width="6" height="6" fill="#4fb9ea" opacity="0.28"/>
<rect x="1554.0" y="141.4" width="6" height="6" fill="#46a4e6" opacity="0.79"/>
<rect x="1734.4" y="132.6" width="4" height="4" fill="#74e0f0" opacity="0.67"/>
<rect x="1523.2" y="207.4" width="5" height="5" fill="#4fb9ea" opacity="0.45"/>
<rect x="1576.0" y="238.2" width="4" height="4" fill="#4fb9ea" opacity="0.36"/>
<rect x="1540.8" y="238.2" width="5" height="5" fill="#4fb9ea" opacity="0.67"/>
<rect x="1571.6" y="154.6" width="4" height="4" fill="#4fb9ea" opacity="0.37"/>
<rect x="1505.6" y="313.0" width="8" height="8" fill="#74e0f0" opacity="0.26"/>
<rect x="1567.2" y="291.0" width="5" height="5" fill="#4fb9ea" opacity="0.23"/>
<rect x="1615.6" y="207.4" width="9" height="9" fill="#4fb9ea" opacity="0.70"/>
<rect x="1615.6" y="264.6" width="9" height="9" fill="#46a4e6" opacity="0.80"/>
<rect x="1580.4" y="247.0" width="4" height="4" fill="#74e0f0" opacity="0.65"/>
<rect x="1576.0" y="159.0" width="8" height="8" fill="#5fcdee" opacity="0.40"/>
<rect x="1576.0" y="207.4" width="4" height="4" fill="#4fb9ea" opacity="0.35"/>
<rect x="1668.4" y="304.2" width="5" height="5" fill="#4fb9ea" opacity="0.41"/>
<rect x="1615.6" y="220.6" width="9" height="9" fill="#5fcdee" opacity="0.79"/>
<rect x="1791.6" y="119.4" width="4" height="4" fill="#46a4e6" opacity="0.21"/>
<rect x="1730.0" y="216.2" width="9" height="9" fill="#46a4e6" opacity="0.21"/>
<rect x="1580.4" y="115.0" width="9" height="9" fill="#5fcdee" opacity="0.61"/>
<rect x="1672.8" y="225.0" width="5" height="5" fill="#4fb9ea" opacity="0.48"/>
<rect x="1637.6" y="220.6" width="5" height="5" fill="#5fcdee" opacity="0.31"/>
<rect x="1540.8" y="242.6" width="9" height="9" fill="#46a4e6" opacity="0.59"/>
<rect x="1664.0" y="225.0" width="4" height="4" fill="#5fcdee" opacity="0.43"/>
<rect x="1589.2" y="141.4" width="7" height="7" fill="#46a4e6" opacity="0.35"/>
<rect x="1791.6" y="194.2" width="5" height="5" fill="#4fb9ea" opacity="0.21"/>
<rect x="1580.4" y="304.2" width="9" height="9" fill="#5fcdee" opacity="0.71"/>
<rect x="1492.4" y="317.4" width="6" height="6" fill="#4fb9ea" opacity="0.58"/>
<rect x="1747.6" y="352.6" width="4" height="4" fill="#4fb9ea" opacity="0.38"/>
<rect x="1681.6" y="207.4" width="9" height="9" fill="#5fcdee" opacity="0.67"/>
<rect x="1774.0" y="172.2" width="5" height="5" fill="#5fcdee" opacity="0.60"/>
<rect x="1545.2" y="348.2" width="4" height="4" fill="#74e0f0" opacity="0.47"/>
<rect x="1532.0" y="251.4" width="7" height="7" fill="#46a4e6" opacity="0.37"/>
<rect x="1562.8" y="181.0" width="8" height="8" fill="#4fb9ea" opacity="0.56"/>
<rect x="1567.2" y="181.0" width="4" height="4" fill="#74e0f0" opacity="0.58"/>
<rect x="1558.4" y="141.4" width="8" height="8" fill="#4fb9ea" opacity="0.75"/>
<rect x="1602.4" y="203.0" width="6" height="6" fill="#5fcdee" opacity="0.68"/>
<rect x="1620.0" y="150.2" width="8" height="8" fill="#74e0f0" opacity="0.75"/>
<rect x="1699.2" y="189.8" width="7" height="7" fill="#74e0f0" opacity="0.45"/>
<rect x="1681.6" y="172.2" width="8" height="8" fill="#46a4e6" opacity="0.22"/>
<rect x="1571.6" y="317.4" width="4" height="4" fill="#74e0f0" opacity="0.84"/>
<rect x="1602.4" y="304.2" width="6" height="6" fill="#46a4e6" opacity="0.45"/>
<rect x="1637.6" y="260.2" width="4" height="4" fill="#5fcdee" opacity="0.38"/>
<rect x="1598.0" y="211.8" width="7" height="7" fill="#74e0f0" opacity="0.88"/>
<rect x="1628.8" y="238.2" width="8" height="8" fill="#5fcdee" opacity="0.70"/>
<rect x="1642.0" y="238.2" width="5" height="5" fill="#4fb9ea" opacity="0.84"/>
<rect x="1800.4" y="335.0" width="5" height="5" fill="#74e0f0" opacity="0.28"/>
<rect x="1765.2" y="128.2" width="9" height="9" fill="#4fb9ea" opacity="0.27"/>
<rect x="1576.0" y="128.2" width="9" height="9" fill="#4fb9ea" opacity="0.25"/>
<rect x="1809.2" y="128.2" width="9" height="9" fill="#74e0f0" opacity="0.40"/>
<rect x="1558.4" y="194.2" width="6" height="6" fill="#5fcdee" opacity="0.42"/>
<rect x="1620.0" y="110.6" width="8" height="8" fill="#5fcdee" opacity="0.52"/>
<rect x="1571.6" y="207.4" width="4" height="4" fill="#74e0f0" opacity="0.88"/>
<rect x="1752.0" y="326.2" width="8" height="8" fill="#46a4e6" opacity="0.33"/>
<rect x="1615.6" y="119.4" width="4" height="4" fill="#74e0f0" opacity="0.29"/>
<rect x="1527.6" y="330.6" width="6" height="6" fill="#5fcdee" opacity="0.43"/>
<rect x="1809.2" y="343.8" width="7" height="7" fill="#5fcdee" opacity="0.46"/>
<rect x="1620.0" y="106.2" width="5" height="5" fill="#5fcdee" opacity="0.28"/>
<rect x="1686.0" y="273.4" width="7" height="7" fill="#74e0f0" opacity="0.47"/>
<rect x="1624.4" y="211.8" width="4" height="4" fill="#74e0f0" opacity="0.44"/>
<rect x="1602.4" y="251.4" width="9" height="9" fill="#46a4e6" opacity="0.82"/>
<rect x="1747.6" y="150.2" width="6" height="6" fill="#4fb9ea" opacity="0.20"/>
<rect x="1558.4" y="181.0" width="9" height="9" fill="#4fb9ea" opacity="0.75"/>
<rect x="1774.0" y="317.4" width="8" height="8" fill="#74e0f0" opacity="0.43"/>
<rect x="1606.8" y="159.0" width="6" height="6" fill="#46a4e6" opacity="0.41"/>
<rect x="1694.8" y="141.4" width="4" height="4" fill="#4fb9ea" opacity="0.45"/>
<rect x="1796.0" y="181.0" width="7" height="7" fill="#5fcdee" opacity="0.46"/>
<rect x="1782.8" y="242.6" width="4" height="4" fill="#74e0f0" opacity="0.37"/>
<rect x="1712.4" y="313.0" width="8" height="8" fill="#46a4e6" opacity="0.32"/>
<rect x="1712.4" y="167.8" width="8" height="8" fill="#74e0f0" opacity="0.36"/>
<rect x="1510.0" y="295.4" width="9" height="9" fill="#46a4e6" opacity="0.21"/>
<rect x="1655.2" y="132.6" width="7" height="7" fill="#5fcdee" opacity="0.20"/>
<rect x="1655.2" y="137.0" width="6" height="6" fill="#46a4e6" opacity="0.81"/>
<rect x="1593.6" y="295.4" width="8" height="8" fill="#4fb9ea" opacity="0.36"/>
<rect x="1527.6" y="291.0" width="9" height="9" fill="#5fcdee" opacity="0.38"/>
<rect x="1514.4" y="176.6" width="8" height="8" fill="#46a4e6" opacity="0.33"/>
<rect x="1567.2" y="339.4" width="7" height="7" fill="#74e0f0" opacity="0.28"/>
<rect x="1593.6" y="207.4" width="7" height="7" fill="#46a4e6" opacity="0.33"/>
<rect x="1549.6" y="123.8" width="5" height="5" fill="#46a4e6" opacity="0.60"/>
<rect x="1576.0" y="247.0" width="7" height="7" fill="#4fb9ea" opacity="0.71"/>
<rect x="1734.4" y="264.6" width="8" height="8" fill="#5fcdee" opacity="0.30"/>
<rect x="1562.8" y="247.0" width="6" height="6" fill="#5fcdee" opacity="0.39"/>
<rect x="1505.6" y="326.2" width="8" height="8" fill="#74e0f0" opacity="0.29"/>
<rect x="1809.2" y="194.2" width="6" height="6" fill="#5fcdee" opacity="0.27"/>
<rect x="1677.2" y="185.4" width="8" height="8" fill="#5fcdee" opacity="0.39"/>
<rect x="1721.2" y="299.8" width="4" height="4" fill="#5fcdee" opacity="0.28"/>
<rect x="1822.4" y="339.4" width="4" height="4" fill="#4fb9ea" opacity="0.33"/>
<rect x="1606.8" y="247.0" width="5" height="5" fill="#74e0f0" opacity="0.43"/>
<rect x="1769.6" y="194.2" width="9" height="9" fill="#74e0f0" opacity="0.48"/>
<rect x="1598.0" y="185.4" width="4" height="4" fill="#5fcdee" opacity="0.27"/>
<rect x="1554.0" y="348.2" width="5" height="5" fill="#74e0f0" opacity="0.28"/>
<rect x="1567.2" y="203.0" width="7" height="7" fill="#46a4e6" opacity="0.41"/>
<rect x="1646.4" y="167.8" width="9" height="9" fill="#46a4e6" opacity="0.45"/>
<rect x="1620.0" y="238.2" width="6" height="6" fill="#4fb9ea" opacity="0.68"/>
<rect x="1602.4" y="198.6" width="9" height="9" fill="#5fcdee" opacity="0.45"/>
<rect x="1558.4" y="189.8" width="7" height="7" fill="#4fb9ea" opacity="0.49"/>
<rect x="1778.4" y="330.6" width="7" height="7" fill="#5fcdee" opacity="0.35"/>
<rect x="1523.2" y="128.2" width="4" height="4" fill="#74e0f0" opacity="0.49"/>
<rect x="1598.0" y="141.4" width="5" height="5" fill="#74e0f0" opacity="0.46"/>
<rect x="1584.8" y="194.2" width="4" height="4" fill="#4fb9ea" opacity="0.58"/>
<rect x="1576.0" y="247.0" width="8" height="8" fill="#46a4e6" opacity="0.69"/>
<rect x="1576.0" y="238.2" width="6" height="6" fill="#4fb9ea" opacity="0.68"/>
<rect x="1558.4" y="185.4" width="4" height="4" fill="#5fcdee" opacity="0.86"/>
<rect x="1571.6" y="194.2" width="4" height="4" fill="#74e0f0" opacity="0.75"/>
<rect x="1690.4" y="220.6" width="9" height="9" fill="#74e0f0" opacity="0.33"/>
<rect x="1708.0" y="247.0" width="7" height="7" fill="#46a4e6" opacity="0.37"/>
<rect x="1778.4" y="181.0" width="4" height="4" fill="#4fb9ea" opacity="0.32"/>
<rect x="1598.0" y="304.2" width="5" height="5" fill="#5fcdee" opacity="0.87"/>
<rect x="1567.2" y="198.6" width="7" height="7" fill="#5fcdee" opacity="0.51"/>
<rect x="1593.6" y="269.0" width="4" height="4" fill="#5fcdee" opacity="0.34"/>
<rect x="1558.4" y="137.0" width="6" height="6" fill="#5fcdee" opacity="0.89"/>
<rect x="1818.0" y="282.2" width="8" height="8" fill="#46a4e6" opacity="0.49"/>
<rect x="1571.6" y="251.4" width="4" height="4" fill="#4fb9ea" opacity="0.48"/>
<rect x="1576.0" y="264.6" width="6" height="6" fill="#74e0f0" opacity="0.19"/>
<rect x="1716.8" y="198.6" width="6" height="6" fill="#4fb9ea" opacity="0.57"/>
<rect x="1540.8" y="167.8" width="4" height="4" fill="#5fcdee" opacity="0.35"/>
<rect x="1589.2" y="110.6" width="6" height="6" fill="#74e0f0" opacity="0.77"/>
<rect x="1756.4" y="308.6" width="9" height="9" fill="#4fb9ea" opacity="0.43"/>
<rect x="1580.4" y="348.2" width="4" height="4" fill="#46a4e6" opacity="0.79"/>
<rect x="1611.2" y="251.4" width="7" height="7" fill="#4fb9ea" opacity="0.42"/>
<rect x="1690.4" y="211.8" width="6" height="6" fill="#46a4e6" opacity="0.42"/>
<rect x="1664.0" y="286.6" width="8" height="8" fill="#4fb9ea" opacity="0.48"/>
<rect x="1567.2" y="242.6" width="5" height="5" fill="#5fcdee" opacity="0.83"/>
<rect x="1505.6" y="119.4" width="9" height="9" fill="#46a4e6" opacity="0.26"/>
<rect x="1730.0" y="119.4" width="9" height="9" fill="#5fcdee" opacity="0.23"/>
<rect x="1562.8" y="141.4" width="6" height="6" fill="#4fb9ea" opacity="0.88"/>
<rect x="1571.6" y="132.6" width="5" height="5" fill="#74e0f0" opacity="0.41"/>
<rect x="1562.8" y="220.6" width="5" height="5" fill="#74e0f0" opacity="0.51"/>
<rect x="1769.6" y="207.4" width="7" height="7" fill="#46a4e6" opacity="0.40"/>
<rect x="1787.2" y="326.2" width="9" height="9" fill="#5fcdee" opacity="0.60"/>
<rect x="1598.0" y="238.2" width="8" height="8" fill="#4fb9ea" opacity="0.37"/>
<rect x="1708.0" y="330.6" width="5" height="5" fill="#5fcdee" opacity="0.22"/>
<rect x="1716.8" y="189.8" width="9" height="9" fill="#74e0f0" opacity="0.70"/>
<rect x="1584.8" y="233.8" width="5" height="5" fill="#4fb9ea" opacity="0.54"/>
<rect x="1721.2" y="321.8" width="8" height="8" fill="#46a4e6" opacity="0.19"/>
<rect x="1738.8" y="181.0" width="9" height="9" fill="#4fb9ea" opacity="0.33"/>
<rect x="1536.4" y="313.0" width="7" height="7" fill="#5fcdee" opacity="0.83"/>
<rect x="1668.4" y="150.2" width="9" height="9" fill="#5fcdee" opacity="0.43"/>
<rect x="1809.2" y="119.4" width="5" height="5" fill="#5fcdee" opacity="0.35"/>
<rect x="1611.2" y="260.2" width="5" height="5" fill="#46a4e6" opacity="0.79"/>
<rect x="1818.0" y="273.4" width="9" height="9" fill="#4fb9ea" opacity="0.36"/>
<rect x="1738.8" y="185.4" width="5" height="5" fill="#74e0f0" opacity="0.41"/>
<rect x="1642.0" y="247.0" width="6" height="6" fill="#5fcdee" opacity="0.19"/>
<rect x="1602.4" y="154.6" width="9" height="9" fill="#5fcdee" opacity="0.78"/>
<rect x="1540.8" y="141.4" width="9" height="9" fill="#4fb9ea" opacity="0.75"/>
<rect x="1536.4" y="145.8" width="8" height="8" fill="#4fb9ea" opacity="0.56"/>
<rect x="1642.0" y="145.8" width="6" height="6" fill="#74e0f0" opacity="0.30"/>
<rect x="1624.4" y="291.0" width="7" height="7" fill="#74e0f0" opacity="0.63"/>
<rect x="1681.6" y="251.4" width="7" height="7" fill="#46a4e6" opacity="0.37"/>
<rect x="1611.2" y="141.4" width="6" height="6" fill="#4fb9ea" opacity="0.25"/>
<rect x="1602.4" y="233.8" width="6" height="6" fill="#5fcdee" opacity="0.79"/>
<rect x="1571.6" y="242.6" width="6" height="6" fill="#74e0f0" opacity="0.83"/>
<rect x="1554.0" y="194.2" width="5" height="5" fill="#74e0f0" opacity="0.61"/>
<rect x="1677.2" y="189.8" width="5" height="5" fill="#5fcdee" opacity="0.49"/>
<rect x="1549.6" y="154.6" width="8" height="8" fill="#74e0f0" opacity="0.36"/>
<rect x="1694.8" y="242.6" width="9" height="9" fill="#46a4e6" opacity="0.38"/>
<rect x="1769.6" y="110.6" width="5" height="5" fill="#5fcdee" opacity="0.43"/>
<rect x="1686.0" y="198.6" width="5" height="5" fill="#4fb9ea" opacity="0.25"/>
<rect x="1760.8" y="123.8" width="5" height="5" fill="#4fb9ea" opacity="0.48"/>
<rect x="1510.0" y="128.2" width="8" height="8" fill="#46a4e6" opacity="0.23"/>
<rect x="1738.8" y="282.2" width="8" height="8" fill="#5fcdee" opacity="0.29"/>
<rect x="1567.2" y="176.6" width="4" height="4" fill="#5fcdee" opacity="0.47"/>
<rect x="1562.8" y="313.0" width="8" height="8" fill="#74e0f0" opacity="0.73"/>
<rect x="1598.0" y="198.6" width="8" height="8" fill="#4fb9ea" opacity="0.31"/>
<rect x="1782.8" y="335.0" width="4" height="4" fill="#4fb9ea" opacity="0.37"/>
<rect x="1615.6" y="220.6" width="7" height="7" fill="#74e0f0" opacity="0.82"/>
<rect x="1813.6" y="119.4" width="6" height="6" fill="#5fcdee" opacity="0.20"/>
<rect x="1624.4" y="247.0" width="4" height="4" fill="#74e0f0" opacity="0.81"/>
<rect x="1628.8" y="198.6" width="6" height="6" fill="#5fcdee" opacity="0.90"/>
<rect x="1602.4" y="264.6" width="8" height="8" fill="#46a4e6" opacity="0.46"/>
<rect x="1822.4" y="299.8" width="6" height="6" fill="#46a4e6" opacity="0.23"/>
<rect x="1496.8" y="216.2" width="7" height="7" fill="#74e0f0" opacity="0.42"/>
<rect x="1628.8" y="159.0" width="9" height="9" fill="#4fb9ea" opacity="0.25"/>
<rect x="1677.2" y="339.4" width="6" height="6" fill="#74e0f0" opacity="0.49"/>
<rect x="1694.8" y="291.0" width="7" height="7" fill="#4fb9ea" opacity="0.43"/>
<rect x="1501.2" y="255.8" width="8" height="8" fill="#5fcdee" opacity="0.22"/>
<rect x="1598.0" y="141.4" width="7" height="7" fill="#46a4e6" opacity="0.50"/>
<rect x="1606.8" y="123.8" width="7" height="7" fill="#4fb9ea" opacity="0.34"/>
<rect x="1703.6" y="123.8" width="8" height="8" fill="#74e0f0" opacity="0.43"/>
<rect x="1606.8" y="273.4" width="9" height="9" fill="#46a4e6" opacity="0.53"/>
<rect x="1584.8" y="189.8" width="5" height="5" fill="#46a4e6" opacity="0.75"/>
<rect x="1576.0" y="229.4" width="8" height="8" fill="#5fcdee" opacity="0.36"/>
<rect x="1576.0" y="198.6" width="8" height="8" fill="#74e0f0" opacity="0.45"/>
<rect x="1681.6" y="220.6" width="5" height="5" fill="#74e0f0" opacity="0.78"/>
<rect x="1708.0" y="229.4" width="9" height="9" fill="#4fb9ea" opacity="0.32"/>
<rect x="1558.4" y="255.8" width="9" height="9" fill="#5fcdee" opacity="0.36"/>
<rect x="1567.2" y="260.2" width="9" height="9" fill="#5fcdee" opacity="0.49"/>
<rect x="1712.4" y="273.4" width="6" height="6" fill="#74e0f0" opacity="0.34"/>
<rect x="1637.6" y="145.8" width="8" height="8" fill="#46a4e6" opacity="0.39"/>
<rect x="1611.2" y="238.2" width="5" height="5" fill="#46a4e6" opacity="0.37"/>
<rect x="1606.8" y="189.8" width="9" height="9" fill="#4fb9ea" opacity="0.78"/>
<rect x="1562.8" y="194.2" width="7" height="7" fill="#74e0f0" opacity="0.81"/>
<rect x="1606.8" y="110.6" width="9" height="9" fill="#74e0f0" opacity="0.52"/>
<rect x="1584.8" y="225.0" width="5" height="5" fill="#74e0f0" opacity="0.47"/>
<rect x="1589.2" y="321.8" width="9" height="9" fill="#74e0f0" opacity="0.39"/>
<rect x="1615.6" y="211.8" width="4" height="4" fill="#5fcdee" opacity="0.62"/>
<rect x="1589.2" y="282.2" width="7" height="7" fill="#5fcdee" opacity="0.48"/>
<rect x="1540.8" y="317.4" width="8" height="8" fill="#74e0f0" opacity="0.54"/>
<rect x="1778.4" y="339.4" width="5" height="5" fill="#5fcdee" opacity="0.45"/>
<rect x="1554.0" y="132.6" width="7" height="7" fill="#4fb9ea" opacity="0.53"/>
<rect x="1571.6" y="299.8" width="9" height="9" fill="#5fcdee" opacity="0.30"/>
<rect x="1562.8" y="185.4" width="7" height="7" fill="#74e0f0" opacity="0.43"/>
<rect x="1804.8" y="269.0" width="5" height="5" fill="#46a4e6" opacity="0.23"/>
<rect x="1664.0" y="176.6" width="9" height="9" fill="#4fb9ea" opacity="0.28"/>
<rect x="1611.2" y="220.6" width="4" height="4" fill="#46a4e6" opacity="0.89"/>
<rect x="1690.4" y="216.2" width="6" height="6" fill="#4fb9ea" opacity="0.79"/>
<rect x="1536.4" y="185.4" width="4" height="4" fill="#46a4e6" opacity="0.37"/>
<rect x="1589.2" y="110.6" width="5" height="5" fill="#46a4e6" opacity="0.38"/>
<rect x="1611.2" y="229.4" width="7" height="7" fill="#74e0f0" opacity="0.66"/>
<rect x="1699.2" y="304.2" width="8" height="8" fill="#4fb9ea" opacity="0.59"/>
<rect x="1703.6" y="220.6" width="8" height="8" fill="#5fcdee" opacity="0.25"/>
<rect x="1813.6" y="172.2" width="7" height="7" fill="#4fb9ea" opacity="0.19"/>
<rect x="1598.0" y="251.4" width="5" height="5" fill="#74e0f0" opacity="0.80"/>
<rect x="1602.4" y="264.6" width="9" height="9" fill="#74e0f0" opacity="0.52"/>
<rect x="1540.8" y="110.6" width="9" height="9" fill="#5fcdee" opacity="0.89"/>
<rect x="1580.4" y="115.0" width="8" height="8" fill="#5fcdee" opacity="0.81"/>
<rect x="1668.4" y="163.4" width="5" height="5" fill="#5fcdee" opacity="0.22"/>
<rect x="1554.0" y="132.6" width="6" height="6" fill="#74e0f0" opacity="0.50"/>
<rect x="1620.0" y="181.0" width="7" height="7" fill="#4fb9ea" opacity="0.68"/>
<rect x="1809.2" y="335.0" width="4" height="4" fill="#46a4e6" opacity="0.40"/>
<rect x="1606.8" y="229.4" width="8" height="8" fill="#46a4e6" opacity="0.37"/>
<rect x="1558.4" y="159.0" width="4" height="4" fill="#4fb9ea" opacity="0.49"/>
<rect x="1611.2" y="238.2" width="6" height="6" fill="#74e0f0" opacity="0.33"/>
<rect x="1562.8" y="128.2" width="7" height="7" fill="#74e0f0" opacity="0.67"/>
<rect x="1602.4" y="154.6" width="7" height="7" fill="#74e0f0" opacity="0.59"/>
<rect x="1747.6" y="198.6" width="4" height="4" fill="#4fb9ea" opacity="0.26"/>
<rect x="1549.6" y="176.6" width="8" height="8" fill="#5fcdee" opacity="0.86"/>
<rect x="1554.0" y="220.6" width="7" height="7" fill="#74e0f0" opacity="0.68"/>
<rect x="1606.8" y="145.8" width="8" height="8" fill="#4fb9ea" opacity="0.35"/>
<rect x="1730.0" y="141.4" width="7" height="7" fill="#4fb9ea" opacity="0.48"/>
<rect x="1699.2" y="172.2" width="7" height="7" fill="#5fcdee" opacity="0.45"/>
<rect x="1690.4" y="260.2" width="8" height="8" fill="#46a4e6" opacity="0.49"/>
<rect x="1584.8" y="163.4" width="5" height="5" fill="#46a4e6" opacity="0.86"/>
<rect x="1580.4" y="115.0" width="8" height="8" fill="#4fb9ea" opacity="0.32"/>
<rect x="1637.6" y="132.6" width="4" height="4" fill="#74e0f0" opacity="0.29"/>
<rect x="1796.0" y="181.0" width="9" height="9" fill="#4fb9ea" opacity="0.28"/>
<rect x="1668.4" y="282.2" width="5" height="5" fill="#4fb9ea" opacity="0.21"/>
<rect x="1668.4" y="242.6" width="9" height="9" fill="#5fcdee" opacity="0.19"/>
<rect x="1756.4" y="308.6" width="4" height="4" fill="#5fcdee" opacity="0.48"/>
<rect x="1822.4" y="220.6" width="9" height="9" fill="#74e0f0" opacity="0.35"/>
<rect x="1615.6" y="238.2" width="9" height="9" fill="#46a4e6" opacity="0.41"/>
<rect x="1593.6" y="229.4" width="4" height="4" fill="#5fcdee" opacity="0.90"/>
<rect x="1523.2" y="335.0" width="6" height="6" fill="#4fb9ea" opacity="0.34"/>
<rect x="1532.0" y="317.4" width="7" height="7" fill="#74e0f0" opacity="0.31"/>
<rect x="1712.4" y="119.4" width="6" height="6" fill="#1a3ca4" opacity="0.35"/>
<rect x="1664.0" y="181.0" width="8" height="8" fill="#1a3ca4" opacity="0.38"/>
<rect x="1505.6" y="123.8" width="8" height="8" fill="#1a3ca4" opacity="0.53"/>
<rect x="1813.6" y="110.6" width="6" height="6" fill="#1a3ca4" opacity="0.40"/>
<rect x="1699.2" y="194.2" width="6" height="6" fill="#1a3ca4" opacity="0.53"/>
<rect x="1642.0" y="242.6" width="5" height="5" fill="#1a3ca4" opacity="0.31"/>
<rect x="1787.2" y="141.4" width="8" height="8" fill="#1a3ca4" opacity="0.35"/>
<rect x="1822.4" y="238.2" width="5" height="5" fill="#1a3ca4" opacity="0.24"/>
<rect x="1571.6" y="335.0" width="8" height="8" fill="#1a3ca4" opacity="0.31"/>
<rect x="1611.2" y="238.2" width="5" height="5" fill="#1a3ca4" opacity="0.33"/>
<rect x="1646.4" y="207.4" width="5" height="5" fill="#1a3ca4" opacity="0.21"/>
<rect x="1558.4" y="176.6" width="5" height="5" fill="#1a3ca4" opacity="0.45"/>
<rect x="1791.6" y="159.0" width="8" height="8" fill="#1a3ca4" opacity="0.51"/>
<rect x="1527.6" y="194.2" width="5" height="5" fill="#1a3ca4" opacity="0.43"/>
<rect x="1545.2" y="181.0" width="6" height="6" fill="#1a3ca4" opacity="0.37"/>
<rect x="1571.6" y="286.6" width="5" height="5" fill="#1a3ca4" opacity="0.43"/>
<rect x="1738.8" y="348.2" width="8" height="8" fill="#1a3ca4" opacity="0.25"/>
<rect x="1571.6" y="189.8" width="5" height="5" fill="#1a3ca4" opacity="0.23"/>
<rect x="1655.2" y="159.0" width="6" height="6" fill="#1a3ca4" opacity="0.30"/>
<rect x="1602.4" y="159.0" width="8" height="8" fill="#1a3ca4" opacity="0.26"/>
<rect x="1545.2" y="313.0" width="5" height="5" fill="#1a3ca4" opacity="0.57"/>
<rect x="1694.8" y="150.2" width="8" height="8" fill="#1a3ca4" opacity="0.33"/>
<rect x="1505.6" y="291.0" width="6" height="6" fill="#1a3ca4" opacity="0.31"/>
<rect x="1664.0" y="282.2" width="5" height="5" fill="#1a3ca4" opacity="0.34"/>
<rect x="1584.8" y="326.2" width="5" height="5" fill="#1a3ca4" opacity="0.56"/>
<rect x="1536.4" y="163.4" width="6" height="6" fill="#1a3ca4" opacity="0.35"/>
<rect x="1624.4" y="132.6" width="5" height="5" fill="#1a3ca4" opacity="0.42"/>
<rect x="1650.8" y="216.2" width="6" height="6" fill="#1a3ca4" opacity="0.26"/>
<rect x="1514.4" y="128.2" width="6" height="6" fill="#1a3ca4" opacity="0.31"/>
<rect x="1532.0" y="335.0" width="6" height="6" fill="#1a3ca4" opacity="0.55"/>
<rect x="1796.0" y="343.8" width="6" height="6" fill="#1a3ca4" opacity="0.56"/>
<rect x="1778.4" y="229.4" width="8" height="8" fill="#1a3ca4" opacity="0.39"/>
<rect x="1545.2" y="233.8" width="8" height="8" fill="#1a3ca4" opacity="0.23"/>
<rect x="1738.8" y="119.4" width="6" height="6" fill="#1a3ca4" opacity="0.39"/>
<rect x="1730.0" y="119.4" width="8" height="8" fill="#1a3ca4" opacity="0.52"/>
<rect x="1633.2" y="343.8" width="5" height="5" fill="#1a3ca4" opacity="0.54"/>
<rect x="1624.4" y="247.0" width="8" height="8" fill="#1a3ca4" opacity="0.41"/>
<rect x="1818.0" y="106.2" width="5" height="5" fill="#1a3ca4" opacity="0.30"/>
<rect x="1505.6" y="115.0" width="8" height="8" fill="#1a3ca4" opacity="0.42"/>
<rect x="1580.4" y="313.0" width="8" height="8" fill="#1a3ca4" opacity="0.33"/>
<rect x="1747.6" y="115.0" width="5" height="5" fill="#1a3ca4" opacity="0.36"/>
<rect x="1721.2" y="145.8" width="8" height="8" fill="#1a3ca4" opacity="0.37"/>
<rect x="1778.4" y="141.4" width="5" height="5" fill="#1a3ca4" opacity="0.52"/>
<rect x="1668.4" y="299.8" width="8" height="8" fill="#1a3ca4" opacity="0.59"/>
<rect x="1738.8" y="269.0" width="8" height="8" fill="#1a3ca4" opacity="0.57"/>
<rect x="1637.6" y="291.0" width="5" height="5" fill="#1a3ca4" opacity="0.22"/>
<rect x="1642.0" y="159.0" width="5" height="5" fill="#1a3ca4" opacity="0.27"/>
<rect x="1584.8" y="335.0" width="5" height="5" fill="#1a3ca4" opacity="0.52"/>
<rect x="1686.0" y="260.2" width="6" height="6" fill="#1a3ca4" opacity="0.41"/>
<rect x="1584.8" y="216.2" width="6" height="6" fill="#1a3ca4" opacity="0.40"/>
<rect x="1532.0" y="352.6" width="5" height="5" fill="#1a3ca4" opacity="0.33"/>
<rect x="1571.6" y="225.0" width="5" height="5" fill="#1a3ca4" opacity="0.52"/>
<rect x="1752.0" y="132.6" width="6" height="6" fill="#1a3ca4" opacity="0.32"/>
<rect x="1752.0" y="154.6" width="8" height="8" fill="#1a3ca4" opacity="0.37"/>
<rect x="1545.2" y="181.0" width="5" height="5" fill="#1a3ca4" opacity="0.50"/>
<rect x="1677.2" y="238.2" width="6" height="6" fill="#1a3ca4" opacity="0.49"/>
<rect x="1584.8" y="335.0" width="6" height="6" fill="#1a3ca4" opacity="0.40"/>
<rect x="1584.8" y="317.4" width="6" height="6" fill="#1a3ca4" opacity="0.29"/>
<rect x="1765.2" y="233.8" width="6" height="6" fill="#1a3ca4" opacity="0.56"/>
<rect x="1584.8" y="225.0" width="6" height="6" fill="#1a3ca4" opacity="0.24"/>
<rect x="1668.4" y="291.0" width="8" height="8" fill="#1a3ca4" opacity="0.50"/>
<rect x="1593.6" y="172.2" width="5" height="5" fill="#1a3ca4" opacity="0.49"/>
<rect x="1730.0" y="128.2" width="8" height="8" fill="#1a3ca4" opacity="0.27"/>
<rect x="1804.8" y="137.0" width="8" height="8" fill="#1a3ca4" opacity="0.50"/>
<rect x="1562.8" y="238.2" width="6" height="6" fill="#1a3ca4" opacity="0.39"/>
<rect x="1650.8" y="326.2" width="6" height="6" fill="#1a3ca4" opacity="0.38"/>
<rect x="1703.6" y="167.8" width="5" height="5" fill="#1a3ca4" opacity="0.59"/>
<rect x="1589.2" y="277.8" width="5" height="5" fill="#1a3ca4" opacity="0.31"/>
<rect x="1716.8" y="335.0" width="8" height="8" fill="#1a3ca4" opacity="0.22"/>
<rect x="1804.8" y="238.2" width="5" height="5" fill="#1a3ca4" opacity="0.44"/>
<rect x="1743.2" y="313.0" width="8" height="8" fill="#1a3ca4" opacity="0.33"/>
<rect x="1765.2" y="269.0" width="6" height="6" fill="#1a3ca4" opacity="0.31"/>
<rect x="1532.0" y="260.2" width="6" height="6" fill="#1a3ca4" opacity="0.37"/>
<rect x="1580.4" y="291.0" width="6" height="6" fill="#1a3ca4" opacity="0.59"/>
<rect x="1589.2" y="225.0" width="8" height="8" fill="#1a3ca4" opacity="0.41"/>
<rect x="1787.2" y="172.2" width="8" height="8" fill="#1a3ca4" opacity="0.35"/>
<rect x="1642.0" y="163.4" width="6" height="6" fill="#1a3ca4" opacity="0.56"/>
<rect x="1554.0" y="198.6" width="5" height="5" fill="#1a3ca4" opacity="0.27"/>
<rect x="1796.0" y="304.2" width="5" height="5" fill="#1a3ca4" opacity="0.28"/>
<rect x="1567.2" y="119.4" width="6" height="6" fill="#1a3ca4" opacity="0.33"/>
<rect x="1708.0" y="176.6" width="6" height="6" fill="#1a3ca4" opacity="0.55"/>
<rect x="1672.8" y="247.0" width="6" height="6" fill="#1a3ca4" opacity="0.27"/>
<rect x="1571.6" y="189.8" width="5" height="5" fill="#1a3ca4" opacity="0.46"/>
<rect x="1589.2" y="207.4" width="5" height="5" fill="#1a3ca4" opacity="0.41"/>
<rect x="1496.8" y="242.6" width="5" height="5" fill="#1a3ca4" opacity="0.38"/>
<rect x="1611.2" y="308.6" width="8" height="8" fill="#1a3ca4" opacity="0.29"/>
<rect x="1492.4" y="264.6" width="8" height="8" fill="#1a3ca4" opacity="0.32"/>
<rect x="1606.8" y="189.8" width="6" height="6" fill="#1a3ca4" opacity="0.41"/>
<rect x="1664.0" y="251.4" width="6" height="6" fill="#1a3ca4" opacity="0.51"/>
<rect x="1796.0" y="321.8" width="6" height="6" fill="#1a3ca4" opacity="0.37"/>
<rect x="1822.4" y="326.2" width="5" height="5" fill="#1a3ca4" opacity="0.34"/>
<rect x="1765.2" y="264.6" width="6" height="6" fill="#1a3ca4" opacity="0.27"/>
<rect x="1796.0" y="163.4" width="8" height="8" fill="#1a3ca4" opacity="0.55"/>
<rect x="1646.4" y="264.6" width="5" height="5" fill="#1a3ca4" opacity="0.35"/>
<rect x="1584.8" y="220.6" width="8" height="8" fill="#1a3ca4" opacity="0.36"/>
<rect x="1589.2" y="132.6" width="8" height="8" fill="#1a3ca4" opacity="0.42"/>
<rect x="1642.0" y="343.8" width="6" height="6" fill="#1a3ca4" opacity="0.57"/>
<rect x="1778.4" y="295.4" width="8" height="8" fill="#1a3ca4" opacity="0.50"/>
<rect x="1523.2" y="185.4" width="5" height="5" fill="#1a3ca4" opacity="0.54"/>
<rect x="1813.6" y="317.4" width="6" height="6" fill="#1a3ca4" opacity="0.30"/>
<rect x="1677.2" y="313.0" width="6" height="6" fill="#1a3ca4" opacity="0.35"/>
<rect x="1778.4" y="233.8" width="6" height="6" fill="#1a3ca4" opacity="0.34"/>
<rect x="1545.2" y="251.4" width="8" height="8" fill="#1a3ca4" opacity="0.30"/>
<rect x="1655.2" y="185.4" width="5" height="5" fill="#1a3ca4" opacity="0.41"/>
<rect x="1514.4" y="343.8" width="5" height="5" fill="#1a3ca4" opacity="0.33"/>
<rect x="1796.0" y="132.6" width="8" height="8" fill="#1a3ca4" opacity="0.41"/>
<rect x="1611.2" y="110.6" width="6" height="6" fill="#1a3ca4" opacity="0.41"/>
<rect x="1699.2" y="321.8" width="8" height="8" fill="#1a3ca4" opacity="0.24"/>
<rect x="1536.4" y="295.4" width="5" height="5" fill="#1a3ca4" opacity="0.38"/>
<rect x="1496.8" y="115.0" width="5" height="5" fill="#1a3ca4" opacity="0.22"/>
<rect x="1822.4" y="313.0" width="6" height="6" fill="#1a3ca4" opacity="0.37"/>
<rect x="1743.2" y="110.6" width="8" height="8" fill="#1a3ca4" opacity="0.54"/>
<rect x="1769.6" y="313.0" width="6" height="6" fill="#1a3ca4" opacity="0.43"/>
<rect x="1765.2" y="339.4" width="6" height="6" fill="#1a3ca4" opacity="0.36"/>
<rect x="1589.2" y="220.6" width="5" height="5" fill="#1a3ca4" opacity="0.23"/>
<rect x="1606.8" y="255.8" width="8" height="8" fill="#1a3ca4" opacity="0.57"/>
<rect x="1743.2" y="308.6" width="5" height="5" fill="#1a3ca4" opacity="0.58"/>
<rect x="1738.8" y="251.4" width="6" height="6" fill="#1a3ca4" opacity="0.23"/>
<rect x="1598.0" y="225.0" width="8" height="8" fill="#1a3ca4" opacity="0.26"/>
<rect x="1527.6" y="321.8" width="6" height="6" fill="#1a3ca4" opacity="0.37"/>
<rect x="1554.0" y="198.6" width="5" height="5" fill="#1a3ca4" opacity="0.37"/>
<rect x="1694.8" y="269.0" width="5" height="5" fill="#1a3ca4" opacity="0.48"/>
<rect x="1642.0" y="247.0" width="6" height="6" fill="#1a3ca4" opacity="0.44"/>
<rect x="1514.4" y="203.0" width="8" height="8" fill="#1a3ca4" opacity="0.41"/>
<rect x="1796.0" y="198.6" width="8" height="8" fill="#1a3ca4" opacity="0.48"/>
<rect x="1804.8" y="321.8" width="5" height="5" fill="#1a3ca4" opacity="0.52"/>
<rect x="1576.0" y="326.2" width="6" height="6" fill="#1a3ca4" opacity="0.42"/>
<rect x="1743.2" y="176.6" width="6" height="6" fill="#1a3ca4" opacity="0.33"/>
<rect x="1760.8" y="185.4" width="8" height="8" fill="#1a3ca4" opacity="0.29"/>
<rect x="1800.4" y="308.6" width="5" height="5" fill="#1a3ca4" opacity="0.53"/>
<rect x="1782.8" y="145.8" width="6" height="6" fill="#1a3ca4" opacity="0.20"/>
<rect x="1822.4" y="150.2" width="6" height="6" fill="#1a3ca4" opacity="0.30"/>
<rect x="1624.4" y="172.2" width="8" height="8" fill="#1a3ca4" opacity="0.45"/>
<rect x="1496.8" y="343.8" width="8" height="8" fill="#1a3ca4" opacity="0.60"/>
<rect x="1650.8" y="277.8" width="8" height="8" fill="#1a3ca4" opacity="0.21"/>
<rect x="1624.4" y="106.2" width="6" height="6" fill="#1a3ca4" opacity="0.35"/>
<rect x="1562.8" y="260.2" width="6" height="6" fill="#1a3ca4" opacity="0.42"/>
<rect x="1549.6" y="330.6" width="6" height="6" fill="#1a3ca4" opacity="0.47"/>
<rect x="1747.6" y="260.2" width="8" height="8" fill="#1a3ca4" opacity="0.46"/>
<rect x="1686.0" y="264.6" width="5" height="5" fill="#1a3ca4" opacity="0.51"/>
</g>
</g>
<rect x="1840.3" y="40.3" width="320.5000000000002" height="487.3" fill="#fff" stroke="#333" stroke-width="3.4"/>
<line x1="1857.5" x2="2020.8" y1="88.3" y2="88.3" stroke="#00ffff" stroke-width="11.6"/>
<text fill="#000" style="font-kerning:none"><tspan class="serif" font-style="italic" x="2032.87" y="112.67" font-size="64.36" textLength="25.90" lengthAdjust="spacingAndGlyphs">δ</tspan> <tspan class="sans" x="2075.75" y="112.67" font-size="64.41" textLength="65.76" lengthAdjust="spacingAndGlyphs">30</tspan></text>
<line x1="1857.5" x2="2020.8" y1="166.4" y2="166.4" stroke="#0072bd" stroke-width="11.6"/>
<text fill="#000" style="font-kerning:none"><tspan class="serif" font-style="italic" x="2032.87" y="190.77" font-size="64.36" textLength="25.90" lengthAdjust="spacingAndGlyphs">δ</tspan> <tspan class="sans" x="2076.66" y="190.77" font-size="64.41" textLength="64.81" lengthAdjust="spacingAndGlyphs">40</tspan></text>
<line x1="1857.5" x2="2020.8" y1="245" y2="245" stroke="#d95319" stroke-width="11.6"/>
<text fill="#000" style="font-kerning:none"><tspan class="serif" font-style="italic" x="2032.87" y="269.37" font-size="64.36" textLength="25.90" lengthAdjust="spacingAndGlyphs">δ</tspan> <tspan class="sans" x="2075.63" y="269.37" font-size="64.41" textLength="65.89" lengthAdjust="spacingAndGlyphs">50</tspan></text>
<line x1="1857.5" x2="2020.8" y1="324.3" y2="324.3" stroke="#edb120" stroke-width="11.6"/>
<text fill="#000" style="font-kerning:none"><tspan class="serif" font-style="italic" x="2032.87" y="348.67" font-size="64.36" textLength="25.90" lengthAdjust="spacingAndGlyphs">δ</tspan> <tspan class="sans" x="2074.96" y="348.67" font-size="64.41" textLength="66.58" lengthAdjust="spacingAndGlyphs">60</tspan></text>
<line x1="1857.5" x2="2020.8" y1="403" y2="403" stroke="#7e2f8e" stroke-width="11.6"/>
<text fill="#000" style="font-kerning:none"><tspan class="serif" font-style="italic" x="2032.87" y="427.37" font-size="64.36" textLength="25.90" lengthAdjust="spacingAndGlyphs">δ</tspan> <tspan class="sans" x="2074.93" y="427.37" font-size="64.41" textLength="66.61" lengthAdjust="spacingAndGlyphs">70</tspan></text>
<line x1="1857.5" x2="2020.8" y1="481.6" y2="481.6" stroke="#66d90d" stroke-width="11.6"/>
<text fill="#000" style="font-kerning:none"><tspan class="serif" font-style="italic" x="2032.87" y="505.97" font-size="64.36" textLength="25.90" lengthAdjust="spacingAndGlyphs">δ</tspan> <tspan class="sans" x="2075.42" y="505.97" font-size="64.41" textLength="66.10" lengthAdjust="spacingAndGlyphs">80</tspan></text>
<text fill="#1c1c1c" style="font-kerning:none"><tspan class="sans" x="468.06" y="1000.54" font-size="67.23" textLength="90.36" lengthAdjust="spacingAndGlyphs">0.5</tspan></text>
<text fill="#1c1c1c" style="font-kerning:none"><tspan class="sans" x="823.41" y="1001.20" font-size="69.19" textLength="36.15" lengthAdjust="spacingAndGlyphs">1</tspan></text>
<text fill="#1c1c1c" style="font-kerning:none"><tspan class="sans" x="1126.31" y="1000.53" font-size="68.22" textLength="90.36" lengthAdjust="spacingAndGlyphs">1.5</tspan></text>
<text fill="#1c1c1c" style="font-kerning:none"><tspan class="sans" x="1484.26" y="1001.20" font-size="68.17" textLength="36.15" lengthAdjust="spacingAndGlyphs">2</tspan></text>
<text fill="#1c1c1c" style="font-kerning:none"><tspan class="sans" x="1786.62" y="1000.54" font-size="67.23" textLength="90.36" lengthAdjust="spacingAndGlyphs">2.5</tspan></text>
<text fill="#1c1c1c" style="font-kerning:none"><tspan class="sans" x="2143.92" y="1000.54" font-size="67.23" textLength="36.15" lengthAdjust="spacingAndGlyphs">3</tspan></text>
<text fill="#1c1c1c" style="font-kerning:none"><tspan class="sans" x="173.99" y="317.63" font-size="68.64" textLength="70.28" lengthAdjust="spacingAndGlyphs">10</tspan><tspan class="sans" x="244.13" y="285.78" font-size="53.53" textLength="47.41" lengthAdjust="spacingAndGlyphs">-3</tspan></text>
<text fill="#1c1c1c" style="font-kerning:none"><tspan class="sans" x="173.99" y="666.53" font-size="68.64" textLength="70.28" lengthAdjust="spacingAndGlyphs">10</tspan><tspan class="sans" x="244.17" y="635.00" font-size="54.80" textLength="46.56" lengthAdjust="spacingAndGlyphs">-4</tspan></text>
<text transform="rotate(-90)" fill="#1c1c1c" style="font-kerning:none"><tspan class="serif" x="-672.53" y="121.40" font-size="97.59" textLength="37.15" lengthAdjust="spacingAndGlyphs">I</tspan><tspan class="serif" x="-630.51" y="123.57" font-size="104.88" textLength="28.14" lengthAdjust="spacingAndGlyphs">(</tspan><tspan class="serif" x="-599.62" y="121.59" font-size="86.47" textLength="51.48" lengthAdjust="spacingAndGlyphs">q</tspan><tspan class="serif" x="-546.12" y="123.57" font-size="104.88" textLength="28.14" lengthAdjust="spacingAndGlyphs">)</tspan><tspan class="serif" x="-506.00" y="144.22" font-size="141.12" textLength="34.30" lengthAdjust="spacingAndGlyphs">/</tspan><tspan class="serif" x="-465.37" y="122.99" font-size="92.69" textLength="47.64" lengthAdjust="spacingAndGlyphs">a</tspan><tspan class="serif" x="-414.58" y="121.66" font-size="94.78" textLength="21.16" lengthAdjust="spacingAndGlyphs">.</tspan><tspan class="serif" x="-389.21" y="123.09" font-size="92.80" textLength="49.50" lengthAdjust="spacingAndGlyphs">u</tspan><tspan class="serif" x="-336.49" y="121.66" font-size="94.78" textLength="23.48" lengthAdjust="spacingAndGlyphs">.</tspan></text>
<text fill="#1c1c1c" style="font-kerning:none"><tspan class="serif" x="1112.75" y="1086.16" font-size="81.43" textLength="47.78" lengthAdjust="spacingAndGlyphs">q</tspan><tspan class="serif" x="1165.00" y="1106.05" font-size="128.41" textLength="32.30" lengthAdjust="spacingAndGlyphs">/</tspan><tspan class="serif" x="1202.24" y="1086.80" font-size="84.47" textLength="120.23" lengthAdjust="spacingAndGlyphs">nm</tspan><tspan class="serif" x="1324.20" y="1060.00" font-size="62.00" textLength="43.02" lengthAdjust="spacingAndGlyphs">−</tspan><tspan class="serif" x="1369.38" y="1054.50" font-size="59.68" textLength="29.12" lengthAdjust="spacingAndGlyphs">1</tspan></text>
<text fill="#d84c14" style="font-kerning:none" stroke="#d84c14" stroke-width="0.6"><tspan class="serif" x="503.08" y="113.03" font-size="58.43" textLength="29.03" lengthAdjust="spacingAndGlyphs">δ</tspan> <tspan class="serif" x="544.95" y="112.85" font-size="56.31" textLength="61.07" lengthAdjust="spacingAndGlyphs">50</tspan><tspan class="serif" x="607.63" y="112.80" font-size="55.33" textLength="17.47" lengthAdjust="spacingAndGlyphs">:</tspan> <tspan class="serif" x="646.12" y="112.80" font-size="56.66" textLength="37.08" lengthAdjust="spacingAndGlyphs">H</tspan><tspan class="serif" x="682.56" y="125.80" font-size="39.38" textLength="23.01" lengthAdjust="spacingAndGlyphs">1</tspan><tspan class="sans" x="709.37" y="112.73" font-size="51.52" textLength="115.17" lengthAdjust="spacingAndGlyphs">(hex)</tspan></text>
<text fill="#0b72c1" style="font-kerning:none" stroke="#0b72c1" stroke-width="0.6"><tspan class="serif" x="392.21" y="224.43" font-size="58.43" textLength="29.99" lengthAdjust="spacingAndGlyphs">δ</tspan> <tspan class="serif" x="434.77" y="224.25" font-size="56.31" textLength="62.93" lengthAdjust="spacingAndGlyphs">40</tspan><tspan class="serif" x="495.62" y="224.20" font-size="55.33" textLength="18.89" lengthAdjust="spacingAndGlyphs">:</tspan> <tspan class="serif" x="534.48" y="224.20" font-size="56.66" textLength="38.06" lengthAdjust="spacingAndGlyphs">H</tspan><tspan class="serif" x="571.23" y="237.20" font-size="38.17" textLength="25.42" lengthAdjust="spacingAndGlyphs">1</tspan> <tspan class="sans" x="610.82" y="224.50" font-size="53.13" textLength="116.76" lengthAdjust="spacingAndGlyphs">(hex)</tspan></text>
<text fill="#efb32e" style="font-kerning:none" stroke="#efb32e" stroke-width="0.6"><tspan class="serif" x="336.89" y="426.23" font-size="58.01" textLength="32.72" lengthAdjust="spacingAndGlyphs">δ</tspan><tspan class="serif" x="369.46" y="426.04" font-size="56.91" textLength="59.20" lengthAdjust="spacingAndGlyphs">60</tspan><tspan class="serif" x="428.79" y="426.00" font-size="55.92" textLength="17.24" lengthAdjust="spacingAndGlyphs">:</tspan> <tspan class="serif" x="467.99" y="426.00" font-size="57.27" textLength="35.45" lengthAdjust="spacingAndGlyphs">H</tspan><tspan class="serif" x="502.33" y="436.90" font-size="38.48" textLength="25.42" lengthAdjust="spacingAndGlyphs">1</tspan> <tspan class="sans" x="542.65" y="425.98" font-size="53.24" textLength="115.91" lengthAdjust="spacingAndGlyphs">(hex)</tspan></text>
<text fill="#41b8ea" style="font-kerning:none" stroke="#41b8ea" stroke-width="0.6"><tspan class="serif" x="497.83" y="693.63" font-size="58.43" textLength="30.94" lengthAdjust="spacingAndGlyphs">δ</tspan> <tspan class="serif" x="540.38" y="693.44" font-size="57.50" textLength="63.02" lengthAdjust="spacingAndGlyphs">30</tspan><tspan class="serif" x="602.06" y="693.40" font-size="56.51" textLength="19.12" lengthAdjust="spacingAndGlyphs">:</tspan> <tspan class="serif" x="641.87" y="693.40" font-size="57.88" textLength="30.31" lengthAdjust="spacingAndGlyphs">L</tspan><tspan class="serif" x="668.03" y="704.00" font-size="36.96" textLength="25.42" lengthAdjust="spacingAndGlyphs">1</tspan> <tspan class="sans" x="708.26" y="692.98" font-size="53.24" textLength="115.98" lengthAdjust="spacingAndGlyphs">(mic)</tspan></text>
<text fill="#7b2b8b" style="font-kerning:none" stroke="#7b2b8b" stroke-width="0.6"><tspan class="serif" x="1474.45" y="737.43" font-size="58.57" textLength="32.01" lengthAdjust="spacingAndGlyphs">δ</tspan><tspan class="serif" x="1502.81" y="737.24" font-size="57.50" textLength="63.62" lengthAdjust="spacingAndGlyphs">70</tspan><tspan class="serif" x="1566.62" y="737.20" font-size="56.51" textLength="18.89" lengthAdjust="spacingAndGlyphs">:</tspan> <tspan class="serif" x="1605.57" y="737.20" font-size="57.88" textLength="30.43" lengthAdjust="spacingAndGlyphs">L</tspan><tspan class="serif" x="1635.97" y="749.75" font-size="45.70" textLength="26.57" lengthAdjust="spacingAndGlyphs">α</tspan> <tspan class="sans" x="1676.75" y="736.70" font-size="53.13" textLength="119.51" lengthAdjust="spacingAndGlyphs">(lam)</tspan></text>
<text fill="#6dac2c" style="font-kerning:none" stroke="#6dac2c" stroke-width="0.6"><tspan class="serif" x="1075.43" y="110.92" font-size="59.70" textLength="30.94" lengthAdjust="spacingAndGlyphs">δ</tspan> <tspan class="serif" x="1118.66" y="110.73" font-size="58.68" textLength="61.48" lengthAdjust="spacingAndGlyphs">80</tspan><tspan class="serif" x="1179.62" y="110.70" font-size="57.69" textLength="18.89" lengthAdjust="spacingAndGlyphs">:</tspan> <tspan class="serif" x="1219.37" y="110.70" font-size="59.10" textLength="30.43" lengthAdjust="spacingAndGlyphs">L</tspan><tspan class="serif" x="1248.90" y="122.36" font-size="45.28" textLength="27.48" lengthAdjust="spacingAndGlyphs">α</tspan><tspan class="sans" x="1276.00" y="110.20" font-size="53.13" textLength="121.09" lengthAdjust="spacingAndGlyphs">(lam)</tspan></text>
</g>
</svg>
</body></html>
